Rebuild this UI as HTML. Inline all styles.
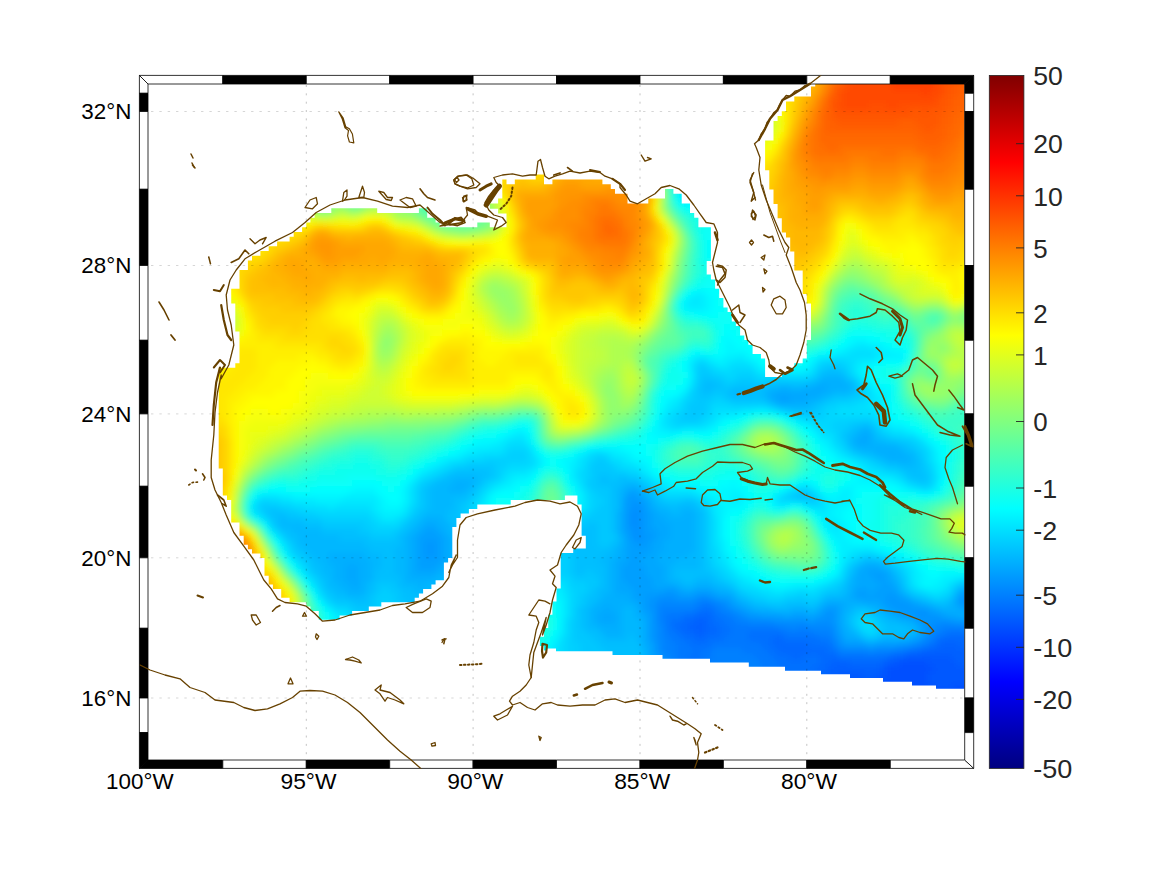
<!DOCTYPE html>
<html><head><meta charset="utf-8"><title>map</title>
<style>html,body{margin:0;padding:0;background:#fff;}svg{display:block}</style></head>
<body><svg width="1167" height="875" viewBox="0 0 1167 875">
<rect width="1167" height="875" fill="#fff"/>
<defs><clipPath id="oc"><path d="M548.2 758.1H964.7V760.3H548.2zM548.2 753.8H964.7V758.7H548.2zM548.2 749.5H964.7V754.4H548.2zM548.2 745.2H964.7V750.1H548.2zM548.2 740.9H964.7V745.8H548.2zM548.2 736.6H964.7V741.5H548.2zM548.2 732.3H964.7V737.2H548.2zM548.2 728.0H964.7V732.9H548.2zM548.2 723.7H964.7V728.6H548.2zM548.2 719.3H964.7V724.3H548.2zM548.2 715.0H964.7V719.9H548.2zM548.2 710.7H964.7V715.6H548.2zM548.2 706.4H964.7V711.3H548.2zM548.2 702.0H964.7V707.0H548.2zM548.2 697.7H964.7V702.6H548.2zM548.2 693.4H964.7V698.3H548.2zM548.2 689.0H964.7V694.0H548.2zM548.2 684.7H964.7V689.6H548.2zM548.2 680.3H964.7V685.3H548.2zM548.2 676.0H964.7V680.9H548.2zM548.2 671.6H964.7V676.6H548.2zM548.2 667.3H964.7V672.2H548.2zM548.2 662.9H964.7V667.9H548.2zM548.2 658.6H964.7V663.5H548.2zM548.2 654.2H964.7V659.2H548.2zM548.2 649.8H964.7V654.8H548.2zM544.0 645.5H964.7V650.4H544.0zM539.9 641.1H964.7V646.1H539.9zM539.9 636.7H964.7V641.7H539.9zM544.0 632.4H964.7V637.3H544.0zM544.0 628.0H964.7V633.0H544.0zM548.2 623.6H964.7V628.6H548.2zM548.2 619.2H964.7V624.2H548.2zM318.8 614.8H339.6V619.8H318.8zM548.2 614.8H964.7V619.8H548.2zM318.8 610.4H352.1V615.4H318.8zM552.4 610.4H964.7V615.4H552.4zM310.4 606.0H368.8V611.0H310.4zM552.4 606.0H964.7V611.0H552.4zM306.3 601.6H381.3V606.6H306.3zM552.4 601.6H964.7V606.6H552.4zM289.6 597.2H414.7V602.2H289.6zM556.5 597.2H964.7V602.2H556.5zM281.2 592.8H418.9V597.8H281.2zM556.5 592.8H964.7V597.8H556.5zM281.2 588.4H423.1V593.4H281.2zM556.5 588.4H964.7V593.4H556.5zM272.9 584.0H431.4V589.0H272.9zM560.7 584.0H964.7V589.0H560.7zM268.7 579.6H435.6V584.6H268.7zM560.7 579.6H964.7V584.6H560.7zM268.7 575.2H443.9V580.2H268.7zM560.7 575.2H964.7V580.2H560.7zM264.5 570.8H443.9V575.8H264.5zM560.7 570.8H964.7V575.8H560.7zM264.5 566.3H443.9V571.4H264.5zM560.7 566.3H964.7V571.4H560.7zM264.5 561.9H443.9V566.9H264.5zM560.7 561.9H964.7V566.9H560.7zM264.5 557.5H448.1V562.5H264.5zM560.7 557.5H964.7V562.5H560.7zM260.4 553.0H452.3V558.1H260.4zM560.7 553.0H964.7V558.1H560.7zM252.0 548.6H452.3V553.6H252.0zM573.2 548.6H964.7V553.6H573.2zM247.9 544.1H452.3V549.2H247.9zM585.8 544.1H964.7V549.2H585.8zM243.7 539.7H452.3V544.7H243.7zM585.8 539.7H964.7V544.7H585.8zM243.7 535.2H452.3V540.3H243.7zM585.8 535.2H964.7V540.3H585.8zM239.5 530.8H452.3V535.8H239.5zM581.6 530.8H964.7V535.8H581.6zM239.5 526.3H452.3V531.4H239.5zM581.6 526.3H964.7V531.4H581.6zM239.5 521.9H456.4V526.9H239.5zM581.6 521.9H964.7V526.9H581.6zM231.2 517.4H456.4V522.5H231.2zM581.6 517.4H964.7V522.5H581.6zM231.2 512.9H460.6V518.0H231.2zM581.6 512.9H964.7V518.0H581.6zM231.2 508.5H468.9V513.5H231.2zM581.6 508.5H964.7V513.5H581.6zM231.2 504.0H477.3V509.1H231.2zM581.6 504.0H964.7V509.1H581.6zM231.2 499.5H510.7V504.6H231.2zM577.4 499.5H964.7V504.6H577.4zM227.0 495.0H564.9V500.1H227.0zM577.4 495.0H964.7V500.1H577.4zM222.8 490.5H964.7V495.6H222.8zM222.8 486.0H964.7V491.1H222.8zM222.8 481.6H964.7V486.6H222.8zM222.8 477.1H964.7V482.2H222.8zM222.8 472.5H964.7V477.7H222.8zM222.8 468.0H964.7V473.1H222.8zM218.7 463.5H964.7V468.6H218.7zM218.7 459.0H964.7V464.1H218.7zM218.7 454.5H964.7V459.6H218.7zM218.7 450.0H964.7V455.1H218.7zM218.7 445.4H964.7V450.6H218.7zM218.7 440.9H964.7V446.0H218.7zM218.7 436.4H964.7V441.5H218.7zM218.7 431.8H964.7V437.0H218.7zM218.7 427.3H964.7V432.4H218.7zM218.7 422.7H964.7V427.9H218.7zM218.7 418.2H964.7V423.3H218.7zM218.7 413.6H964.7V418.8H218.7zM218.7 409.1H964.7V414.2H218.7zM218.7 404.5H964.7V409.7H218.7zM218.7 399.9H964.7V405.1H218.7zM218.7 395.3H964.7V400.5H218.7zM218.7 390.8H964.7V395.9H218.7zM218.7 386.2H964.7V391.4H218.7zM218.7 381.6H964.7V386.8H218.7zM218.7 377.0H964.7V382.2H218.7zM218.7 372.4H765.1V377.6H218.7zM781.8 372.4H964.7V377.6H781.8zM218.7 367.8H765.1V373.0H218.7zM790.2 367.8H964.7V373.0H790.2zM235.3 363.2H765.1V368.4H235.3zM794.3 363.2H964.7V368.4H794.3zM239.5 358.6H765.1V363.8H239.5zM802.7 358.6H964.7V363.8H802.7zM239.5 353.9H761.0V359.2H239.5zM806.8 353.9H964.7V359.2H806.8zM239.5 349.3H752.6V354.5H239.5zM806.8 349.3H964.7V354.5H806.8zM239.5 344.7H752.6V349.9H239.5zM806.8 344.7H964.7V349.9H806.8zM239.5 340.0H748.4V345.3H239.5zM806.8 340.0H964.7V345.3H806.8zM239.5 335.4H744.3V340.6H239.5zM811.0 335.4H964.7V340.6H811.0zM239.5 330.8H740.1V336.0H239.5zM811.0 330.8H964.7V336.0H811.0zM235.3 326.1H740.1V331.4H235.3zM811.0 326.1H964.7V331.4H811.0zM235.3 321.5H735.9V326.7H235.3zM811.0 321.5H964.7V326.7H811.0zM235.3 316.8H731.8V322.1H235.3zM811.0 316.8H964.7V322.1H811.0zM235.3 312.1H731.8V317.4H235.3zM811.0 312.1H964.7V317.4H811.0zM235.3 307.5H727.6V312.7H235.3zM811.0 307.5H964.7V312.7H811.0zM235.3 302.8H723.4V308.1H235.3zM811.0 302.8H964.7V308.1H811.0zM231.2 298.1H723.4V303.4H231.2zM806.8 298.1H964.7V303.4H806.8zM231.2 293.4H719.2V298.7H231.2zM806.8 293.4H964.7V298.7H806.8zM231.2 288.7H719.2V294.0H231.2zM802.7 288.7H964.7V294.0H802.7zM239.5 284.1H715.1V289.3H239.5zM802.7 284.1H964.7V289.3H802.7zM239.5 279.4H715.1V284.7H239.5zM802.7 279.4H964.7V284.7H802.7zM239.5 274.6H710.9V280.0H239.5zM802.7 274.6H964.7V280.0H802.7zM239.5 269.9H706.7V275.2H239.5zM802.7 269.9H964.7V275.2H802.7zM247.9 265.2H706.7V270.5H247.9zM794.3 265.2H964.7V270.5H794.3zM247.9 260.5H706.7V265.8H247.9zM794.3 260.5H964.7V265.8H794.3zM252.0 255.8H710.9V261.1H252.0zM794.3 255.8H964.7V261.1H794.3zM260.4 251.0H710.9V256.4H260.4zM794.3 251.0H964.7V256.4H794.3zM268.7 246.3H710.9V251.6H268.7zM790.2 246.3H964.7V251.6H790.2zM277.1 241.6H710.9V246.9H277.1zM790.2 241.6H964.7V246.9H790.2zM289.6 236.8H710.9V242.2H289.6zM790.2 236.8H964.7V242.2H790.2zM293.7 232.0H710.9V237.4H293.7zM786.0 232.0H964.7V237.4H786.0zM302.1 227.3H710.9V232.6H302.1zM781.8 227.3H964.7V232.6H781.8zM306.3 222.5H439.7V227.9H306.3zM477.3 222.5H489.8V227.9H477.3zM506.5 222.5H698.4V227.9H506.5zM781.8 222.5H964.7V227.9H781.8zM310.4 217.7H435.6V223.1H310.4zM506.5 217.7H698.4V223.1H506.5zM781.8 217.7H964.7V223.1H781.8zM314.6 213.0H427.2V218.3H314.6zM506.5 213.0H694.2V218.3H506.5zM777.6 213.0H964.7V218.3H777.6zM331.3 208.2H377.2V213.6H331.3zM418.9 208.2H427.2V213.6H418.9zM498.1 208.2H690.0V213.6H498.1zM777.6 208.2H964.7V213.6H777.6zM489.8 203.4H690.0V208.8H489.8zM777.6 203.4H964.7V208.8H777.6zM498.1 198.6H627.5V204.0H498.1zM648.3 198.6H681.7V204.0H648.3zM773.5 198.6H964.7V204.0H773.5zM502.3 193.8H627.5V199.2H502.3zM665.0 193.8H681.7V199.2H665.0zM773.5 193.8H964.7V199.2H773.5zM502.3 189.0H615.0V194.4H502.3zM665.0 189.0H673.4V194.4H665.0zM773.5 189.0H964.7V194.4H773.5zM502.3 184.2H610.8V189.6H502.3zM769.3 184.2H964.7V189.6H769.3zM502.3 179.4H506.5V184.8H502.3zM514.8 179.4H544.0V184.8H514.8zM552.4 179.4H602.4V184.8H552.4zM769.3 179.4H964.7V184.8H769.3zM535.7 174.5H544.0V180.0H535.7zM769.3 174.5H964.7V180.0H769.3zM769.3 169.7H964.7V175.1H769.3zM765.1 164.9H964.7V170.3H765.1zM765.1 160.0H964.7V165.5H765.1zM765.1 155.2H964.7V160.6H765.1zM765.1 150.3H964.7V155.8H765.1zM765.1 145.4H964.7V150.9H765.1zM765.1 140.6H964.7V146.0H765.1zM773.5 135.7H964.7V141.2H773.5zM773.5 130.8H964.7V136.3H773.5zM773.5 125.9H964.7V131.4H773.5zM773.5 121.0H964.7V126.5H773.5zM777.6 116.1H964.7V121.6H777.6zM781.8 111.2H964.7V116.7H781.8zM786.0 106.3H964.7V111.8H786.0zM786.0 101.4H964.7V106.9H786.0zM794.3 96.4H964.7V102.0H794.3zM811.0 91.5H964.7V97.0H811.0zM811.0 86.5H964.7V92.1H811.0zM815.2 83.7H964.7V87.1H815.2z"/></clipPath><clipPath id="so"><polygon points="148.0,84.0 964.7,84.0 964.7,688.8 964.7,688.8 936.0,688.8 936.0,685.5 912.0,685.5 912.0,681.8 883.0,681.8 883.0,678.0 850.0,678.0 850.0,674.2 821.0,674.2 821.0,670.8 785.0,670.8 785.0,666.8 748.8,666.8 748.8,662.5 710.0,662.5 710.0,658.8 662.5,658.8 662.5,655.0 612.5,655.0 612.5,651.2 556.0,651.2 556.0,648.5 547.0,648.5 547.0,760.0 148.0,760.0"/></clipPath><filter id="bl" x="-5%" y="-5%" width="110%" height="110%"><feGaussianBlur stdDeviation="3.0"/></filter></defs><g clip-path="url(#so)"><g clip-path="url(#oc)"><g filter="url(#bl)"><path fill="#0050ff" d="M898 660h30.5v6.5h-30.5zM886 666h48.5v6.5h-48.5zM886 672h42.5v6.5h-42.5zM880 678h48.5v6.5h-48.5zM874 684h60.5v6.5h-60.5zM952 684h24.5v6.5h-24.5zM850 690h126.5v6.5h-126.5zM844 696h132.5v6.5h-132.5z"/><path fill="#0058ff" d="M904 654h48.5v6.5h-48.5zM886 660h12.5v6.5h-12.5zM928 660h30.5v6.5h-30.5zM880 666h6.5v6.5h-6.5zM934 666h42.5v6.5h-42.5zM838 672h24.5v6.5h-24.5zM874 672h12.5v6.5h-12.5zM928 672h48.5v6.5h-48.5zM838 678h42.5v6.5h-42.5zM928 678h48.5v6.5h-48.5zM838 684h36.5v6.5h-36.5zM934 684h18.5v6.5h-18.5zM832 690h18.5v6.5h-18.5zM832 696h12.5v6.5h-12.5z"/><path fill="#0060ff" d="M694 618h12.5v6.5h-12.5zM688 624h18.5v6.5h-18.5zM694 630h12.5v6.5h-12.5zM940 642h18.5v6.5h-18.5zM922 648h54.5v6.5h-54.5zM892 654h12.5v6.5h-12.5zM952 654h24.5v6.5h-24.5zM832 660h18.5v6.5h-18.5zM880 660h6.5v6.5h-6.5zM958 660h18.5v6.5h-18.5zM826 666h54.5v6.5h-54.5zM826 672h12.5v6.5h-12.5zM862 672h12.5v6.5h-12.5zM826 678h12.5v6.5h-12.5zM820 684h18.5v6.5h-18.5zM820 690h12.5v6.5h-12.5zM814 696h18.5v6.5h-18.5z"/><path fill="#0068ff" d="M694 612h18.5v6.5h-18.5zM682 618h12.5v6.5h-12.5zM706 618h6.5v6.5h-6.5zM676 624h12.5v6.5h-12.5zM706 624h12.5v6.5h-12.5zM682 630h12.5v6.5h-12.5zM706 630h12.5v6.5h-12.5zM694 636h12.5v6.5h-12.5zM772 636h12.5v6.5h-12.5zM940 636h36.5v6.5h-36.5zM772 642h36.5v6.5h-36.5zM934 642h6.5v6.5h-6.5zM958 642h18.5v6.5h-18.5zM778 648h48.5v6.5h-48.5zM910 648h12.5v6.5h-12.5zM790 654h12.5v6.5h-12.5zM820 654h18.5v6.5h-18.5zM886 654h6.5v6.5h-6.5zM820 660h12.5v6.5h-12.5zM850 660h30.5v6.5h-30.5zM814 666h12.5v6.5h-12.5zM814 672h12.5v6.5h-12.5zM808 678h18.5v6.5h-18.5zM796 684h24.5v6.5h-24.5zM790 690h30.5v6.5h-30.5zM778 696h36.5v6.5h-36.5z"/><path fill="#0070ff" d="M700 606h12.5v6.5h-12.5zM682 612h12.5v6.5h-12.5zM712 612h6.5v6.5h-6.5zM670 618h12.5v6.5h-12.5zM712 618h12.5v6.5h-12.5zM670 624h6.5v6.5h-6.5zM718 624h12.5v6.5h-12.5zM676 630h6.5v6.5h-6.5zM718 630h12.5v6.5h-12.5zM748 630h36.5v6.5h-36.5zM946 630h24.5v6.5h-24.5zM682 636h12.5v6.5h-12.5zM706 636h18.5v6.5h-18.5zM748 636h24.5v6.5h-24.5zM784 636h36.5v6.5h-36.5zM934 636h6.5v6.5h-6.5zM688 642h24.5v6.5h-24.5zM760 642h12.5v6.5h-12.5zM808 642h24.5v6.5h-24.5zM928 642h6.5v6.5h-6.5zM694 648h6.5v6.5h-6.5zM766 648h12.5v6.5h-12.5zM826 648h12.5v6.5h-12.5zM904 648h6.5v6.5h-6.5zM688 654h12.5v6.5h-12.5zM772 654h18.5v6.5h-18.5zM802 654h18.5v6.5h-18.5zM838 654h48.5v6.5h-48.5zM688 660h12.5v6.5h-12.5zM778 660h42.5v6.5h-42.5zM778 666h36.5v6.5h-36.5zM784 672h30.5v6.5h-30.5zM784 678h24.5v6.5h-24.5zM778 684h18.5v6.5h-18.5zM760 690h30.5v6.5h-30.5zM754 696h24.5v6.5h-24.5z"/><path fill="#0078ff" d="M700 600h12.5v6.5h-12.5zM694 606h6.5v6.5h-6.5zM712 606h6.5v6.5h-6.5zM664 612h18.5v6.5h-18.5zM718 612h12.5v6.5h-12.5zM664 618h6.5v6.5h-6.5zM724 618h12.5v6.5h-12.5zM664 624h6.5v6.5h-6.5zM730 624h48.5v6.5h-48.5zM664 630h12.5v6.5h-12.5zM730 630h18.5v6.5h-18.5zM784 630h30.5v6.5h-30.5zM940 630h6.5v6.5h-6.5zM970 630h6.5v6.5h-6.5zM670 636h12.5v6.5h-12.5zM724 636h24.5v6.5h-24.5zM820 636h12.5v6.5h-12.5zM676 642h12.5v6.5h-12.5zM712 642h48.5v6.5h-48.5zM922 642h6.5v6.5h-6.5zM676 648h18.5v6.5h-18.5zM700 648h12.5v6.5h-12.5zM742 648h24.5v6.5h-24.5zM892 648h12.5v6.5h-12.5zM676 654h12.5v6.5h-12.5zM700 654h12.5v6.5h-12.5zM754 654h18.5v6.5h-18.5zM676 660h12.5v6.5h-12.5zM700 660h6.5v6.5h-6.5zM760 660h18.5v6.5h-18.5zM676 666h30.5v6.5h-30.5zM760 666h18.5v6.5h-18.5zM682 672h24.5v6.5h-24.5zM760 672h24.5v6.5h-24.5zM754 678h30.5v6.5h-30.5zM754 684h24.5v6.5h-24.5zM754 690h6.5v6.5h-6.5zM748 696h6.5v6.5h-6.5z"/><path fill="#0080ff" d="M694 600h6.5v6.5h-6.5zM712 600h6.5v6.5h-6.5zM658 606h36.5v6.5h-36.5zM718 606h6.5v6.5h-6.5zM658 612h6.5v6.5h-6.5zM730 612h6.5v6.5h-6.5zM658 618h6.5v6.5h-6.5zM736 618h12.5v6.5h-12.5zM778 624h12.5v6.5h-12.5zM796 624h12.5v6.5h-12.5zM940 624h24.5v6.5h-24.5zM814 630h18.5v6.5h-18.5zM934 630h6.5v6.5h-6.5zM664 636h6.5v6.5h-6.5zM928 636h6.5v6.5h-6.5zM664 642h12.5v6.5h-12.5zM832 642h6.5v6.5h-6.5zM916 642h6.5v6.5h-6.5zM664 648h12.5v6.5h-12.5zM712 648h30.5v6.5h-30.5zM838 648h30.5v6.5h-30.5zM874 648h18.5v6.5h-18.5zM670 654h6.5v6.5h-6.5zM712 654h42.5v6.5h-42.5zM670 660h6.5v6.5h-6.5zM706 660h54.5v6.5h-54.5zM670 666h6.5v6.5h-6.5zM706 666h18.5v6.5h-18.5zM736 666h24.5v6.5h-24.5zM676 672h6.5v6.5h-6.5zM706 672h18.5v6.5h-18.5zM736 672h24.5v6.5h-24.5zM676 678h48.5v6.5h-48.5zM730 678h24.5v6.5h-24.5zM682 684h72.5v6.5h-72.5zM718 690h36.5v6.5h-36.5zM718 696h30.5v6.5h-30.5z"/><path fill="#0087ff" d="M700 594h6.5v6.5h-6.5zM658 600h36.5v6.5h-36.5zM718 600h6.5v6.5h-6.5zM724 606h6.5v6.5h-6.5zM736 612h6.5v6.5h-6.5zM748 618h24.5v6.5h-24.5zM658 624h6.5v6.5h-6.5zM790 624h6.5v6.5h-6.5zM808 624h24.5v6.5h-24.5zM934 624h6.5v6.5h-6.5zM964 624h12.5v6.5h-12.5zM658 630h6.5v6.5h-6.5zM928 630h6.5v6.5h-6.5zM658 636h6.5v6.5h-6.5zM832 636h6.5v6.5h-6.5zM922 636h6.5v6.5h-6.5zM658 642h6.5v6.5h-6.5zM910 642h6.5v6.5h-6.5zM658 648h6.5v6.5h-6.5zM868 648h6.5v6.5h-6.5zM664 654h6.5v6.5h-6.5zM664 660h6.5v6.5h-6.5zM664 666h6.5v6.5h-6.5zM724 666h12.5v6.5h-12.5zM670 672h6.5v6.5h-6.5zM724 672h12.5v6.5h-12.5zM670 678h6.5v6.5h-6.5zM724 678h6.5v6.5h-6.5zM670 684h12.5v6.5h-12.5zM676 690h42.5v6.5h-42.5zM676 696h42.5v6.5h-42.5z"/><path fill="#008fff" d="M634 504h6.5v6.5h-6.5zM628 510h12.5v6.5h-12.5zM628 516h12.5v6.5h-12.5zM628 522h12.5v6.5h-12.5zM634 528h6.5v6.5h-6.5zM634 534h6.5v6.5h-6.5zM658 594h18.5v6.5h-18.5zM694 594h6.5v6.5h-6.5zM706 594h6.5v6.5h-6.5zM964 594h12.5v6.5h-12.5zM652 600h6.5v6.5h-6.5zM724 600h6.5v6.5h-6.5zM964 600h12.5v6.5h-12.5zM652 606h6.5v6.5h-6.5zM730 606h6.5v6.5h-6.5zM652 612h6.5v6.5h-6.5zM742 612h6.5v6.5h-6.5zM826 612h6.5v6.5h-6.5zM916 612h12.5v6.5h-12.5zM652 618h6.5v6.5h-6.5zM772 618h36.5v6.5h-36.5zM814 618h18.5v6.5h-18.5zM928 618h24.5v6.5h-24.5zM652 624h6.5v6.5h-6.5zM832 624h6.5v6.5h-6.5zM928 624h6.5v6.5h-6.5zM652 630h6.5v6.5h-6.5zM832 630h6.5v6.5h-6.5zM652 636h6.5v6.5h-6.5zM838 642h6.5v6.5h-6.5zM898 642h12.5v6.5h-12.5zM658 654h6.5v6.5h-6.5zM658 660h6.5v6.5h-6.5zM664 672h6.5v6.5h-6.5zM664 678h6.5v6.5h-6.5zM664 684h6.5v6.5h-6.5zM664 690h12.5v6.5h-12.5zM664 696h12.5v6.5h-12.5z"/><path fill="#0097ff" d="M628 492h6.5v6.5h-6.5zM628 498h12.5v6.5h-12.5zM628 504h6.5v6.5h-6.5zM640 504h6.5v6.5h-6.5zM640 510h6.5v6.5h-6.5zM640 516h6.5v6.5h-6.5zM640 522h6.5v6.5h-6.5zM628 528h6.5v6.5h-6.5zM640 528h6.5v6.5h-6.5zM628 534h6.5v6.5h-6.5zM640 534h12.5v6.5h-12.5zM424 540h12.5v6.5h-12.5zM634 540h12.5v6.5h-12.5zM424 546h12.5v6.5h-12.5zM424 552h12.5v6.5h-12.5zM664 588h12.5v6.5h-12.5zM646 594h12.5v6.5h-12.5zM676 594h18.5v6.5h-18.5zM712 594h6.5v6.5h-6.5zM886 594h12.5v6.5h-12.5zM958 594h6.5v6.5h-6.5zM646 600h6.5v6.5h-6.5zM886 600h24.5v6.5h-24.5zM958 600h6.5v6.5h-6.5zM646 606h6.5v6.5h-6.5zM736 606h6.5v6.5h-6.5zM826 606h12.5v6.5h-12.5zM892 606h36.5v6.5h-36.5zM748 612h12.5v6.5h-12.5zM820 612h6.5v6.5h-6.5zM832 612h6.5v6.5h-6.5zM904 612h12.5v6.5h-12.5zM928 612h12.5v6.5h-12.5zM808 618h6.5v6.5h-6.5zM832 618h6.5v6.5h-6.5zM916 618h12.5v6.5h-12.5zM952 618h24.5v6.5h-24.5zM922 624h6.5v6.5h-6.5zM922 630h6.5v6.5h-6.5zM838 636h6.5v6.5h-6.5zM916 636h6.5v6.5h-6.5zM652 642h6.5v6.5h-6.5zM844 642h24.5v6.5h-24.5zM874 642h24.5v6.5h-24.5zM652 648h6.5v6.5h-6.5zM658 666h6.5v6.5h-6.5zM658 672h6.5v6.5h-6.5zM658 678h6.5v6.5h-6.5zM658 684h6.5v6.5h-6.5zM658 690h6.5v6.5h-6.5zM658 696h6.5v6.5h-6.5z"/><path fill="#009fff" d="M778 396h12.5v6.5h-12.5zM634 492h6.5v6.5h-6.5zM622 498h6.5v6.5h-6.5zM640 498h6.5v6.5h-6.5zM622 504h6.5v6.5h-6.5zM622 510h6.5v6.5h-6.5zM646 510h6.5v6.5h-6.5zM622 516h6.5v6.5h-6.5zM646 516h6.5v6.5h-6.5zM622 522h6.5v6.5h-6.5zM646 522h6.5v6.5h-6.5zM424 528h12.5v6.5h-12.5zM622 528h6.5v6.5h-6.5zM646 528h12.5v6.5h-12.5zM418 534h24.5v6.5h-24.5zM652 534h6.5v6.5h-6.5zM418 540h6.5v6.5h-6.5zM436 540h6.5v6.5h-6.5zM628 540h6.5v6.5h-6.5zM646 540h6.5v6.5h-6.5zM418 546h6.5v6.5h-6.5zM436 546h6.5v6.5h-6.5zM628 546h24.5v6.5h-24.5zM418 552h6.5v6.5h-6.5zM436 552h6.5v6.5h-6.5zM628 552h18.5v6.5h-18.5zM418 558h24.5v6.5h-24.5zM628 558h12.5v6.5h-12.5zM418 564h18.5v6.5h-18.5zM622 564h24.5v6.5h-24.5zM622 570h24.5v6.5h-24.5zM868 570h18.5v6.5h-18.5zM622 576h30.5v6.5h-30.5zM874 576h12.5v6.5h-12.5zM628 582h24.5v6.5h-24.5zM880 582h12.5v6.5h-12.5zM634 588h30.5v6.5h-30.5zM676 588h6.5v6.5h-6.5zM694 588h18.5v6.5h-18.5zM856 588h12.5v6.5h-12.5zM874 588h24.5v6.5h-24.5zM964 588h12.5v6.5h-12.5zM634 594h12.5v6.5h-12.5zM718 594h12.5v6.5h-12.5zM856 594h30.5v6.5h-30.5zM898 594h6.5v6.5h-6.5zM640 600h6.5v6.5h-6.5zM730 600h6.5v6.5h-6.5zM880 600h6.5v6.5h-6.5zM910 600h6.5v6.5h-6.5zM640 606h6.5v6.5h-6.5zM742 606h6.5v6.5h-6.5zM820 606h6.5v6.5h-6.5zM886 606h6.5v6.5h-6.5zM928 606h6.5v6.5h-6.5zM964 606h12.5v6.5h-12.5zM646 612h6.5v6.5h-6.5zM760 612h24.5v6.5h-24.5zM790 612h18.5v6.5h-18.5zM814 612h6.5v6.5h-6.5zM898 612h6.5v6.5h-6.5zM940 612h6.5v6.5h-6.5zM970 612h6.5v6.5h-6.5zM646 618h6.5v6.5h-6.5zM646 624h6.5v6.5h-6.5zM646 630h6.5v6.5h-6.5zM838 630h6.5v6.5h-6.5zM646 636h6.5v6.5h-6.5zM910 636h6.5v6.5h-6.5zM868 642h6.5v6.5h-6.5zM652 654h6.5v6.5h-6.5zM652 660h6.5v6.5h-6.5zM652 666h6.5v6.5h-6.5zM652 672h6.5v6.5h-6.5zM652 678h6.5v6.5h-6.5zM652 684h6.5v6.5h-6.5zM646 690h12.5v6.5h-12.5zM646 696h12.5v6.5h-12.5z"/><path fill="#00a7ff" d="M814 384h12.5v6.5h-12.5zM772 390h48.5v6.5h-48.5zM772 396h6.5v6.5h-6.5zM790 396h18.5v6.5h-18.5zM862 432h6.5v6.5h-6.5zM856 438h12.5v6.5h-12.5zM628 486h12.5v6.5h-12.5zM622 492h6.5v6.5h-6.5zM640 492h6.5v6.5h-6.5zM646 498h6.5v6.5h-6.5zM646 504h6.5v6.5h-6.5zM652 510h6.5v6.5h-6.5zM652 516h12.5v6.5h-12.5zM424 522h12.5v6.5h-12.5zM652 522h18.5v6.5h-18.5zM418 528h6.5v6.5h-6.5zM436 528h6.5v6.5h-6.5zM658 528h12.5v6.5h-12.5zM412 534h6.5v6.5h-6.5zM442 534h6.5v6.5h-6.5zM622 534h6.5v6.5h-6.5zM658 534h12.5v6.5h-12.5zM412 540h6.5v6.5h-6.5zM442 540h6.5v6.5h-6.5zM622 540h6.5v6.5h-6.5zM652 540h12.5v6.5h-12.5zM412 546h6.5v6.5h-6.5zM442 546h6.5v6.5h-6.5zM622 546h6.5v6.5h-6.5zM652 546h12.5v6.5h-12.5zM412 552h6.5v6.5h-6.5zM442 552h6.5v6.5h-6.5zM622 552h6.5v6.5h-6.5zM646 552h12.5v6.5h-12.5zM412 558h6.5v6.5h-6.5zM442 558h6.5v6.5h-6.5zM616 558h12.5v6.5h-12.5zM640 558h18.5v6.5h-18.5zM346 564h12.5v6.5h-12.5zM412 564h6.5v6.5h-6.5zM436 564h6.5v6.5h-6.5zM616 564h6.5v6.5h-6.5zM646 564h18.5v6.5h-18.5zM862 564h18.5v6.5h-18.5zM346 570h12.5v6.5h-12.5zM412 570h24.5v6.5h-24.5zM616 570h6.5v6.5h-6.5zM646 570h18.5v6.5h-18.5zM856 570h12.5v6.5h-12.5zM886 570h6.5v6.5h-6.5zM346 576h12.5v6.5h-12.5zM616 576h6.5v6.5h-6.5zM652 576h12.5v6.5h-12.5zM856 576h18.5v6.5h-18.5zM886 576h6.5v6.5h-6.5zM352 582h6.5v6.5h-6.5zM616 582h12.5v6.5h-12.5zM652 582h24.5v6.5h-24.5zM856 582h24.5v6.5h-24.5zM892 582h6.5v6.5h-6.5zM616 588h18.5v6.5h-18.5zM682 588h12.5v6.5h-12.5zM712 588h6.5v6.5h-6.5zM850 588h6.5v6.5h-6.5zM868 588h6.5v6.5h-6.5zM958 588h6.5v6.5h-6.5zM628 594h6.5v6.5h-6.5zM730 594h6.5v6.5h-6.5zM850 594h6.5v6.5h-6.5zM904 594h6.5v6.5h-6.5zM634 600h6.5v6.5h-6.5zM736 600h6.5v6.5h-6.5zM826 600h18.5v6.5h-18.5zM862 600h18.5v6.5h-18.5zM916 600h6.5v6.5h-6.5zM952 600h6.5v6.5h-6.5zM604 606h6.5v6.5h-6.5zM748 606h6.5v6.5h-6.5zM838 606h6.5v6.5h-6.5zM880 606h6.5v6.5h-6.5zM934 606h6.5v6.5h-6.5zM958 606h6.5v6.5h-6.5zM598 612h18.5v6.5h-18.5zM640 612h6.5v6.5h-6.5zM784 612h6.5v6.5h-6.5zM808 612h6.5v6.5h-6.5zM838 612h6.5v6.5h-6.5zM892 612h6.5v6.5h-6.5zM946 612h12.5v6.5h-12.5zM964 612h6.5v6.5h-6.5zM598 618h18.5v6.5h-18.5zM838 618h6.5v6.5h-6.5zM910 618h6.5v6.5h-6.5zM838 624h6.5v6.5h-6.5zM916 624h6.5v6.5h-6.5zM916 630h6.5v6.5h-6.5zM844 636h18.5v6.5h-18.5zM904 636h6.5v6.5h-6.5zM646 642h6.5v6.5h-6.5zM646 648h6.5v6.5h-6.5zM646 654h6.5v6.5h-6.5zM646 660h6.5v6.5h-6.5zM646 666h6.5v6.5h-6.5zM646 672h6.5v6.5h-6.5zM646 678h6.5v6.5h-6.5zM640 684h12.5v6.5h-12.5zM640 690h6.5v6.5h-6.5zM640 696h6.5v6.5h-6.5z"/><path fill="#00afff" d="M820 378h24.5v6.5h-24.5zM778 384h12.5v6.5h-12.5zM802 384h12.5v6.5h-12.5zM826 384h24.5v6.5h-24.5zM766 390h6.5v6.5h-6.5zM820 390h12.5v6.5h-12.5zM766 396h6.5v6.5h-6.5zM808 396h12.5v6.5h-12.5zM778 402h30.5v6.5h-30.5zM862 426h6.5v6.5h-6.5zM856 432h6.5v6.5h-6.5zM868 432h6.5v6.5h-6.5zM850 438h6.5v6.5h-6.5zM868 438h6.5v6.5h-6.5zM856 444h42.5v6.5h-42.5zM874 450h30.5v6.5h-30.5zM886 456h24.5v6.5h-24.5zM454 480h18.5v6.5h-18.5zM448 486h18.5v6.5h-18.5zM622 486h6.5v6.5h-6.5zM652 504h6.5v6.5h-6.5zM616 510h6.5v6.5h-6.5zM658 510h12.5v6.5h-12.5zM682 510h12.5v6.5h-12.5zM424 516h18.5v6.5h-18.5zM616 516h6.5v6.5h-6.5zM664 516h30.5v6.5h-30.5zM418 522h6.5v6.5h-6.5zM436 522h12.5v6.5h-12.5zM616 522h6.5v6.5h-6.5zM670 522h24.5v6.5h-24.5zM412 528h6.5v6.5h-6.5zM442 528h6.5v6.5h-6.5zM616 528h6.5v6.5h-6.5zM670 528h24.5v6.5h-24.5zM406 534h6.5v6.5h-6.5zM448 534h6.5v6.5h-6.5zM670 534h24.5v6.5h-24.5zM406 540h6.5v6.5h-6.5zM448 540h24.5v6.5h-24.5zM664 540h30.5v6.5h-30.5zM406 546h6.5v6.5h-6.5zM448 546h24.5v6.5h-24.5zM616 546h6.5v6.5h-6.5zM664 546h30.5v6.5h-30.5zM328 552h36.5v6.5h-36.5zM406 552h6.5v6.5h-6.5zM448 552h24.5v6.5h-24.5zM616 552h6.5v6.5h-6.5zM658 552h30.5v6.5h-30.5zM328 558h42.5v6.5h-42.5zM406 558h6.5v6.5h-6.5zM448 558h18.5v6.5h-18.5zM610 558h6.5v6.5h-6.5zM658 558h18.5v6.5h-18.5zM334 564h12.5v6.5h-12.5zM358 564h12.5v6.5h-12.5zM406 564h6.5v6.5h-6.5zM442 564h24.5v6.5h-24.5zM610 564h6.5v6.5h-6.5zM664 564h6.5v6.5h-6.5zM856 564h6.5v6.5h-6.5zM880 564h6.5v6.5h-6.5zM334 570h12.5v6.5h-12.5zM358 570h12.5v6.5h-12.5zM406 570h6.5v6.5h-6.5zM436 570h24.5v6.5h-24.5zM610 570h6.5v6.5h-6.5zM664 570h6.5v6.5h-6.5zM334 576h12.5v6.5h-12.5zM358 576h12.5v6.5h-12.5zM406 576h30.5v6.5h-30.5zM610 576h6.5v6.5h-6.5zM664 576h6.5v6.5h-6.5zM850 576h6.5v6.5h-6.5zM892 576h6.5v6.5h-6.5zM340 582h12.5v6.5h-12.5zM358 582h6.5v6.5h-6.5zM418 582h6.5v6.5h-6.5zM610 582h6.5v6.5h-6.5zM676 582h6.5v6.5h-6.5zM694 582h18.5v6.5h-18.5zM850 582h6.5v6.5h-6.5zM346 588h18.5v6.5h-18.5zM610 588h6.5v6.5h-6.5zM718 588h12.5v6.5h-12.5zM898 588h6.5v6.5h-6.5zM604 594h24.5v6.5h-24.5zM844 594h6.5v6.5h-6.5zM952 594h6.5v6.5h-6.5zM598 600h36.5v6.5h-36.5zM742 600h6.5v6.5h-6.5zM820 600h6.5v6.5h-6.5zM844 600h18.5v6.5h-18.5zM922 600h6.5v6.5h-6.5zM592 606h12.5v6.5h-12.5zM610 606h12.5v6.5h-12.5zM634 606h6.5v6.5h-6.5zM754 606h18.5v6.5h-18.5zM790 606h18.5v6.5h-18.5zM814 606h6.5v6.5h-6.5zM844 606h6.5v6.5h-6.5zM874 606h6.5v6.5h-6.5zM940 606h18.5v6.5h-18.5zM592 612h6.5v6.5h-6.5zM616 612h6.5v6.5h-6.5zM634 612h6.5v6.5h-6.5zM886 612h6.5v6.5h-6.5zM958 612h6.5v6.5h-6.5zM592 618h6.5v6.5h-6.5zM616 618h6.5v6.5h-6.5zM640 618h6.5v6.5h-6.5zM898 618h12.5v6.5h-12.5zM598 624h24.5v6.5h-24.5zM640 624h6.5v6.5h-6.5zM844 624h6.5v6.5h-6.5zM604 630h18.5v6.5h-18.5zM640 630h6.5v6.5h-6.5zM844 630h12.5v6.5h-12.5zM640 636h6.5v6.5h-6.5zM880 636h24.5v6.5h-24.5zM640 642h6.5v6.5h-6.5zM640 666h6.5v6.5h-6.5zM640 672h6.5v6.5h-6.5zM640 678h6.5v6.5h-6.5zM634 684h6.5v6.5h-6.5zM634 690h6.5v6.5h-6.5zM634 696h6.5v6.5h-6.5z"/><path fill="#00b7ff" d="M820 372h24.5v6.5h-24.5zM814 378h6.5v6.5h-6.5zM844 378h6.5v6.5h-6.5zM706 384h6.5v6.5h-6.5zM766 384h12.5v6.5h-12.5zM790 384h12.5v6.5h-12.5zM850 384h6.5v6.5h-6.5zM730 390h18.5v6.5h-18.5zM760 390h6.5v6.5h-6.5zM832 390h18.5v6.5h-18.5zM820 396h6.5v6.5h-6.5zM772 402h6.5v6.5h-6.5zM808 402h6.5v6.5h-6.5zM856 426h6.5v6.5h-6.5zM868 426h6.5v6.5h-6.5zM850 432h6.5v6.5h-6.5zM874 438h12.5v6.5h-12.5zM850 444h6.5v6.5h-6.5zM898 444h6.5v6.5h-6.5zM862 450h12.5v6.5h-12.5zM904 450h12.5v6.5h-12.5zM880 456h6.5v6.5h-6.5zM910 456h6.5v6.5h-6.5zM898 462h18.5v6.5h-18.5zM448 474h30.5v6.5h-30.5zM436 480h18.5v6.5h-18.5zM472 480h6.5v6.5h-6.5zM622 480h18.5v6.5h-18.5zM430 486h18.5v6.5h-18.5zM466 486h6.5v6.5h-6.5zM616 486h6.5v6.5h-6.5zM640 486h6.5v6.5h-6.5zM430 492h36.5v6.5h-36.5zM616 492h6.5v6.5h-6.5zM646 492h6.5v6.5h-6.5zM430 498h24.5v6.5h-24.5zM616 498h6.5v6.5h-6.5zM652 498h6.5v6.5h-6.5zM430 504h24.5v6.5h-24.5zM616 504h6.5v6.5h-6.5zM658 504h12.5v6.5h-12.5zM676 504h18.5v6.5h-18.5zM424 510h24.5v6.5h-24.5zM670 510h12.5v6.5h-12.5zM694 510h6.5v6.5h-6.5zM280 516h6.5v6.5h-6.5zM418 516h6.5v6.5h-6.5zM442 516h6.5v6.5h-6.5zM694 516h6.5v6.5h-6.5zM280 522h24.5v6.5h-24.5zM412 522h6.5v6.5h-6.5zM448 522h6.5v6.5h-6.5zM694 522h6.5v6.5h-6.5zM292 528h30.5v6.5h-30.5zM406 528h6.5v6.5h-6.5zM448 528h12.5v6.5h-12.5zM694 528h6.5v6.5h-6.5zM298 534h42.5v6.5h-42.5zM400 534h6.5v6.5h-6.5zM454 534h18.5v6.5h-18.5zM616 534h6.5v6.5h-6.5zM694 534h6.5v6.5h-6.5zM298 540h66.5v6.5h-66.5zM400 540h6.5v6.5h-6.5zM616 540h6.5v6.5h-6.5zM694 540h6.5v6.5h-6.5zM304 546h66.5v6.5h-66.5zM394 546h12.5v6.5h-12.5zM610 546h6.5v6.5h-6.5zM694 546h6.5v6.5h-6.5zM310 552h18.5v6.5h-18.5zM364 552h18.5v6.5h-18.5zM394 552h12.5v6.5h-12.5zM604 552h12.5v6.5h-12.5zM688 552h12.5v6.5h-12.5zM316 558h12.5v6.5h-12.5zM370 558h12.5v6.5h-12.5zM394 558h12.5v6.5h-12.5zM598 558h12.5v6.5h-12.5zM676 558h24.5v6.5h-24.5zM862 558h18.5v6.5h-18.5zM322 564h12.5v6.5h-12.5zM370 564h12.5v6.5h-12.5zM394 564h12.5v6.5h-12.5zM604 564h6.5v6.5h-6.5zM670 564h30.5v6.5h-30.5zM886 564h6.5v6.5h-6.5zM322 570h12.5v6.5h-12.5zM370 570h6.5v6.5h-6.5zM394 570h12.5v6.5h-12.5zM604 570h6.5v6.5h-6.5zM670 570h6.5v6.5h-6.5zM850 570h6.5v6.5h-6.5zM892 570h6.5v6.5h-6.5zM328 576h6.5v6.5h-6.5zM370 576h6.5v6.5h-6.5zM400 576h6.5v6.5h-6.5zM436 576h24.5v6.5h-24.5zM604 576h6.5v6.5h-6.5zM670 576h12.5v6.5h-12.5zM694 576h18.5v6.5h-18.5zM328 582h12.5v6.5h-12.5zM364 582h6.5v6.5h-6.5zM400 582h18.5v6.5h-18.5zM424 582h30.5v6.5h-30.5zM604 582h6.5v6.5h-6.5zM682 582h12.5v6.5h-12.5zM712 582h12.5v6.5h-12.5zM844 582h6.5v6.5h-6.5zM898 582h6.5v6.5h-6.5zM964 582h12.5v6.5h-12.5zM334 588h12.5v6.5h-12.5zM364 588h6.5v6.5h-6.5zM412 588h36.5v6.5h-36.5zM598 588h12.5v6.5h-12.5zM730 588h6.5v6.5h-6.5zM844 588h6.5v6.5h-6.5zM346 594h18.5v6.5h-18.5zM424 594h18.5v6.5h-18.5zM598 594h6.5v6.5h-6.5zM736 594h6.5v6.5h-6.5zM826 594h18.5v6.5h-18.5zM910 594h6.5v6.5h-6.5zM592 600h6.5v6.5h-6.5zM748 600h6.5v6.5h-6.5zM928 600h6.5v6.5h-6.5zM946 600h6.5v6.5h-6.5zM586 606h6.5v6.5h-6.5zM622 606h12.5v6.5h-12.5zM772 606h18.5v6.5h-18.5zM808 606h6.5v6.5h-6.5zM850 606h6.5v6.5h-6.5zM868 606h6.5v6.5h-6.5zM586 612h6.5v6.5h-6.5zM622 612h12.5v6.5h-12.5zM844 612h6.5v6.5h-6.5zM880 612h6.5v6.5h-6.5zM586 618h6.5v6.5h-6.5zM622 618h18.5v6.5h-18.5zM844 618h6.5v6.5h-6.5zM886 618h12.5v6.5h-12.5zM586 624h12.5v6.5h-12.5zM622 624h18.5v6.5h-18.5zM904 624h12.5v6.5h-12.5zM598 630h6.5v6.5h-6.5zM622 630h18.5v6.5h-18.5zM910 630h6.5v6.5h-6.5zM604 636h24.5v6.5h-24.5zM634 636h6.5v6.5h-6.5zM862 636h6.5v6.5h-6.5zM874 636h6.5v6.5h-6.5zM640 648h6.5v6.5h-6.5zM640 654h6.5v6.5h-6.5zM640 660h6.5v6.5h-6.5zM634 666h6.5v6.5h-6.5zM634 672h6.5v6.5h-6.5zM628 678h12.5v6.5h-12.5zM628 684h6.5v6.5h-6.5zM628 690h6.5v6.5h-6.5zM628 696h6.5v6.5h-6.5z"/><path fill="#00bfff" d="M826 366h12.5v6.5h-12.5zM700 378h18.5v6.5h-18.5zM808 378h6.5v6.5h-6.5zM850 378h6.5v6.5h-6.5zM700 384h6.5v6.5h-6.5zM712 384h12.5v6.5h-12.5zM730 384h36.5v6.5h-36.5zM700 390h12.5v6.5h-12.5zM724 390h6.5v6.5h-6.5zM748 390h12.5v6.5h-12.5zM850 390h6.5v6.5h-6.5zM730 396h36.5v6.5h-36.5zM826 396h6.5v6.5h-6.5zM814 402h6.5v6.5h-6.5zM790 408h24.5v6.5h-24.5zM862 420h6.5v6.5h-6.5zM850 426h6.5v6.5h-6.5zM844 432h6.5v6.5h-6.5zM874 432h6.5v6.5h-6.5zM844 438h6.5v6.5h-6.5zM886 438h12.5v6.5h-12.5zM904 444h6.5v6.5h-6.5zM856 450h6.5v6.5h-6.5zM874 456h6.5v6.5h-6.5zM916 456h6.5v6.5h-6.5zM886 462h12.5v6.5h-12.5zM916 462h6.5v6.5h-6.5zM454 468h36.5v6.5h-36.5zM904 468h18.5v6.5h-18.5zM442 474h6.5v6.5h-6.5zM478 474h12.5v6.5h-12.5zM598 474h12.5v6.5h-12.5zM616 474h12.5v6.5h-12.5zM910 474h18.5v6.5h-18.5zM430 480h6.5v6.5h-6.5zM478 480h6.5v6.5h-6.5zM598 480h24.5v6.5h-24.5zM424 486h6.5v6.5h-6.5zM472 486h6.5v6.5h-6.5zM610 486h6.5v6.5h-6.5zM646 486h6.5v6.5h-6.5zM424 492h6.5v6.5h-6.5zM466 492h6.5v6.5h-6.5zM610 492h6.5v6.5h-6.5zM652 492h6.5v6.5h-6.5zM796 492h12.5v6.5h-12.5zM424 498h6.5v6.5h-6.5zM454 498h12.5v6.5h-12.5zM610 498h6.5v6.5h-6.5zM658 498h6.5v6.5h-6.5zM682 498h12.5v6.5h-12.5zM424 504h6.5v6.5h-6.5zM454 504h6.5v6.5h-6.5zM610 504h6.5v6.5h-6.5zM670 504h6.5v6.5h-6.5zM694 504h6.5v6.5h-6.5zM268 510h18.5v6.5h-18.5zM418 510h6.5v6.5h-6.5zM448 510h12.5v6.5h-12.5zM610 510h6.5v6.5h-6.5zM700 510h6.5v6.5h-6.5zM274 516h6.5v6.5h-6.5zM286 516h18.5v6.5h-18.5zM412 516h6.5v6.5h-6.5zM448 516h12.5v6.5h-12.5zM610 516h6.5v6.5h-6.5zM700 516h6.5v6.5h-6.5zM274 522h6.5v6.5h-6.5zM304 522h18.5v6.5h-18.5zM406 522h6.5v6.5h-6.5zM454 522h12.5v6.5h-12.5zM586 522h12.5v6.5h-12.5zM610 522h6.5v6.5h-6.5zM700 522h6.5v6.5h-6.5zM280 528h12.5v6.5h-12.5zM322 528h36.5v6.5h-36.5zM400 528h6.5v6.5h-6.5zM460 528h12.5v6.5h-12.5zM568 528h30.5v6.5h-30.5zM610 528h6.5v6.5h-6.5zM700 528h6.5v6.5h-6.5zM286 534h12.5v6.5h-12.5zM340 534h30.5v6.5h-30.5zM394 534h6.5v6.5h-6.5zM574 534h24.5v6.5h-24.5zM700 534h6.5v6.5h-6.5zM292 540h6.5v6.5h-6.5zM364 540h36.5v6.5h-36.5zM574 540h24.5v6.5h-24.5zM610 540h6.5v6.5h-6.5zM700 540h6.5v6.5h-6.5zM298 546h6.5v6.5h-6.5zM370 546h24.5v6.5h-24.5zM574 546h36.5v6.5h-36.5zM700 546h6.5v6.5h-6.5zM304 552h6.5v6.5h-6.5zM382 552h12.5v6.5h-12.5zM574 552h30.5v6.5h-30.5zM700 552h6.5v6.5h-6.5zM310 558h6.5v6.5h-6.5zM382 558h12.5v6.5h-12.5zM574 558h24.5v6.5h-24.5zM700 558h6.5v6.5h-6.5zM880 558h6.5v6.5h-6.5zM310 564h12.5v6.5h-12.5zM382 564h12.5v6.5h-12.5zM574 564h30.5v6.5h-30.5zM700 564h6.5v6.5h-6.5zM850 564h6.5v6.5h-6.5zM316 570h6.5v6.5h-6.5zM376 570h18.5v6.5h-18.5zM574 570h12.5v6.5h-12.5zM592 570h12.5v6.5h-12.5zM676 570h36.5v6.5h-36.5zM322 576h6.5v6.5h-6.5zM376 576h24.5v6.5h-24.5zM598 576h6.5v6.5h-6.5zM682 576h12.5v6.5h-12.5zM712 576h6.5v6.5h-6.5zM844 576h6.5v6.5h-6.5zM898 576h6.5v6.5h-6.5zM322 582h6.5v6.5h-6.5zM370 582h6.5v6.5h-6.5zM394 582h6.5v6.5h-6.5zM598 582h6.5v6.5h-6.5zM724 582h6.5v6.5h-6.5zM958 582h6.5v6.5h-6.5zM328 588h6.5v6.5h-6.5zM370 588h6.5v6.5h-6.5zM400 588h12.5v6.5h-12.5zM592 588h6.5v6.5h-6.5zM838 588h6.5v6.5h-6.5zM904 588h6.5v6.5h-6.5zM952 588h6.5v6.5h-6.5zM334 594h12.5v6.5h-12.5zM364 594h6.5v6.5h-6.5zM400 594h24.5v6.5h-24.5zM586 594h12.5v6.5h-12.5zM742 594h6.5v6.5h-6.5zM820 594h6.5v6.5h-6.5zM916 594h6.5v6.5h-6.5zM352 600h18.5v6.5h-18.5zM406 600h24.5v6.5h-24.5zM586 600h6.5v6.5h-6.5zM754 600h12.5v6.5h-12.5zM784 600h24.5v6.5h-24.5zM814 600h6.5v6.5h-6.5zM934 600h12.5v6.5h-12.5zM406 606h18.5v6.5h-18.5zM580 606h6.5v6.5h-6.5zM856 606h12.5v6.5h-12.5zM406 612h12.5v6.5h-12.5zM580 612h6.5v6.5h-6.5zM850 612h6.5v6.5h-6.5zM874 612h6.5v6.5h-6.5zM580 618h6.5v6.5h-6.5zM880 618h6.5v6.5h-6.5zM580 624h6.5v6.5h-6.5zM850 624h6.5v6.5h-6.5zM886 624h18.5v6.5h-18.5zM586 630h12.5v6.5h-12.5zM856 630h6.5v6.5h-6.5zM880 630h30.5v6.5h-30.5zM592 636h12.5v6.5h-12.5zM628 636h6.5v6.5h-6.5zM868 636h6.5v6.5h-6.5zM598 642h42.5v6.5h-42.5zM604 648h36.5v6.5h-36.5zM610 654h30.5v6.5h-30.5zM622 660h18.5v6.5h-18.5zM622 666h12.5v6.5h-12.5zM622 672h12.5v6.5h-12.5zM616 678h12.5v6.5h-12.5zM616 684h12.5v6.5h-12.5zM616 690h12.5v6.5h-12.5zM616 696h12.5v6.5h-12.5z"/><path fill="#00c7ff" d="M700 366h6.5v6.5h-6.5zM820 366h6.5v6.5h-6.5zM838 366h6.5v6.5h-6.5zM700 372h12.5v6.5h-12.5zM814 372h6.5v6.5h-6.5zM844 372h6.5v6.5h-6.5zM718 378h6.5v6.5h-6.5zM736 378h18.5v6.5h-18.5zM766 378h42.5v6.5h-42.5zM694 384h6.5v6.5h-6.5zM724 384h6.5v6.5h-6.5zM856 384h6.5v6.5h-6.5zM694 390h6.5v6.5h-6.5zM712 390h12.5v6.5h-12.5zM856 390h6.5v6.5h-6.5zM694 396h18.5v6.5h-18.5zM724 396h6.5v6.5h-6.5zM832 396h18.5v6.5h-18.5zM688 402h18.5v6.5h-18.5zM766 402h6.5v6.5h-6.5zM820 402h6.5v6.5h-6.5zM688 408h18.5v6.5h-18.5zM784 408h6.5v6.5h-6.5zM814 408h6.5v6.5h-6.5zM682 414h18.5v6.5h-18.5zM850 420h12.5v6.5h-12.5zM868 420h6.5v6.5h-6.5zM844 426h6.5v6.5h-6.5zM874 426h6.5v6.5h-6.5zM838 432h6.5v6.5h-6.5zM880 432h6.5v6.5h-6.5zM898 438h12.5v6.5h-12.5zM844 444h6.5v6.5h-6.5zM910 444h6.5v6.5h-6.5zM850 450h6.5v6.5h-6.5zM916 450h6.5v6.5h-6.5zM598 456h6.5v6.5h-6.5zM868 456h6.5v6.5h-6.5zM466 462h30.5v6.5h-30.5zM592 462h18.5v6.5h-18.5zM880 462h6.5v6.5h-6.5zM922 462h6.5v6.5h-6.5zM448 468h6.5v6.5h-6.5zM490 468h6.5v6.5h-6.5zM592 468h24.5v6.5h-24.5zM898 468h6.5v6.5h-6.5zM922 468h6.5v6.5h-6.5zM436 474h6.5v6.5h-6.5zM490 474h6.5v6.5h-6.5zM592 474h6.5v6.5h-6.5zM610 474h6.5v6.5h-6.5zM628 474h12.5v6.5h-12.5zM904 474h6.5v6.5h-6.5zM424 480h6.5v6.5h-6.5zM586 480h12.5v6.5h-12.5zM640 480h6.5v6.5h-6.5zM916 480h12.5v6.5h-12.5zM418 486h6.5v6.5h-6.5zM592 486h18.5v6.5h-18.5zM418 492h6.5v6.5h-6.5zM472 492h6.5v6.5h-6.5zM598 492h12.5v6.5h-12.5zM790 492h6.5v6.5h-6.5zM808 492h6.5v6.5h-6.5zM418 498h6.5v6.5h-6.5zM466 498h6.5v6.5h-6.5zM604 498h6.5v6.5h-6.5zM664 498h18.5v6.5h-18.5zM694 498h6.5v6.5h-6.5zM808 498h6.5v6.5h-6.5zM262 504h18.5v6.5h-18.5zM418 504h6.5v6.5h-6.5zM460 504h6.5v6.5h-6.5zM598 504h12.5v6.5h-12.5zM700 504h6.5v6.5h-6.5zM262 510h6.5v6.5h-6.5zM286 510h12.5v6.5h-12.5zM412 510h6.5v6.5h-6.5zM460 510h6.5v6.5h-6.5zM592 510h18.5v6.5h-18.5zM268 516h6.5v6.5h-6.5zM304 516h18.5v6.5h-18.5zM406 516h6.5v6.5h-6.5zM460 516h6.5v6.5h-6.5zM586 516h24.5v6.5h-24.5zM322 522h42.5v6.5h-42.5zM400 522h6.5v6.5h-6.5zM466 522h6.5v6.5h-6.5zM568 522h18.5v6.5h-18.5zM598 522h12.5v6.5h-12.5zM358 528h12.5v6.5h-12.5zM394 528h6.5v6.5h-6.5zM562 528h6.5v6.5h-6.5zM598 528h12.5v6.5h-12.5zM370 534h24.5v6.5h-24.5zM562 534h12.5v6.5h-12.5zM598 534h18.5v6.5h-18.5zM568 540h6.5v6.5h-6.5zM598 540h12.5v6.5h-12.5zM292 546h6.5v6.5h-6.5zM568 546h6.5v6.5h-6.5zM298 552h6.5v6.5h-6.5zM568 552h6.5v6.5h-6.5zM304 558h6.5v6.5h-6.5zM568 558h6.5v6.5h-6.5zM706 558h6.5v6.5h-6.5zM856 558h6.5v6.5h-6.5zM568 564h6.5v6.5h-6.5zM706 564h6.5v6.5h-6.5zM892 564h6.5v6.5h-6.5zM310 570h6.5v6.5h-6.5zM568 570h6.5v6.5h-6.5zM586 570h6.5v6.5h-6.5zM712 570h6.5v6.5h-6.5zM844 570h6.5v6.5h-6.5zM898 570h6.5v6.5h-6.5zM316 576h6.5v6.5h-6.5zM574 576h24.5v6.5h-24.5zM718 576h6.5v6.5h-6.5zM376 582h18.5v6.5h-18.5zM586 582h12.5v6.5h-12.5zM730 582h6.5v6.5h-6.5zM838 582h6.5v6.5h-6.5zM322 588h6.5v6.5h-6.5zM376 588h6.5v6.5h-6.5zM388 588h12.5v6.5h-12.5zM586 588h6.5v6.5h-6.5zM736 588h6.5v6.5h-6.5zM826 588h12.5v6.5h-12.5zM328 594h6.5v6.5h-6.5zM370 594h6.5v6.5h-6.5zM394 594h6.5v6.5h-6.5zM580 594h6.5v6.5h-6.5zM748 594h6.5v6.5h-6.5zM796 594h6.5v6.5h-6.5zM922 594h6.5v6.5h-6.5zM946 594h6.5v6.5h-6.5zM334 600h18.5v6.5h-18.5zM370 600h6.5v6.5h-6.5zM394 600h12.5v6.5h-12.5zM580 600h6.5v6.5h-6.5zM766 600h18.5v6.5h-18.5zM808 600h6.5v6.5h-6.5zM352 606h24.5v6.5h-24.5zM394 606h12.5v6.5h-12.5zM574 606h6.5v6.5h-6.5zM358 612h18.5v6.5h-18.5zM394 612h12.5v6.5h-12.5zM574 612h6.5v6.5h-6.5zM868 612h6.5v6.5h-6.5zM358 618h18.5v6.5h-18.5zM574 618h6.5v6.5h-6.5zM850 618h6.5v6.5h-6.5zM874 618h6.5v6.5h-6.5zM574 624h6.5v6.5h-6.5zM880 624h6.5v6.5h-6.5zM574 630h12.5v6.5h-12.5zM574 636h18.5v6.5h-18.5zM580 642h18.5v6.5h-18.5zM580 648h24.5v6.5h-24.5zM580 654h30.5v6.5h-30.5zM586 660h36.5v6.5h-36.5zM586 666h36.5v6.5h-36.5zM586 672h36.5v6.5h-36.5zM586 678h30.5v6.5h-30.5zM592 684h24.5v6.5h-24.5zM592 690h24.5v6.5h-24.5zM598 696h18.5v6.5h-18.5z"/><path fill="#00cfff" d="M700 360h6.5v6.5h-6.5zM820 360h24.5v6.5h-24.5zM694 366h6.5v6.5h-6.5zM706 366h6.5v6.5h-6.5zM814 366h6.5v6.5h-6.5zM844 366h6.5v6.5h-6.5zM694 372h6.5v6.5h-6.5zM712 372h12.5v6.5h-12.5zM736 372h18.5v6.5h-18.5zM694 378h6.5v6.5h-6.5zM724 378h12.5v6.5h-12.5zM754 378h12.5v6.5h-12.5zM688 390h6.5v6.5h-6.5zM688 396h6.5v6.5h-6.5zM712 396h12.5v6.5h-12.5zM850 396h12.5v6.5h-12.5zM682 402h6.5v6.5h-6.5zM706 402h6.5v6.5h-6.5zM730 402h36.5v6.5h-36.5zM826 402h12.5v6.5h-12.5zM682 408h6.5v6.5h-6.5zM706 408h6.5v6.5h-6.5zM778 408h6.5v6.5h-6.5zM820 408h6.5v6.5h-6.5zM676 414h6.5v6.5h-6.5zM700 414h6.5v6.5h-6.5zM802 414h24.5v6.5h-24.5zM676 420h24.5v6.5h-24.5zM832 420h18.5v6.5h-18.5zM832 426h12.5v6.5h-12.5zM886 432h6.5v6.5h-6.5zM838 438h6.5v6.5h-6.5zM910 438h6.5v6.5h-6.5zM916 444h6.5v6.5h-6.5zM508 450h18.5v6.5h-18.5zM922 450h6.5v6.5h-6.5zM484 456h42.5v6.5h-42.5zM592 456h6.5v6.5h-6.5zM604 456h6.5v6.5h-6.5zM862 456h6.5v6.5h-6.5zM922 456h6.5v6.5h-6.5zM454 462h12.5v6.5h-12.5zM496 462h12.5v6.5h-12.5zM586 462h6.5v6.5h-6.5zM610 462h6.5v6.5h-6.5zM874 462h6.5v6.5h-6.5zM442 468h6.5v6.5h-6.5zM496 468h6.5v6.5h-6.5zM586 468h6.5v6.5h-6.5zM616 468h12.5v6.5h-12.5zM886 468h12.5v6.5h-12.5zM928 468h6.5v6.5h-6.5zM430 474h6.5v6.5h-6.5zM496 474h6.5v6.5h-6.5zM586 474h6.5v6.5h-6.5zM928 474h6.5v6.5h-6.5zM418 480h6.5v6.5h-6.5zM484 480h6.5v6.5h-6.5zM646 480h6.5v6.5h-6.5zM910 480h6.5v6.5h-6.5zM928 480h6.5v6.5h-6.5zM478 486h6.5v6.5h-6.5zM586 486h6.5v6.5h-6.5zM652 486h6.5v6.5h-6.5zM802 486h6.5v6.5h-6.5zM592 492h6.5v6.5h-6.5zM658 492h6.5v6.5h-6.5zM784 492h6.5v6.5h-6.5zM262 498h6.5v6.5h-6.5zM592 498h12.5v6.5h-12.5zM796 498h12.5v6.5h-12.5zM814 498h6.5v6.5h-6.5zM256 504h6.5v6.5h-6.5zM280 504h12.5v6.5h-12.5zM412 504h6.5v6.5h-6.5zM466 504h6.5v6.5h-6.5zM592 504h6.5v6.5h-6.5zM298 510h18.5v6.5h-18.5zM466 510h6.5v6.5h-6.5zM586 510h6.5v6.5h-6.5zM706 510h6.5v6.5h-6.5zM322 516h48.5v6.5h-48.5zM466 516h6.5v6.5h-6.5zM574 516h12.5v6.5h-12.5zM706 516h6.5v6.5h-6.5zM268 522h6.5v6.5h-6.5zM364 522h12.5v6.5h-12.5zM472 522h6.5v6.5h-6.5zM706 522h6.5v6.5h-6.5zM274 528h6.5v6.5h-6.5zM370 528h24.5v6.5h-24.5zM706 528h6.5v6.5h-6.5zM280 534h6.5v6.5h-6.5zM706 534h6.5v6.5h-6.5zM286 540h6.5v6.5h-6.5zM556 540h12.5v6.5h-12.5zM706 540h6.5v6.5h-6.5zM556 546h12.5v6.5h-12.5zM706 546h6.5v6.5h-6.5zM292 552h6.5v6.5h-6.5zM544 552h24.5v6.5h-24.5zM706 552h6.5v6.5h-6.5zM862 552h12.5v6.5h-12.5zM298 558h6.5v6.5h-6.5zM544 558h24.5v6.5h-24.5zM850 558h6.5v6.5h-6.5zM886 558h6.5v6.5h-6.5zM304 564h6.5v6.5h-6.5zM544 564h24.5v6.5h-24.5zM712 564h6.5v6.5h-6.5zM844 564h6.5v6.5h-6.5zM898 564h6.5v6.5h-6.5zM556 570h12.5v6.5h-12.5zM718 570h6.5v6.5h-6.5zM568 576h6.5v6.5h-6.5zM724 576h6.5v6.5h-6.5zM904 576h6.5v6.5h-6.5zM316 582h6.5v6.5h-6.5zM568 582h18.5v6.5h-18.5zM832 582h6.5v6.5h-6.5zM904 582h6.5v6.5h-6.5zM952 582h6.5v6.5h-6.5zM382 588h6.5v6.5h-6.5zM574 588h12.5v6.5h-12.5zM742 588h6.5v6.5h-6.5zM820 588h6.5v6.5h-6.5zM910 588h6.5v6.5h-6.5zM322 594h6.5v6.5h-6.5zM376 594h18.5v6.5h-18.5zM574 594h6.5v6.5h-6.5zM754 594h12.5v6.5h-12.5zM784 594h12.5v6.5h-12.5zM802 594h18.5v6.5h-18.5zM928 594h6.5v6.5h-6.5zM940 594h6.5v6.5h-6.5zM328 600h6.5v6.5h-6.5zM376 600h18.5v6.5h-18.5zM574 600h6.5v6.5h-6.5zM346 606h6.5v6.5h-6.5zM376 606h18.5v6.5h-18.5zM352 612h6.5v6.5h-6.5zM376 612h18.5v6.5h-18.5zM856 612h12.5v6.5h-12.5zM376 618h6.5v6.5h-6.5zM568 618h6.5v6.5h-6.5zM358 624h6.5v6.5h-6.5zM568 624h6.5v6.5h-6.5zM856 624h6.5v6.5h-6.5zM874 624h6.5v6.5h-6.5zM568 630h6.5v6.5h-6.5zM862 630h6.5v6.5h-6.5zM874 630h6.5v6.5h-6.5zM568 636h6.5v6.5h-6.5zM568 642h12.5v6.5h-12.5zM568 648h12.5v6.5h-12.5zM568 654h12.5v6.5h-12.5zM568 660h18.5v6.5h-18.5zM568 666h18.5v6.5h-18.5zM574 672h12.5v6.5h-12.5zM574 678h12.5v6.5h-12.5zM574 684h18.5v6.5h-18.5zM574 690h18.5v6.5h-18.5zM574 696h24.5v6.5h-24.5z"/><path fill="#00d7ff" d="M694 360h6.5v6.5h-6.5zM844 360h6.5v6.5h-6.5zM712 366h6.5v6.5h-6.5zM730 366h24.5v6.5h-24.5zM724 372h12.5v6.5h-12.5zM754 372h6.5v6.5h-6.5zM772 372h12.5v6.5h-12.5zM808 372h6.5v6.5h-6.5zM850 372h6.5v6.5h-6.5zM856 378h6.5v6.5h-6.5zM862 384h6.5v6.5h-6.5zM862 390h6.5v6.5h-6.5zM682 396h6.5v6.5h-6.5zM862 396h6.5v6.5h-6.5zM712 402h18.5v6.5h-18.5zM838 402h18.5v6.5h-18.5zM676 408h6.5v6.5h-6.5zM826 408h12.5v6.5h-12.5zM670 414h6.5v6.5h-6.5zM706 414h6.5v6.5h-6.5zM796 414h6.5v6.5h-6.5zM826 414h48.5v6.5h-48.5zM670 420h6.5v6.5h-6.5zM700 420h6.5v6.5h-6.5zM814 420h18.5v6.5h-18.5zM874 420h6.5v6.5h-6.5zM820 426h12.5v6.5h-12.5zM880 426h6.5v6.5h-6.5zM832 432h6.5v6.5h-6.5zM892 432h12.5v6.5h-12.5zM832 438h6.5v6.5h-6.5zM916 438h6.5v6.5h-6.5zM508 444h18.5v6.5h-18.5zM838 444h6.5v6.5h-6.5zM922 444h6.5v6.5h-6.5zM502 450h6.5v6.5h-6.5zM526 450h6.5v6.5h-6.5zM592 450h12.5v6.5h-12.5zM844 450h6.5v6.5h-6.5zM466 456h18.5v6.5h-18.5zM526 456h6.5v6.5h-6.5zM586 456h6.5v6.5h-6.5zM856 456h6.5v6.5h-6.5zM448 462h6.5v6.5h-6.5zM508 462h24.5v6.5h-24.5zM616 462h6.5v6.5h-6.5zM868 462h6.5v6.5h-6.5zM928 462h6.5v6.5h-6.5zM436 468h6.5v6.5h-6.5zM502 468h6.5v6.5h-6.5zM580 468h6.5v6.5h-6.5zM628 468h12.5v6.5h-12.5zM880 468h6.5v6.5h-6.5zM424 474h6.5v6.5h-6.5zM580 474h6.5v6.5h-6.5zM640 474h6.5v6.5h-6.5zM898 474h6.5v6.5h-6.5zM490 480h6.5v6.5h-6.5zM580 480h6.5v6.5h-6.5zM904 480h6.5v6.5h-6.5zM412 486h6.5v6.5h-6.5zM484 486h6.5v6.5h-6.5zM658 486h6.5v6.5h-6.5zM796 486h6.5v6.5h-6.5zM922 486h6.5v6.5h-6.5zM412 492h6.5v6.5h-6.5zM478 492h6.5v6.5h-6.5zM586 492h6.5v6.5h-6.5zM664 492h30.5v6.5h-30.5zM814 492h6.5v6.5h-6.5zM256 498h6.5v6.5h-6.5zM268 498h12.5v6.5h-12.5zM412 498h6.5v6.5h-6.5zM472 498h6.5v6.5h-6.5zM586 498h6.5v6.5h-6.5zM700 498h6.5v6.5h-6.5zM778 498h18.5v6.5h-18.5zM292 504h12.5v6.5h-12.5zM472 504h6.5v6.5h-6.5zM586 504h6.5v6.5h-6.5zM706 504h6.5v6.5h-6.5zM256 510h6.5v6.5h-6.5zM316 510h54.5v6.5h-54.5zM406 510h6.5v6.5h-6.5zM472 510h6.5v6.5h-6.5zM580 510h6.5v6.5h-6.5zM262 516h6.5v6.5h-6.5zM370 516h6.5v6.5h-6.5zM400 516h6.5v6.5h-6.5zM472 516h6.5v6.5h-6.5zM568 516h6.5v6.5h-6.5zM376 522h24.5v6.5h-24.5zM562 522h6.5v6.5h-6.5zM286 546h6.5v6.5h-6.5zM550 546h6.5v6.5h-6.5zM712 546h6.5v6.5h-6.5zM712 552h6.5v6.5h-6.5zM856 552h6.5v6.5h-6.5zM874 552h6.5v6.5h-6.5zM712 558h6.5v6.5h-6.5zM892 558h6.5v6.5h-6.5zM718 564h6.5v6.5h-6.5zM304 570h6.5v6.5h-6.5zM544 570h12.5v6.5h-12.5zM724 570h6.5v6.5h-6.5zM904 570h6.5v6.5h-6.5zM310 576h6.5v6.5h-6.5zM556 576h12.5v6.5h-12.5zM730 576h6.5v6.5h-6.5zM838 576h6.5v6.5h-6.5zM964 576h12.5v6.5h-12.5zM736 582h6.5v6.5h-6.5zM826 582h6.5v6.5h-6.5zM316 588h6.5v6.5h-6.5zM568 588h6.5v6.5h-6.5zM748 588h12.5v6.5h-12.5zM796 588h12.5v6.5h-12.5zM814 588h6.5v6.5h-6.5zM916 588h6.5v6.5h-6.5zM946 588h6.5v6.5h-6.5zM568 594h6.5v6.5h-6.5zM766 594h18.5v6.5h-18.5zM934 594h6.5v6.5h-6.5zM568 600h6.5v6.5h-6.5zM334 606h12.5v6.5h-12.5zM568 606h6.5v6.5h-6.5zM568 612h6.5v6.5h-6.5zM352 618h6.5v6.5h-6.5zM856 618h6.5v6.5h-6.5zM868 618h6.5v6.5h-6.5zM868 630h6.5v6.5h-6.5zM562 636h6.5v6.5h-6.5zM562 642h6.5v6.5h-6.5zM562 648h6.5v6.5h-6.5zM562 654h6.5v6.5h-6.5zM556 660h12.5v6.5h-12.5zM556 666h12.5v6.5h-12.5zM556 672h18.5v6.5h-18.5zM556 678h18.5v6.5h-18.5zM562 684h12.5v6.5h-12.5zM562 690h12.5v6.5h-12.5zM568 696h6.5v6.5h-6.5z"/><path fill="#00dfff" d="M850 348h24.5v6.5h-24.5zM832 354h42.5v6.5h-42.5zM706 360h6.5v6.5h-6.5zM730 360h18.5v6.5h-18.5zM814 360h6.5v6.5h-6.5zM850 360h6.5v6.5h-6.5zM718 366h12.5v6.5h-12.5zM850 366h6.5v6.5h-6.5zM760 372h12.5v6.5h-12.5zM784 372h24.5v6.5h-24.5zM688 384h6.5v6.5h-6.5zM868 390h6.5v6.5h-6.5zM868 396h6.5v6.5h-6.5zM676 402h6.5v6.5h-6.5zM856 402h12.5v6.5h-12.5zM670 408h6.5v6.5h-6.5zM712 408h30.5v6.5h-30.5zM772 408h6.5v6.5h-6.5zM838 408h36.5v6.5h-36.5zM664 414h6.5v6.5h-6.5zM712 414h6.5v6.5h-6.5zM790 414h6.5v6.5h-6.5zM874 414h6.5v6.5h-6.5zM664 420h6.5v6.5h-6.5zM706 420h6.5v6.5h-6.5zM808 420h6.5v6.5h-6.5zM880 420h6.5v6.5h-6.5zM670 426h12.5v6.5h-12.5zM814 426h6.5v6.5h-6.5zM886 426h6.5v6.5h-6.5zM820 432h12.5v6.5h-12.5zM904 432h12.5v6.5h-12.5zM508 438h18.5v6.5h-18.5zM502 444h6.5v6.5h-6.5zM526 444h6.5v6.5h-6.5zM832 444h6.5v6.5h-6.5zM478 450h24.5v6.5h-24.5zM586 450h6.5v6.5h-6.5zM604 450h6.5v6.5h-6.5zM838 450h6.5v6.5h-6.5zM928 450h6.5v6.5h-6.5zM460 456h6.5v6.5h-6.5zM532 456h6.5v6.5h-6.5zM580 456h6.5v6.5h-6.5zM610 456h12.5v6.5h-12.5zM850 456h6.5v6.5h-6.5zM928 456h6.5v6.5h-6.5zM442 462h6.5v6.5h-6.5zM532 462h6.5v6.5h-6.5zM580 462h6.5v6.5h-6.5zM622 462h12.5v6.5h-12.5zM862 462h6.5v6.5h-6.5zM430 468h6.5v6.5h-6.5zM508 468h18.5v6.5h-18.5zM574 468h6.5v6.5h-6.5zM868 468h12.5v6.5h-12.5zM418 474h6.5v6.5h-6.5zM502 474h6.5v6.5h-6.5zM574 474h6.5v6.5h-6.5zM646 474h6.5v6.5h-6.5zM892 474h6.5v6.5h-6.5zM934 474h6.5v6.5h-6.5zM412 480h6.5v6.5h-6.5zM496 480h6.5v6.5h-6.5zM652 480h6.5v6.5h-6.5zM580 486h6.5v6.5h-6.5zM790 486h6.5v6.5h-6.5zM808 486h6.5v6.5h-6.5zM916 486h6.5v6.5h-6.5zM928 486h6.5v6.5h-6.5zM694 492h6.5v6.5h-6.5zM778 492h6.5v6.5h-6.5zM280 498h12.5v6.5h-12.5zM478 498h6.5v6.5h-6.5zM820 498h6.5v6.5h-6.5zM250 504h6.5v6.5h-6.5zM304 504h24.5v6.5h-24.5zM334 504h36.5v6.5h-36.5zM406 504h6.5v6.5h-6.5zM808 504h18.5v6.5h-18.5zM370 510h6.5v6.5h-6.5zM574 510h6.5v6.5h-6.5zM376 516h6.5v6.5h-6.5zM394 516h6.5v6.5h-6.5zM478 516h6.5v6.5h-6.5zM712 516h6.5v6.5h-6.5zM712 522h6.5v6.5h-6.5zM712 528h6.5v6.5h-6.5zM712 534h6.5v6.5h-6.5zM280 540h6.5v6.5h-6.5zM712 540h6.5v6.5h-6.5zM286 552h6.5v6.5h-6.5zM718 552h6.5v6.5h-6.5zM850 552h6.5v6.5h-6.5zM880 552h6.5v6.5h-6.5zM292 558h6.5v6.5h-6.5zM718 558h6.5v6.5h-6.5zM844 558h6.5v6.5h-6.5zM298 564h6.5v6.5h-6.5zM724 564h6.5v6.5h-6.5zM904 564h6.5v6.5h-6.5zM730 570h6.5v6.5h-6.5zM838 570h6.5v6.5h-6.5zM550 576h6.5v6.5h-6.5zM736 576h6.5v6.5h-6.5zM832 576h6.5v6.5h-6.5zM958 576h6.5v6.5h-6.5zM310 582h6.5v6.5h-6.5zM562 582h6.5v6.5h-6.5zM742 582h12.5v6.5h-12.5zM820 582h6.5v6.5h-6.5zM910 582h6.5v6.5h-6.5zM946 582h6.5v6.5h-6.5zM562 588h6.5v6.5h-6.5zM760 588h12.5v6.5h-12.5zM784 588h12.5v6.5h-12.5zM808 588h6.5v6.5h-6.5zM922 588h6.5v6.5h-6.5zM940 588h6.5v6.5h-6.5zM322 600h6.5v6.5h-6.5zM346 612h6.5v6.5h-6.5zM346 618h6.5v6.5h-6.5zM562 618h6.5v6.5h-6.5zM862 618h6.5v6.5h-6.5zM352 624h6.5v6.5h-6.5zM562 624h6.5v6.5h-6.5zM862 624h12.5v6.5h-12.5zM562 630h6.5v6.5h-6.5zM556 642h6.5v6.5h-6.5zM556 648h6.5v6.5h-6.5zM556 654h6.5v6.5h-6.5zM550 660h6.5v6.5h-6.5zM538 666h18.5v6.5h-18.5zM532 672h24.5v6.5h-24.5zM532 678h24.5v6.5h-24.5zM532 684h30.5v6.5h-30.5zM532 690h30.5v6.5h-30.5zM532 696h36.5v6.5h-36.5z"/><path fill="#00e7ff" d="M682 180h6.5v6.5h-6.5zM682 186h12.5v6.5h-12.5zM682 192h6.5v6.5h-6.5zM694 294h6.5v6.5h-6.5zM688 300h12.5v6.5h-12.5zM856 342h12.5v6.5h-12.5zM844 348h6.5v6.5h-6.5zM874 348h6.5v6.5h-6.5zM694 354h12.5v6.5h-12.5zM736 354h6.5v6.5h-6.5zM820 354h12.5v6.5h-12.5zM874 354h6.5v6.5h-6.5zM688 360h6.5v6.5h-6.5zM712 360h6.5v6.5h-6.5zM724 360h6.5v6.5h-6.5zM748 360h6.5v6.5h-6.5zM856 360h6.5v6.5h-6.5zM688 366h6.5v6.5h-6.5zM754 366h6.5v6.5h-6.5zM778 366h6.5v6.5h-6.5zM808 366h6.5v6.5h-6.5zM856 372h6.5v6.5h-6.5zM688 378h6.5v6.5h-6.5zM862 378h6.5v6.5h-6.5zM868 384h6.5v6.5h-6.5zM682 390h6.5v6.5h-6.5zM676 396h6.5v6.5h-6.5zM874 396h6.5v6.5h-6.5zM670 402h6.5v6.5h-6.5zM868 402h12.5v6.5h-12.5zM664 408h6.5v6.5h-6.5zM742 408h12.5v6.5h-12.5zM766 408h6.5v6.5h-6.5zM874 408h6.5v6.5h-6.5zM718 414h6.5v6.5h-6.5zM658 420h6.5v6.5h-6.5zM712 420h6.5v6.5h-6.5zM802 420h6.5v6.5h-6.5zM664 426h6.5v6.5h-6.5zM682 426h24.5v6.5h-24.5zM892 426h12.5v6.5h-12.5zM514 432h12.5v6.5h-12.5zM502 438h6.5v6.5h-6.5zM826 438h6.5v6.5h-6.5zM922 438h6.5v6.5h-6.5zM490 444h12.5v6.5h-12.5zM928 444h6.5v6.5h-6.5zM466 450h12.5v6.5h-12.5zM532 450h6.5v6.5h-6.5zM610 450h6.5v6.5h-6.5zM448 456h12.5v6.5h-12.5zM574 456h6.5v6.5h-6.5zM622 456h6.5v6.5h-6.5zM844 456h6.5v6.5h-6.5zM436 462h6.5v6.5h-6.5zM574 462h6.5v6.5h-6.5zM634 462h6.5v6.5h-6.5zM856 462h6.5v6.5h-6.5zM934 462h6.5v6.5h-6.5zM424 468h6.5v6.5h-6.5zM526 468h6.5v6.5h-6.5zM640 468h6.5v6.5h-6.5zM862 468h6.5v6.5h-6.5zM934 468h6.5v6.5h-6.5zM508 474h6.5v6.5h-6.5zM874 474h18.5v6.5h-18.5zM502 480h6.5v6.5h-6.5zM574 480h6.5v6.5h-6.5zM658 480h6.5v6.5h-6.5zM898 480h6.5v6.5h-6.5zM934 480h6.5v6.5h-6.5zM406 486h6.5v6.5h-6.5zM490 486h6.5v6.5h-6.5zM664 486h30.5v6.5h-30.5zM910 486h6.5v6.5h-6.5zM262 492h18.5v6.5h-18.5zM406 492h6.5v6.5h-6.5zM484 492h6.5v6.5h-6.5zM580 492h6.5v6.5h-6.5zM700 492h6.5v6.5h-6.5zM292 498h24.5v6.5h-24.5zM340 498h36.5v6.5h-36.5zM406 498h6.5v6.5h-6.5zM580 498h6.5v6.5h-6.5zM706 498h6.5v6.5h-6.5zM772 498h6.5v6.5h-6.5zM328 504h6.5v6.5h-6.5zM370 504h6.5v6.5h-6.5zM478 504h6.5v6.5h-6.5zM580 504h6.5v6.5h-6.5zM712 504h6.5v6.5h-6.5zM250 510h6.5v6.5h-6.5zM376 510h6.5v6.5h-6.5zM400 510h6.5v6.5h-6.5zM478 510h6.5v6.5h-6.5zM712 510h6.5v6.5h-6.5zM820 510h6.5v6.5h-6.5zM382 516h12.5v6.5h-12.5zM826 522h12.5v6.5h-12.5zM268 528h6.5v6.5h-6.5zM832 528h6.5v6.5h-6.5zM274 534h6.5v6.5h-6.5zM718 540h6.5v6.5h-6.5zM718 546h6.5v6.5h-6.5zM850 546h24.5v6.5h-24.5zM844 552h6.5v6.5h-6.5zM886 552h6.5v6.5h-6.5zM724 558h6.5v6.5h-6.5zM898 558h6.5v6.5h-6.5zM838 564h6.5v6.5h-6.5zM910 564h6.5v6.5h-6.5zM910 570h6.5v6.5h-6.5zM304 576h6.5v6.5h-6.5zM544 576h6.5v6.5h-6.5zM742 576h6.5v6.5h-6.5zM910 576h6.5v6.5h-6.5zM952 576h6.5v6.5h-6.5zM556 582h6.5v6.5h-6.5zM754 582h6.5v6.5h-6.5zM814 582h6.5v6.5h-6.5zM772 588h12.5v6.5h-12.5zM928 588h12.5v6.5h-12.5zM316 594h6.5v6.5h-6.5zM562 594h6.5v6.5h-6.5zM562 600h6.5v6.5h-6.5zM328 606h6.5v6.5h-6.5zM562 606h6.5v6.5h-6.5zM334 612h12.5v6.5h-12.5zM562 612h6.5v6.5h-6.5zM340 618h6.5v6.5h-6.5zM340 624h12.5v6.5h-12.5zM340 630h6.5v6.5h-6.5zM556 636h6.5v6.5h-6.5zM550 648h6.5v6.5h-6.5zM550 654h6.5v6.5h-6.5zM544 660h6.5v6.5h-6.5zM532 666h6.5v6.5h-6.5z"/><path fill="#00efff" d="M676 174h6.5v6.5h-6.5zM676 180h6.5v6.5h-6.5zM676 186h6.5v6.5h-6.5zM676 192h6.5v6.5h-6.5zM688 192h12.5v6.5h-12.5zM682 198h6.5v6.5h-6.5zM688 294h6.5v6.5h-6.5zM700 294h6.5v6.5h-6.5zM682 300h6.5v6.5h-6.5zM700 300h6.5v6.5h-6.5zM688 306h18.5v6.5h-18.5zM850 342h6.5v6.5h-6.5zM868 342h12.5v6.5h-12.5zM838 348h6.5v6.5h-6.5zM880 348h12.5v6.5h-12.5zM706 354h6.5v6.5h-6.5zM724 354h12.5v6.5h-12.5zM742 354h6.5v6.5h-6.5zM814 354h6.5v6.5h-6.5zM880 354h24.5v6.5h-24.5zM718 360h6.5v6.5h-6.5zM754 360h6.5v6.5h-6.5zM808 360h6.5v6.5h-6.5zM862 360h12.5v6.5h-12.5zM760 366h18.5v6.5h-18.5zM784 366h6.5v6.5h-6.5zM802 366h6.5v6.5h-6.5zM856 366h6.5v6.5h-6.5zM688 372h6.5v6.5h-6.5zM874 390h12.5v6.5h-12.5zM670 396h6.5v6.5h-6.5zM880 396h6.5v6.5h-6.5zM664 402h6.5v6.5h-6.5zM880 402h6.5v6.5h-6.5zM754 408h12.5v6.5h-12.5zM880 408h6.5v6.5h-6.5zM658 414h6.5v6.5h-6.5zM724 414h12.5v6.5h-12.5zM784 414h6.5v6.5h-6.5zM880 414h6.5v6.5h-6.5zM796 420h6.5v6.5h-6.5zM886 420h6.5v6.5h-6.5zM658 426h6.5v6.5h-6.5zM706 426h6.5v6.5h-6.5zM808 426h6.5v6.5h-6.5zM904 426h6.5v6.5h-6.5zM508 432h6.5v6.5h-6.5zM814 432h6.5v6.5h-6.5zM916 432h6.5v6.5h-6.5zM496 438h6.5v6.5h-6.5zM526 438h6.5v6.5h-6.5zM820 438h6.5v6.5h-6.5zM472 444h18.5v6.5h-18.5zM826 444h6.5v6.5h-6.5zM460 450h6.5v6.5h-6.5zM580 450h6.5v6.5h-6.5zM616 450h12.5v6.5h-12.5zM832 450h6.5v6.5h-6.5zM934 450h6.5v6.5h-6.5zM442 456h6.5v6.5h-6.5zM538 456h6.5v6.5h-6.5zM628 456h6.5v6.5h-6.5zM838 456h6.5v6.5h-6.5zM934 456h6.5v6.5h-6.5zM430 462h6.5v6.5h-6.5zM538 462h6.5v6.5h-6.5zM568 462h6.5v6.5h-6.5zM640 462h6.5v6.5h-6.5zM850 462h6.5v6.5h-6.5zM418 468h6.5v6.5h-6.5zM532 468h6.5v6.5h-6.5zM568 468h6.5v6.5h-6.5zM646 468h6.5v6.5h-6.5zM412 474h6.5v6.5h-6.5zM514 474h18.5v6.5h-18.5zM568 474h6.5v6.5h-6.5zM652 474h6.5v6.5h-6.5zM862 474h12.5v6.5h-12.5zM406 480h6.5v6.5h-6.5zM508 480h6.5v6.5h-6.5zM664 480h6.5v6.5h-6.5zM802 480h6.5v6.5h-6.5zM892 480h6.5v6.5h-6.5zM496 486h6.5v6.5h-6.5zM574 486h6.5v6.5h-6.5zM694 486h6.5v6.5h-6.5zM784 486h6.5v6.5h-6.5zM814 486h6.5v6.5h-6.5zM844 486h6.5v6.5h-6.5zM904 486h6.5v6.5h-6.5zM934 486h6.5v6.5h-6.5zM256 492h6.5v6.5h-6.5zM280 492h12.5v6.5h-12.5zM346 492h30.5v6.5h-30.5zM706 492h6.5v6.5h-6.5zM730 492h12.5v6.5h-12.5zM772 492h6.5v6.5h-6.5zM820 492h6.5v6.5h-6.5zM838 492h12.5v6.5h-12.5zM250 498h6.5v6.5h-6.5zM316 498h24.5v6.5h-24.5zM376 498h6.5v6.5h-6.5zM484 498h6.5v6.5h-6.5zM712 498h6.5v6.5h-6.5zM730 498h12.5v6.5h-12.5zM826 498h24.5v6.5h-24.5zM376 504h6.5v6.5h-6.5zM400 504h6.5v6.5h-6.5zM484 504h6.5v6.5h-6.5zM574 504h6.5v6.5h-6.5zM718 504h6.5v6.5h-6.5zM778 504h6.5v6.5h-6.5zM802 504h6.5v6.5h-6.5zM826 504h12.5v6.5h-12.5zM382 510h18.5v6.5h-18.5zM484 510h6.5v6.5h-6.5zM568 510h6.5v6.5h-6.5zM718 510h6.5v6.5h-6.5zM814 510h6.5v6.5h-6.5zM826 510h6.5v6.5h-6.5zM256 516h6.5v6.5h-6.5zM484 516h6.5v6.5h-6.5zM718 516h6.5v6.5h-6.5zM820 516h18.5v6.5h-18.5zM718 522h6.5v6.5h-6.5zM838 522h6.5v6.5h-6.5zM718 528h6.5v6.5h-6.5zM826 528h6.5v6.5h-6.5zM838 528h6.5v6.5h-6.5zM718 534h6.5v6.5h-6.5zM832 534h12.5v6.5h-12.5zM838 540h12.5v6.5h-12.5zM280 546h6.5v6.5h-6.5zM838 546h12.5v6.5h-12.5zM874 546h6.5v6.5h-6.5zM724 552h6.5v6.5h-6.5zM838 552h6.5v6.5h-6.5zM892 552h6.5v6.5h-6.5zM838 558h6.5v6.5h-6.5zM904 558h6.5v6.5h-6.5zM730 564h6.5v6.5h-6.5zM298 570h6.5v6.5h-6.5zM736 570h6.5v6.5h-6.5zM916 570h6.5v6.5h-6.5zM748 576h6.5v6.5h-6.5zM826 576h6.5v6.5h-6.5zM916 576h6.5v6.5h-6.5zM940 576h12.5v6.5h-12.5zM544 582h12.5v6.5h-12.5zM760 582h12.5v6.5h-12.5zM790 582h24.5v6.5h-24.5zM916 582h6.5v6.5h-6.5zM934 582h12.5v6.5h-12.5zM550 588h12.5v6.5h-12.5zM556 594h6.5v6.5h-6.5zM334 618h6.5v6.5h-6.5zM334 624h6.5v6.5h-6.5zM334 630h6.5v6.5h-6.5zM556 630h6.5v6.5h-6.5zM550 642h6.5v6.5h-6.5zM544 654h6.5v6.5h-6.5zM538 660h6.5v6.5h-6.5z"/><path fill="#00f7ff" d="M688 198h6.5v6.5h-6.5zM712 240h18.5v6.5h-18.5zM712 246h18.5v6.5h-18.5zM712 252h18.5v6.5h-18.5zM718 258h6.5v6.5h-6.5zM694 288h12.5v6.5h-12.5zM706 294h6.5v6.5h-6.5zM706 300h6.5v6.5h-6.5zM682 306h6.5v6.5h-6.5zM706 306h6.5v6.5h-6.5zM724 336h6.5v6.5h-6.5zM850 336h18.5v6.5h-18.5zM724 342h12.5v6.5h-12.5zM844 342h6.5v6.5h-6.5zM880 342h6.5v6.5h-6.5zM724 348h24.5v6.5h-24.5zM832 348h6.5v6.5h-6.5zM892 348h12.5v6.5h-12.5zM688 354h6.5v6.5h-6.5zM712 354h12.5v6.5h-12.5zM748 354h6.5v6.5h-6.5zM778 360h12.5v6.5h-12.5zM874 360h6.5v6.5h-6.5zM790 366h12.5v6.5h-12.5zM862 366h6.5v6.5h-6.5zM862 372h6.5v6.5h-6.5zM868 378h6.5v6.5h-6.5zM682 384h6.5v6.5h-6.5zM874 384h12.5v6.5h-12.5zM676 390h6.5v6.5h-6.5zM886 390h6.5v6.5h-6.5zM664 396h6.5v6.5h-6.5zM886 396h6.5v6.5h-6.5zM658 408h6.5v6.5h-6.5zM886 408h6.5v6.5h-6.5zM736 414h6.5v6.5h-6.5zM886 414h6.5v6.5h-6.5zM718 420h6.5v6.5h-6.5zM892 420h12.5v6.5h-12.5zM514 426h12.5v6.5h-12.5zM652 426h6.5v6.5h-6.5zM712 426h6.5v6.5h-6.5zM910 426h6.5v6.5h-6.5zM502 432h6.5v6.5h-6.5zM526 432h6.5v6.5h-6.5zM652 432h24.5v6.5h-24.5zM922 432h6.5v6.5h-6.5zM478 438h18.5v6.5h-18.5zM814 438h6.5v6.5h-6.5zM928 438h6.5v6.5h-6.5zM466 444h6.5v6.5h-6.5zM532 444h6.5v6.5h-6.5zM592 444h30.5v6.5h-30.5zM820 444h6.5v6.5h-6.5zM934 444h6.5v6.5h-6.5zM454 450h6.5v6.5h-6.5zM574 450h6.5v6.5h-6.5zM628 450h6.5v6.5h-6.5zM826 450h6.5v6.5h-6.5zM436 456h6.5v6.5h-6.5zM562 456h12.5v6.5h-12.5zM634 456h12.5v6.5h-12.5zM832 456h6.5v6.5h-6.5zM424 462h6.5v6.5h-6.5zM562 462h6.5v6.5h-6.5zM646 462h6.5v6.5h-6.5zM940 462h6.5v6.5h-6.5zM856 468h6.5v6.5h-6.5zM940 468h6.5v6.5h-6.5zM658 474h6.5v6.5h-6.5zM856 474h6.5v6.5h-6.5zM940 474h6.5v6.5h-6.5zM514 480h12.5v6.5h-12.5zM568 480h6.5v6.5h-6.5zM670 480h6.5v6.5h-6.5zM730 480h6.5v6.5h-6.5zM796 480h6.5v6.5h-6.5zM808 480h6.5v6.5h-6.5zM850 480h42.5v6.5h-42.5zM352 486h24.5v6.5h-24.5zM400 486h6.5v6.5h-6.5zM502 486h12.5v6.5h-12.5zM700 486h6.5v6.5h-6.5zM718 486h24.5v6.5h-24.5zM838 486h6.5v6.5h-6.5zM850 486h6.5v6.5h-6.5zM898 486h6.5v6.5h-6.5zM292 492h54.5v6.5h-54.5zM376 492h6.5v6.5h-6.5zM400 492h6.5v6.5h-6.5zM490 492h6.5v6.5h-6.5zM574 492h6.5v6.5h-6.5zM712 492h18.5v6.5h-18.5zM742 492h6.5v6.5h-6.5zM826 492h12.5v6.5h-12.5zM850 492h6.5v6.5h-6.5zM922 492h6.5v6.5h-6.5zM382 498h6.5v6.5h-6.5zM400 498h6.5v6.5h-6.5zM574 498h6.5v6.5h-6.5zM718 498h12.5v6.5h-12.5zM742 498h6.5v6.5h-6.5zM850 498h6.5v6.5h-6.5zM382 504h18.5v6.5h-18.5zM724 504h18.5v6.5h-18.5zM772 504h6.5v6.5h-6.5zM784 504h6.5v6.5h-6.5zM838 504h12.5v6.5h-12.5zM724 510h6.5v6.5h-6.5zM832 510h12.5v6.5h-12.5zM490 516h6.5v6.5h-6.5zM562 516h6.5v6.5h-6.5zM838 516h6.5v6.5h-6.5zM262 522h6.5v6.5h-6.5zM820 522h6.5v6.5h-6.5zM844 522h6.5v6.5h-6.5zM844 528h6.5v6.5h-6.5zM844 534h12.5v6.5h-12.5zM724 540h6.5v6.5h-6.5zM832 540h6.5v6.5h-6.5zM850 540h24.5v6.5h-24.5zM724 546h6.5v6.5h-6.5zM880 546h6.5v6.5h-6.5zM730 552h6.5v6.5h-6.5zM898 552h6.5v6.5h-6.5zM730 558h6.5v6.5h-6.5zM910 558h6.5v6.5h-6.5zM292 564h6.5v6.5h-6.5zM736 564h6.5v6.5h-6.5zM916 564h6.5v6.5h-6.5zM742 570h12.5v6.5h-12.5zM832 570h6.5v6.5h-6.5zM922 570h6.5v6.5h-6.5zM940 570h36.5v6.5h-36.5zM754 576h12.5v6.5h-12.5zM820 576h6.5v6.5h-6.5zM922 576h18.5v6.5h-18.5zM772 582h18.5v6.5h-18.5zM922 582h12.5v6.5h-12.5zM310 588h6.5v6.5h-6.5zM538 588h12.5v6.5h-12.5zM550 594h6.5v6.5h-6.5zM556 600h6.5v6.5h-6.5zM322 606h6.5v6.5h-6.5zM556 606h6.5v6.5h-6.5zM328 612h6.5v6.5h-6.5zM556 612h6.5v6.5h-6.5zM556 618h6.5v6.5h-6.5zM556 624h6.5v6.5h-6.5zM550 636h6.5v6.5h-6.5zM544 648h6.5v6.5h-6.5zM532 660h6.5v6.5h-6.5z"/><path fill="#00ffff" d="M676 198h6.5v6.5h-6.5zM694 198h6.5v6.5h-6.5zM682 204h12.5v6.5h-12.5zM712 234h18.5v6.5h-18.5zM706 240h6.5v6.5h-6.5zM706 246h6.5v6.5h-6.5zM706 252h6.5v6.5h-6.5zM712 258h6.5v6.5h-6.5zM718 264h6.5v6.5h-6.5zM688 288h6.5v6.5h-6.5zM706 288h18.5v6.5h-18.5zM682 294h6.5v6.5h-6.5zM712 294h6.5v6.5h-6.5zM712 300h6.5v6.5h-6.5zM712 306h12.5v6.5h-12.5zM694 312h24.5v6.5h-24.5zM724 324h6.5v6.5h-6.5zM724 330h12.5v6.5h-12.5zM718 336h6.5v6.5h-6.5zM730 336h12.5v6.5h-12.5zM844 336h6.5v6.5h-6.5zM868 336h12.5v6.5h-12.5zM718 342h6.5v6.5h-6.5zM736 342h30.5v6.5h-30.5zM838 342h6.5v6.5h-6.5zM886 342h6.5v6.5h-6.5zM694 348h6.5v6.5h-6.5zM718 348h6.5v6.5h-6.5zM748 348h12.5v6.5h-12.5zM826 348h6.5v6.5h-6.5zM904 348h6.5v6.5h-6.5zM754 354h6.5v6.5h-6.5zM784 354h6.5v6.5h-6.5zM808 354h6.5v6.5h-6.5zM682 360h6.5v6.5h-6.5zM760 360h18.5v6.5h-18.5zM790 360h6.5v6.5h-6.5zM802 360h6.5v6.5h-6.5zM880 360h24.5v6.5h-24.5zM682 366h6.5v6.5h-6.5zM868 366h6.5v6.5h-6.5zM868 372h6.5v6.5h-6.5zM682 378h6.5v6.5h-6.5zM874 378h6.5v6.5h-6.5zM676 384h6.5v6.5h-6.5zM886 384h6.5v6.5h-6.5zM664 390h12.5v6.5h-12.5zM658 396h6.5v6.5h-6.5zM658 402h6.5v6.5h-6.5zM886 402h6.5v6.5h-6.5zM742 414h6.5v6.5h-6.5zM778 414h6.5v6.5h-6.5zM892 414h6.5v6.5h-6.5zM652 420h6.5v6.5h-6.5zM724 420h6.5v6.5h-6.5zM904 420h6.5v6.5h-6.5zM508 426h6.5v6.5h-6.5zM526 426h6.5v6.5h-6.5zM802 426h6.5v6.5h-6.5zM916 426h6.5v6.5h-6.5zM496 432h6.5v6.5h-6.5zM646 432h6.5v6.5h-6.5zM676 432h6.5v6.5h-6.5zM694 432h18.5v6.5h-18.5zM808 432h6.5v6.5h-6.5zM472 438h6.5v6.5h-6.5zM646 438h12.5v6.5h-12.5zM934 438h6.5v6.5h-6.5zM460 444h6.5v6.5h-6.5zM586 444h6.5v6.5h-6.5zM622 444h24.5v6.5h-24.5zM940 444h6.5v6.5h-6.5zM448 450h6.5v6.5h-6.5zM538 450h6.5v6.5h-6.5zM634 450h12.5v6.5h-12.5zM820 450h6.5v6.5h-6.5zM940 450h6.5v6.5h-6.5zM544 456h6.5v6.5h-6.5zM556 456h6.5v6.5h-6.5zM646 456h6.5v6.5h-6.5zM826 456h6.5v6.5h-6.5zM940 456h6.5v6.5h-6.5zM544 462h6.5v6.5h-6.5zM556 462h6.5v6.5h-6.5zM844 462h6.5v6.5h-6.5zM412 468h6.5v6.5h-6.5zM562 468h6.5v6.5h-6.5zM652 468h6.5v6.5h-6.5zM850 468h6.5v6.5h-6.5zM406 474h6.5v6.5h-6.5zM532 474h6.5v6.5h-6.5zM664 474h6.5v6.5h-6.5zM850 474h6.5v6.5h-6.5zM352 480h30.5v6.5h-30.5zM400 480h6.5v6.5h-6.5zM526 480h6.5v6.5h-6.5zM676 480h24.5v6.5h-24.5zM718 480h12.5v6.5h-12.5zM736 480h6.5v6.5h-6.5zM814 480h6.5v6.5h-6.5zM844 480h6.5v6.5h-6.5zM940 480h6.5v6.5h-6.5zM268 486h18.5v6.5h-18.5zM310 486h42.5v6.5h-42.5zM376 486h12.5v6.5h-12.5zM394 486h6.5v6.5h-6.5zM514 486h6.5v6.5h-6.5zM706 486h12.5v6.5h-12.5zM742 486h6.5v6.5h-6.5zM778 486h6.5v6.5h-6.5zM856 486h42.5v6.5h-42.5zM382 492h18.5v6.5h-18.5zM496 492h18.5v6.5h-18.5zM748 492h6.5v6.5h-6.5zM856 492h6.5v6.5h-6.5zM916 492h6.5v6.5h-6.5zM928 492h6.5v6.5h-6.5zM388 498h12.5v6.5h-12.5zM490 498h6.5v6.5h-6.5zM748 498h6.5v6.5h-6.5zM766 498h6.5v6.5h-6.5zM490 504h6.5v6.5h-6.5zM742 504h6.5v6.5h-6.5zM850 504h12.5v6.5h-12.5zM490 510h6.5v6.5h-6.5zM730 510h12.5v6.5h-12.5zM844 510h18.5v6.5h-18.5zM724 516h6.5v6.5h-6.5zM844 516h18.5v6.5h-18.5zM724 522h6.5v6.5h-6.5zM850 522h6.5v6.5h-6.5zM724 528h6.5v6.5h-6.5zM850 528h6.5v6.5h-6.5zM724 534h6.5v6.5h-6.5zM826 534h6.5v6.5h-6.5zM856 534h12.5v6.5h-12.5zM274 540h6.5v6.5h-6.5zM874 540h6.5v6.5h-6.5zM730 546h6.5v6.5h-6.5zM832 546h6.5v6.5h-6.5zM886 546h6.5v6.5h-6.5zM286 558h6.5v6.5h-6.5zM736 558h6.5v6.5h-6.5zM742 564h6.5v6.5h-6.5zM832 564h6.5v6.5h-6.5zM922 564h6.5v6.5h-6.5zM754 570h6.5v6.5h-6.5zM826 570h6.5v6.5h-6.5zM928 570h12.5v6.5h-12.5zM766 576h6.5v6.5h-6.5zM814 576h6.5v6.5h-6.5zM544 594h6.5v6.5h-6.5zM316 600h6.5v6.5h-6.5zM328 618h6.5v6.5h-6.5zM328 624h6.5v6.5h-6.5zM328 630h6.5v6.5h-6.5zM550 630h6.5v6.5h-6.5zM544 642h6.5v6.5h-6.5zM538 654h6.5v6.5h-6.5z"/><path fill="#08fff7" d="M694 204h12.5v6.5h-12.5zM712 216h6.5v6.5h-6.5zM706 222h18.5v6.5h-18.5zM700 228h30.5v6.5h-30.5zM700 234h12.5v6.5h-12.5zM706 258h6.5v6.5h-6.5zM712 264h6.5v6.5h-6.5zM712 270h12.5v6.5h-12.5zM706 276h24.5v6.5h-24.5zM700 282h30.5v6.5h-30.5zM724 288h12.5v6.5h-12.5zM718 294h18.5v6.5h-18.5zM676 300h6.5v6.5h-6.5zM718 300h24.5v6.5h-24.5zM724 306h24.5v6.5h-24.5zM688 312h6.5v6.5h-6.5zM718 312h24.5v6.5h-24.5zM712 318h24.5v6.5h-24.5zM718 324h6.5v6.5h-6.5zM730 324h12.5v6.5h-12.5zM718 330h6.5v6.5h-6.5zM736 330h24.5v6.5h-24.5zM850 330h24.5v6.5h-24.5zM742 336h18.5v6.5h-18.5zM880 336h6.5v6.5h-6.5zM832 342h6.5v6.5h-6.5zM892 342h12.5v6.5h-12.5zM688 348h6.5v6.5h-6.5zM700 348h6.5v6.5h-6.5zM712 348h6.5v6.5h-6.5zM760 348h12.5v6.5h-12.5zM820 348h6.5v6.5h-6.5zM682 354h6.5v6.5h-6.5zM760 354h18.5v6.5h-18.5zM790 354h6.5v6.5h-6.5zM904 354h6.5v6.5h-6.5zM676 360h6.5v6.5h-6.5zM796 360h6.5v6.5h-6.5zM676 366h6.5v6.5h-6.5zM874 366h6.5v6.5h-6.5zM682 372h6.5v6.5h-6.5zM874 372h6.5v6.5h-6.5zM880 378h12.5v6.5h-12.5zM664 384h12.5v6.5h-12.5zM658 390h6.5v6.5h-6.5zM892 402h6.5v6.5h-6.5zM892 408h6.5v6.5h-6.5zM652 414h6.5v6.5h-6.5zM898 414h6.5v6.5h-6.5zM520 420h6.5v6.5h-6.5zM730 420h6.5v6.5h-6.5zM790 420h6.5v6.5h-6.5zM910 420h6.5v6.5h-6.5zM502 426h6.5v6.5h-6.5zM646 426h6.5v6.5h-6.5zM718 426h6.5v6.5h-6.5zM478 432h18.5v6.5h-18.5zM682 432h12.5v6.5h-12.5zM712 432h6.5v6.5h-6.5zM928 432h6.5v6.5h-6.5zM466 438h6.5v6.5h-6.5zM634 438h12.5v6.5h-12.5zM658 438h6.5v6.5h-6.5zM454 444h6.5v6.5h-6.5zM646 444h6.5v6.5h-6.5zM814 444h6.5v6.5h-6.5zM442 450h6.5v6.5h-6.5zM568 450h6.5v6.5h-6.5zM646 450h6.5v6.5h-6.5zM946 450h6.5v6.5h-6.5zM430 456h6.5v6.5h-6.5zM550 456h6.5v6.5h-6.5zM820 456h6.5v6.5h-6.5zM946 456h6.5v6.5h-6.5zM418 462h6.5v6.5h-6.5zM550 462h6.5v6.5h-6.5zM652 462h6.5v6.5h-6.5zM820 462h24.5v6.5h-24.5zM538 468h6.5v6.5h-6.5zM658 468h6.5v6.5h-6.5zM844 468h6.5v6.5h-6.5zM346 474h30.5v6.5h-30.5zM400 474h6.5v6.5h-6.5zM562 474h6.5v6.5h-6.5zM670 474h6.5v6.5h-6.5zM718 474h24.5v6.5h-24.5zM808 474h6.5v6.5h-6.5zM316 480h36.5v6.5h-36.5zM382 480h18.5v6.5h-18.5zM700 480h18.5v6.5h-18.5zM742 480h6.5v6.5h-6.5zM790 480h6.5v6.5h-6.5zM838 480h6.5v6.5h-6.5zM262 486h6.5v6.5h-6.5zM286 486h24.5v6.5h-24.5zM388 486h6.5v6.5h-6.5zM520 486h6.5v6.5h-6.5zM568 486h6.5v6.5h-6.5zM748 486h6.5v6.5h-6.5zM820 486h6.5v6.5h-6.5zM832 486h6.5v6.5h-6.5zM940 486h6.5v6.5h-6.5zM250 492h6.5v6.5h-6.5zM514 492h6.5v6.5h-6.5zM766 492h6.5v6.5h-6.5zM862 492h18.5v6.5h-18.5zM892 492h24.5v6.5h-24.5zM496 498h18.5v6.5h-18.5zM754 498h6.5v6.5h-6.5zM856 498h18.5v6.5h-18.5zM496 504h12.5v6.5h-12.5zM568 504h6.5v6.5h-6.5zM748 504h6.5v6.5h-6.5zM766 504h6.5v6.5h-6.5zM790 504h12.5v6.5h-12.5zM862 504h12.5v6.5h-12.5zM496 510h12.5v6.5h-12.5zM808 510h6.5v6.5h-6.5zM862 510h12.5v6.5h-12.5zM496 516h12.5v6.5h-12.5zM730 516h6.5v6.5h-6.5zM814 516h6.5v6.5h-6.5zM862 516h12.5v6.5h-12.5zM730 522h6.5v6.5h-6.5zM856 522h12.5v6.5h-12.5zM730 528h6.5v6.5h-6.5zM820 528h6.5v6.5h-6.5zM856 528h18.5v6.5h-18.5zM730 534h6.5v6.5h-6.5zM868 534h6.5v6.5h-6.5zM730 540h6.5v6.5h-6.5zM880 540h6.5v6.5h-6.5zM892 546h6.5v6.5h-6.5zM280 552h6.5v6.5h-6.5zM736 552h6.5v6.5h-6.5zM832 552h6.5v6.5h-6.5zM904 552h6.5v6.5h-6.5zM742 558h6.5v6.5h-6.5zM832 558h6.5v6.5h-6.5zM916 558h6.5v6.5h-6.5zM748 564h6.5v6.5h-6.5zM928 564h12.5v6.5h-12.5zM760 570h6.5v6.5h-6.5zM772 576h42.5v6.5h-42.5zM304 582h6.5v6.5h-6.5zM538 594h6.5v6.5h-6.5zM544 600h12.5v6.5h-12.5zM550 606h6.5v6.5h-6.5zM322 612h6.5v6.5h-6.5zM550 612h6.5v6.5h-6.5zM550 624h6.5v6.5h-6.5zM544 636h6.5v6.5h-6.5zM538 648h6.5v6.5h-6.5zM532 654h6.5v6.5h-6.5z"/><path fill="#10ffef" d="M670 174h6.5v6.5h-6.5zM670 180h6.5v6.5h-6.5zM676 204h6.5v6.5h-6.5zM688 210h24.5v6.5h-24.5zM700 216h12.5v6.5h-12.5zM700 222h6.5v6.5h-6.5zM700 240h6.5v6.5h-6.5zM700 246h6.5v6.5h-6.5zM700 252h6.5v6.5h-6.5zM700 258h6.5v6.5h-6.5zM706 264h6.5v6.5h-6.5zM706 270h6.5v6.5h-6.5zM700 276h6.5v6.5h-6.5zM694 282h6.5v6.5h-6.5zM676 306h6.5v6.5h-6.5zM682 312h6.5v6.5h-6.5zM742 312h6.5v6.5h-6.5zM706 318h6.5v6.5h-6.5zM736 318h18.5v6.5h-18.5zM712 324h6.5v6.5h-6.5zM742 324h18.5v6.5h-18.5zM856 324h6.5v6.5h-6.5zM844 330h6.5v6.5h-6.5zM874 330h12.5v6.5h-12.5zM838 336h6.5v6.5h-6.5zM886 336h18.5v6.5h-18.5zM712 342h6.5v6.5h-6.5zM904 342h6.5v6.5h-6.5zM706 348h6.5v6.5h-6.5zM814 348h6.5v6.5h-6.5zM796 354h12.5v6.5h-12.5zM670 366h6.5v6.5h-6.5zM880 366h6.5v6.5h-6.5zM664 372h18.5v6.5h-18.5zM880 372h6.5v6.5h-6.5zM664 378h18.5v6.5h-18.5zM658 384h6.5v6.5h-6.5zM892 384h6.5v6.5h-6.5zM892 390h6.5v6.5h-6.5zM892 396h6.5v6.5h-6.5zM652 402h6.5v6.5h-6.5zM652 408h6.5v6.5h-6.5zM898 408h6.5v6.5h-6.5zM748 414h6.5v6.5h-6.5zM772 414h6.5v6.5h-6.5zM904 414h6.5v6.5h-6.5zM514 420h6.5v6.5h-6.5zM526 420h6.5v6.5h-6.5zM736 420h6.5v6.5h-6.5zM916 420h6.5v6.5h-6.5zM496 426h6.5v6.5h-6.5zM724 426h6.5v6.5h-6.5zM796 426h6.5v6.5h-6.5zM922 426h6.5v6.5h-6.5zM472 432h6.5v6.5h-6.5zM640 432h6.5v6.5h-6.5zM802 432h6.5v6.5h-6.5zM460 438h6.5v6.5h-6.5zM532 438h6.5v6.5h-6.5zM616 438h18.5v6.5h-18.5zM664 438h6.5v6.5h-6.5zM808 438h6.5v6.5h-6.5zM940 438h6.5v6.5h-6.5zM448 444h6.5v6.5h-6.5zM580 444h6.5v6.5h-6.5zM652 444h6.5v6.5h-6.5zM946 444h6.5v6.5h-6.5zM436 450h6.5v6.5h-6.5zM544 450h6.5v6.5h-6.5zM562 450h6.5v6.5h-6.5zM652 450h6.5v6.5h-6.5zM814 450h6.5v6.5h-6.5zM424 456h6.5v6.5h-6.5zM652 456h6.5v6.5h-6.5zM814 456h6.5v6.5h-6.5zM352 462h18.5v6.5h-18.5zM412 462h6.5v6.5h-6.5zM814 462h6.5v6.5h-6.5zM946 462h6.5v6.5h-6.5zM334 468h42.5v6.5h-42.5zM406 468h6.5v6.5h-6.5zM556 468h6.5v6.5h-6.5zM724 468h12.5v6.5h-12.5zM814 468h18.5v6.5h-18.5zM838 468h6.5v6.5h-6.5zM946 468h6.5v6.5h-6.5zM316 474h30.5v6.5h-30.5zM376 474h24.5v6.5h-24.5zM676 474h24.5v6.5h-24.5zM712 474h6.5v6.5h-6.5zM742 474h6.5v6.5h-6.5zM802 474h6.5v6.5h-6.5zM814 474h6.5v6.5h-6.5zM844 474h6.5v6.5h-6.5zM946 474h6.5v6.5h-6.5zM274 480h12.5v6.5h-12.5zM298 480h18.5v6.5h-18.5zM532 480h6.5v6.5h-6.5zM562 480h6.5v6.5h-6.5zM748 480h6.5v6.5h-6.5zM256 486h6.5v6.5h-6.5zM526 486h6.5v6.5h-6.5zM772 486h6.5v6.5h-6.5zM826 486h6.5v6.5h-6.5zM520 492h6.5v6.5h-6.5zM568 492h6.5v6.5h-6.5zM754 492h12.5v6.5h-12.5zM880 492h12.5v6.5h-12.5zM934 492h6.5v6.5h-6.5zM514 498h6.5v6.5h-6.5zM568 498h6.5v6.5h-6.5zM760 498h6.5v6.5h-6.5zM874 498h6.5v6.5h-6.5zM508 504h12.5v6.5h-12.5zM874 504h6.5v6.5h-6.5zM508 510h12.5v6.5h-12.5zM562 510h6.5v6.5h-6.5zM742 510h6.5v6.5h-6.5zM874 510h6.5v6.5h-6.5zM508 516h6.5v6.5h-6.5zM736 516h6.5v6.5h-6.5zM874 516h6.5v6.5h-6.5zM868 522h12.5v6.5h-12.5zM874 528h6.5v6.5h-6.5zM268 534h6.5v6.5h-6.5zM874 534h6.5v6.5h-6.5zM736 540h6.5v6.5h-6.5zM826 540h6.5v6.5h-6.5zM886 540h6.5v6.5h-6.5zM736 546h6.5v6.5h-6.5zM898 546h6.5v6.5h-6.5zM742 552h6.5v6.5h-6.5zM910 552h6.5v6.5h-6.5zM922 558h6.5v6.5h-6.5zM754 564h6.5v6.5h-6.5zM940 564h18.5v6.5h-18.5zM820 570h6.5v6.5h-6.5zM298 576h6.5v6.5h-6.5zM310 594h6.5v6.5h-6.5zM538 600h6.5v6.5h-6.5zM538 606h12.5v6.5h-12.5zM322 618h6.5v6.5h-6.5zM550 618h6.5v6.5h-6.5zM322 624h6.5v6.5h-6.5zM322 630h6.5v6.5h-6.5zM538 642h6.5v6.5h-6.5zM526 648h12.5v6.5h-12.5z"/><path fill="#18ffe7" d="M670 186h6.5v6.5h-6.5zM670 192h6.5v6.5h-6.5zM682 210h6.5v6.5h-6.5zM694 216h6.5v6.5h-6.5zM694 222h6.5v6.5h-6.5zM694 228h6.5v6.5h-6.5zM700 264h6.5v6.5h-6.5zM700 270h6.5v6.5h-6.5zM694 276h6.5v6.5h-6.5zM682 288h6.5v6.5h-6.5zM700 318h6.5v6.5h-6.5zM850 324h6.5v6.5h-6.5zM862 324h12.5v6.5h-12.5zM712 330h6.5v6.5h-6.5zM886 330h18.5v6.5h-18.5zM712 336h6.5v6.5h-6.5zM904 336h6.5v6.5h-6.5zM826 342h6.5v6.5h-6.5zM790 348h6.5v6.5h-6.5zM676 354h6.5v6.5h-6.5zM670 360h6.5v6.5h-6.5zM904 360h6.5v6.5h-6.5zM664 366h6.5v6.5h-6.5zM886 366h12.5v6.5h-12.5zM886 372h6.5v6.5h-6.5zM892 378h6.5v6.5h-6.5zM652 390h6.5v6.5h-6.5zM652 396h6.5v6.5h-6.5zM898 402h6.5v6.5h-6.5zM754 414h18.5v6.5h-18.5zM910 414h6.5v6.5h-6.5zM646 420h6.5v6.5h-6.5zM784 420h6.5v6.5h-6.5zM484 426h12.5v6.5h-12.5zM640 426h6.5v6.5h-6.5zM928 426h6.5v6.5h-6.5zM466 432h6.5v6.5h-6.5zM532 432h6.5v6.5h-6.5zM634 432h6.5v6.5h-6.5zM718 432h6.5v6.5h-6.5zM934 432h6.5v6.5h-6.5zM454 438h6.5v6.5h-6.5zM604 438h12.5v6.5h-12.5zM670 438h6.5v6.5h-6.5zM700 438h12.5v6.5h-12.5zM946 438h6.5v6.5h-6.5zM442 444h6.5v6.5h-6.5zM538 444h6.5v6.5h-6.5zM658 444h6.5v6.5h-6.5zM808 444h6.5v6.5h-6.5zM430 450h6.5v6.5h-6.5zM550 450h12.5v6.5h-12.5zM952 450h6.5v6.5h-6.5zM352 456h18.5v6.5h-18.5zM418 456h6.5v6.5h-6.5zM952 456h6.5v6.5h-6.5zM334 462h18.5v6.5h-18.5zM370 462h12.5v6.5h-12.5zM406 462h6.5v6.5h-6.5zM658 462h6.5v6.5h-6.5zM316 468h18.5v6.5h-18.5zM376 468h12.5v6.5h-12.5zM394 468h12.5v6.5h-12.5zM544 468h12.5v6.5h-12.5zM664 468h12.5v6.5h-12.5zM712 468h12.5v6.5h-12.5zM736 468h6.5v6.5h-6.5zM808 468h6.5v6.5h-6.5zM832 468h6.5v6.5h-6.5zM304 474h12.5v6.5h-12.5zM538 474h6.5v6.5h-6.5zM700 474h12.5v6.5h-12.5zM748 474h6.5v6.5h-6.5zM796 474h6.5v6.5h-6.5zM820 474h6.5v6.5h-6.5zM832 474h12.5v6.5h-12.5zM268 480h6.5v6.5h-6.5zM286 480h12.5v6.5h-12.5zM784 480h6.5v6.5h-6.5zM820 480h6.5v6.5h-6.5zM832 480h6.5v6.5h-6.5zM946 480h6.5v6.5h-6.5zM754 486h18.5v6.5h-18.5zM526 492h6.5v6.5h-6.5zM940 492h6.5v6.5h-6.5zM520 498h6.5v6.5h-6.5zM880 498h30.5v6.5h-30.5zM244 504h6.5v6.5h-6.5zM520 504h6.5v6.5h-6.5zM754 504h12.5v6.5h-12.5zM880 504h6.5v6.5h-6.5zM520 510h6.5v6.5h-6.5zM880 510h6.5v6.5h-6.5zM250 516h6.5v6.5h-6.5zM880 516h6.5v6.5h-6.5zM736 522h6.5v6.5h-6.5zM814 522h6.5v6.5h-6.5zM880 522h6.5v6.5h-6.5zM736 528h6.5v6.5h-6.5zM880 528h6.5v6.5h-6.5zM736 534h6.5v6.5h-6.5zM880 534h6.5v6.5h-6.5zM892 540h6.5v6.5h-6.5zM742 546h6.5v6.5h-6.5zM904 546h6.5v6.5h-6.5zM916 552h6.5v6.5h-6.5zM748 558h6.5v6.5h-6.5zM928 558h6.5v6.5h-6.5zM826 564h6.5v6.5h-6.5zM958 564h18.5v6.5h-18.5zM292 570h6.5v6.5h-6.5zM766 570h12.5v6.5h-12.5zM316 606h6.5v6.5h-6.5zM532 606h6.5v6.5h-6.5zM538 612h12.5v6.5h-12.5zM544 630h6.5v6.5h-6.5zM538 636h6.5v6.5h-6.5zM520 642h18.5v6.5h-18.5z"/><path fill="#20ffdf" d="M670 198h6.5v6.5h-6.5zM688 216h6.5v6.5h-6.5zM694 234h6.5v6.5h-6.5zM694 258h6.5v6.5h-6.5zM688 282h6.5v6.5h-6.5zM676 294h6.5v6.5h-6.5zM676 312h6.5v6.5h-6.5zM688 318h12.5v6.5h-12.5zM856 318h12.5v6.5h-12.5zM706 324h6.5v6.5h-6.5zM844 324h6.5v6.5h-6.5zM874 324h30.5v6.5h-30.5zM838 330h6.5v6.5h-6.5zM904 330h6.5v6.5h-6.5zM832 336h6.5v6.5h-6.5zM694 342h6.5v6.5h-6.5zM820 342h6.5v6.5h-6.5zM682 348h6.5v6.5h-6.5zM796 348h18.5v6.5h-18.5zM664 360h6.5v6.5h-6.5zM898 366h6.5v6.5h-6.5zM892 372h6.5v6.5h-6.5zM658 378h6.5v6.5h-6.5zM904 408h6.5v6.5h-6.5zM646 414h6.5v6.5h-6.5zM916 414h6.5v6.5h-6.5zM508 420h6.5v6.5h-6.5zM742 420h6.5v6.5h-6.5zM922 420h6.5v6.5h-6.5zM478 426h6.5v6.5h-6.5zM532 426h6.5v6.5h-6.5zM730 426h6.5v6.5h-6.5zM460 432h6.5v6.5h-6.5zM628 432h6.5v6.5h-6.5zM940 432h6.5v6.5h-6.5zM598 438h6.5v6.5h-6.5zM694 438h6.5v6.5h-6.5zM712 438h6.5v6.5h-6.5zM436 444h6.5v6.5h-6.5zM574 444h6.5v6.5h-6.5zM952 444h6.5v6.5h-6.5zM352 450h18.5v6.5h-18.5zM424 450h6.5v6.5h-6.5zM658 450h6.5v6.5h-6.5zM808 450h6.5v6.5h-6.5zM340 456h12.5v6.5h-12.5zM370 456h12.5v6.5h-12.5zM412 456h6.5v6.5h-6.5zM658 456h6.5v6.5h-6.5zM808 456h6.5v6.5h-6.5zM322 462h12.5v6.5h-12.5zM382 462h6.5v6.5h-6.5zM400 462h6.5v6.5h-6.5zM718 462h18.5v6.5h-18.5zM808 462h6.5v6.5h-6.5zM952 462h6.5v6.5h-6.5zM310 468h6.5v6.5h-6.5zM388 468h6.5v6.5h-6.5zM676 468h36.5v6.5h-36.5zM742 468h6.5v6.5h-6.5zM952 468h6.5v6.5h-6.5zM298 474h6.5v6.5h-6.5zM556 474h6.5v6.5h-6.5zM826 474h6.5v6.5h-6.5zM754 480h6.5v6.5h-6.5zM778 480h6.5v6.5h-6.5zM826 480h6.5v6.5h-6.5zM532 486h6.5v6.5h-6.5zM946 486h6.5v6.5h-6.5zM244 498h6.5v6.5h-6.5zM526 498h6.5v6.5h-6.5zM910 498h18.5v6.5h-18.5zM526 504h6.5v6.5h-6.5zM886 504h18.5v6.5h-18.5zM244 510h6.5v6.5h-6.5zM526 510h6.5v6.5h-6.5zM748 510h6.5v6.5h-6.5zM772 510h12.5v6.5h-12.5zM802 510h6.5v6.5h-6.5zM886 510h12.5v6.5h-12.5zM742 516h6.5v6.5h-6.5zM886 516h6.5v6.5h-6.5zM886 522h6.5v6.5h-6.5zM262 528h6.5v6.5h-6.5zM886 528h6.5v6.5h-6.5zM820 534h6.5v6.5h-6.5zM886 534h12.5v6.5h-12.5zM898 540h6.5v6.5h-6.5zM274 546h6.5v6.5h-6.5zM826 546h6.5v6.5h-6.5zM910 546h6.5v6.5h-6.5zM748 552h6.5v6.5h-6.5zM826 552h6.5v6.5h-6.5zM754 558h6.5v6.5h-6.5zM826 558h6.5v6.5h-6.5zM934 558h12.5v6.5h-12.5zM286 564h6.5v6.5h-6.5zM760 564h6.5v6.5h-6.5zM778 570h12.5v6.5h-12.5zM814 570h6.5v6.5h-6.5zM532 612h6.5v6.5h-6.5zM544 618h6.5v6.5h-6.5zM544 624h6.5v6.5h-6.5zM526 630h18.5v6.5h-18.5zM520 636h18.5v6.5h-18.5z"/><path fill="#28ffd7" d="M688 222h6.5v6.5h-6.5zM694 240h6.5v6.5h-6.5zM694 246h6.5v6.5h-6.5zM694 252h6.5v6.5h-6.5zM694 264h6.5v6.5h-6.5zM694 270h6.5v6.5h-6.5zM850 306h12.5v6.5h-12.5zM850 312h18.5v6.5h-18.5zM682 318h6.5v6.5h-6.5zM850 318h6.5v6.5h-6.5zM868 318h12.5v6.5h-12.5zM892 318h6.5v6.5h-6.5zM826 336h6.5v6.5h-6.5zM910 336h6.5v6.5h-6.5zM688 342h6.5v6.5h-6.5zM700 342h12.5v6.5h-12.5zM910 342h6.5v6.5h-6.5zM910 348h6.5v6.5h-6.5zM670 354h6.5v6.5h-6.5zM658 372h6.5v6.5h-6.5zM898 396h6.5v6.5h-6.5zM910 408h6.5v6.5h-6.5zM502 420h6.5v6.5h-6.5zM532 420h6.5v6.5h-6.5zM928 420h6.5v6.5h-6.5zM472 426h6.5v6.5h-6.5zM736 426h6.5v6.5h-6.5zM790 426h6.5v6.5h-6.5zM934 426h6.5v6.5h-6.5zM622 432h6.5v6.5h-6.5zM724 432h6.5v6.5h-6.5zM796 432h6.5v6.5h-6.5zM946 432h6.5v6.5h-6.5zM448 438h6.5v6.5h-6.5zM592 438h6.5v6.5h-6.5zM676 438h18.5v6.5h-18.5zM718 438h6.5v6.5h-6.5zM802 438h6.5v6.5h-6.5zM952 438h6.5v6.5h-6.5zM430 444h6.5v6.5h-6.5zM568 444h6.5v6.5h-6.5zM664 444h6.5v6.5h-6.5zM706 444h12.5v6.5h-12.5zM958 444h6.5v6.5h-6.5zM346 450h6.5v6.5h-6.5zM370 450h6.5v6.5h-6.5zM418 450h6.5v6.5h-6.5zM958 450h6.5v6.5h-6.5zM328 456h12.5v6.5h-12.5zM382 456h6.5v6.5h-6.5zM406 456h6.5v6.5h-6.5zM718 456h6.5v6.5h-6.5zM958 456h6.5v6.5h-6.5zM316 462h6.5v6.5h-6.5zM388 462h12.5v6.5h-12.5zM664 462h6.5v6.5h-6.5zM706 462h12.5v6.5h-12.5zM736 462h6.5v6.5h-6.5zM304 468h6.5v6.5h-6.5zM748 468h6.5v6.5h-6.5zM802 468h6.5v6.5h-6.5zM280 474h18.5v6.5h-18.5zM754 474h6.5v6.5h-6.5zM952 474h6.5v6.5h-6.5zM262 480h6.5v6.5h-6.5zM760 480h18.5v6.5h-18.5zM952 480h6.5v6.5h-6.5zM250 486h6.5v6.5h-6.5zM562 486h6.5v6.5h-6.5zM532 492h6.5v6.5h-6.5zM928 498h6.5v6.5h-6.5zM562 504h6.5v6.5h-6.5zM904 504h6.5v6.5h-6.5zM766 510h6.5v6.5h-6.5zM898 510h12.5v6.5h-12.5zM808 516h6.5v6.5h-6.5zM892 516h12.5v6.5h-12.5zM742 522h6.5v6.5h-6.5zM892 522h6.5v6.5h-6.5zM892 528h6.5v6.5h-6.5zM742 534h6.5v6.5h-6.5zM898 534h6.5v6.5h-6.5zM742 540h6.5v6.5h-6.5zM904 540h6.5v6.5h-6.5zM922 552h6.5v6.5h-6.5zM946 558h6.5v6.5h-6.5zM766 564h6.5v6.5h-6.5zM820 564h6.5v6.5h-6.5zM790 570h24.5v6.5h-24.5zM304 588h6.5v6.5h-6.5zM310 600h6.5v6.5h-6.5zM316 612h6.5v6.5h-6.5zM316 618h6.5v6.5h-6.5zM532 618h12.5v6.5h-12.5zM316 624h6.5v6.5h-6.5zM526 624h18.5v6.5h-18.5zM316 630h6.5v6.5h-6.5z"/><path fill="#30ffcf" d="M676 210h6.5v6.5h-6.5zM682 216h6.5v6.5h-6.5zM688 228h6.5v6.5h-6.5zM688 276h6.5v6.5h-6.5zM850 300h12.5v6.5h-12.5zM844 306h6.5v6.5h-6.5zM862 306h6.5v6.5h-6.5zM844 312h6.5v6.5h-6.5zM868 312h6.5v6.5h-6.5zM844 318h6.5v6.5h-6.5zM880 318h12.5v6.5h-12.5zM898 318h6.5v6.5h-6.5zM700 324h6.5v6.5h-6.5zM838 324h6.5v6.5h-6.5zM904 324h6.5v6.5h-6.5zM706 330h6.5v6.5h-6.5zM832 330h6.5v6.5h-6.5zM706 336h6.5v6.5h-6.5zM790 342h6.5v6.5h-6.5zM814 342h6.5v6.5h-6.5zM664 354h6.5v6.5h-6.5zM910 354h6.5v6.5h-6.5zM658 366h6.5v6.5h-6.5zM898 372h6.5v6.5h-6.5zM652 384h6.5v6.5h-6.5zM898 384h6.5v6.5h-6.5zM898 390h6.5v6.5h-6.5zM646 402h6.5v6.5h-6.5zM904 402h6.5v6.5h-6.5zM646 408h6.5v6.5h-6.5zM520 414h12.5v6.5h-12.5zM922 414h6.5v6.5h-6.5zM496 420h6.5v6.5h-6.5zM640 420h6.5v6.5h-6.5zM748 420h6.5v6.5h-6.5zM778 420h6.5v6.5h-6.5zM466 426h6.5v6.5h-6.5zM634 426h6.5v6.5h-6.5zM940 426h12.5v6.5h-12.5zM454 432h6.5v6.5h-6.5zM616 432h6.5v6.5h-6.5zM952 432h6.5v6.5h-6.5zM442 438h6.5v6.5h-6.5zM958 438h6.5v6.5h-6.5zM352 444h24.5v6.5h-24.5zM424 444h6.5v6.5h-6.5zM670 444h6.5v6.5h-6.5zM700 444h6.5v6.5h-6.5zM718 444h6.5v6.5h-6.5zM802 444h6.5v6.5h-6.5zM334 450h12.5v6.5h-12.5zM376 450h12.5v6.5h-12.5zM406 450h12.5v6.5h-12.5zM664 450h6.5v6.5h-6.5zM706 450h18.5v6.5h-18.5zM322 456h6.5v6.5h-6.5zM388 456h18.5v6.5h-18.5zM664 456h6.5v6.5h-6.5zM706 456h12.5v6.5h-12.5zM724 456h6.5v6.5h-6.5zM310 462h6.5v6.5h-6.5zM670 462h6.5v6.5h-6.5zM700 462h6.5v6.5h-6.5zM802 462h6.5v6.5h-6.5zM958 462h6.5v6.5h-6.5zM298 468h6.5v6.5h-6.5zM958 468h6.5v6.5h-6.5zM274 474h6.5v6.5h-6.5zM544 474h12.5v6.5h-12.5zM760 474h6.5v6.5h-6.5zM790 474h6.5v6.5h-6.5zM538 480h6.5v6.5h-6.5zM952 486h6.5v6.5h-6.5zM562 492h6.5v6.5h-6.5zM946 492h6.5v6.5h-6.5zM532 498h6.5v6.5h-6.5zM562 498h6.5v6.5h-6.5zM934 498h6.5v6.5h-6.5zM910 504h12.5v6.5h-12.5zM532 510h6.5v6.5h-6.5zM754 510h12.5v6.5h-12.5zM784 510h6.5v6.5h-6.5zM910 510h6.5v6.5h-6.5zM748 516h6.5v6.5h-6.5zM904 516h6.5v6.5h-6.5zM256 522h6.5v6.5h-6.5zM898 522h12.5v6.5h-12.5zM742 528h6.5v6.5h-6.5zM814 528h6.5v6.5h-6.5zM898 528h12.5v6.5h-12.5zM904 534h6.5v6.5h-6.5zM910 540h6.5v6.5h-6.5zM748 546h6.5v6.5h-6.5zM916 546h6.5v6.5h-6.5zM928 552h6.5v6.5h-6.5zM280 558h6.5v6.5h-6.5zM952 558h12.5v6.5h-12.5z"/><path fill="#38ffc7" d="M670 204h6.5v6.5h-6.5zM688 264h6.5v6.5h-6.5zM688 270h6.5v6.5h-6.5zM682 282h6.5v6.5h-6.5zM844 300h6.5v6.5h-6.5zM862 300h6.5v6.5h-6.5zM670 306h6.5v6.5h-6.5zM838 306h6.5v6.5h-6.5zM868 306h6.5v6.5h-6.5zM838 312h6.5v6.5h-6.5zM874 312h6.5v6.5h-6.5zM676 318h6.5v6.5h-6.5zM838 318h6.5v6.5h-6.5zM682 324h18.5v6.5h-18.5zM910 330h6.5v6.5h-6.5zM688 336h18.5v6.5h-18.5zM682 342h6.5v6.5h-6.5zM796 342h18.5v6.5h-18.5zM676 348h6.5v6.5h-6.5zM658 360h6.5v6.5h-6.5zM904 366h6.5v6.5h-6.5zM898 378h6.5v6.5h-6.5zM646 396h6.5v6.5h-6.5zM916 408h6.5v6.5h-6.5zM958 408h18.5v6.5h-18.5zM514 414h6.5v6.5h-6.5zM928 414h6.5v6.5h-6.5zM946 414h30.5v6.5h-30.5zM478 420h18.5v6.5h-18.5zM934 420h30.5v6.5h-30.5zM628 426h6.5v6.5h-6.5zM952 426h6.5v6.5h-6.5zM448 432h6.5v6.5h-6.5zM610 432h6.5v6.5h-6.5zM730 432h6.5v6.5h-6.5zM958 432h6.5v6.5h-6.5zM430 438h12.5v6.5h-12.5zM538 438h6.5v6.5h-6.5zM586 438h6.5v6.5h-6.5zM724 438h6.5v6.5h-6.5zM964 438h6.5v6.5h-6.5zM346 444h6.5v6.5h-6.5zM376 444h6.5v6.5h-6.5zM412 444h12.5v6.5h-12.5zM544 444h6.5v6.5h-6.5zM562 444h6.5v6.5h-6.5zM964 444h6.5v6.5h-6.5zM328 450h6.5v6.5h-6.5zM388 450h18.5v6.5h-18.5zM724 450h6.5v6.5h-6.5zM802 450h6.5v6.5h-6.5zM964 450h6.5v6.5h-6.5zM316 456h6.5v6.5h-6.5zM670 456h6.5v6.5h-6.5zM700 456h6.5v6.5h-6.5zM730 456h6.5v6.5h-6.5zM802 456h6.5v6.5h-6.5zM964 456h6.5v6.5h-6.5zM304 462h6.5v6.5h-6.5zM676 462h24.5v6.5h-24.5zM742 462h6.5v6.5h-6.5zM292 468h6.5v6.5h-6.5zM754 468h6.5v6.5h-6.5zM796 468h6.5v6.5h-6.5zM268 474h6.5v6.5h-6.5zM766 474h6.5v6.5h-6.5zM958 474h6.5v6.5h-6.5zM256 480h6.5v6.5h-6.5zM556 480h6.5v6.5h-6.5zM244 492h6.5v6.5h-6.5zM532 504h6.5v6.5h-6.5zM922 504h6.5v6.5h-6.5zM796 510h6.5v6.5h-6.5zM916 510h6.5v6.5h-6.5zM910 516h6.5v6.5h-6.5zM910 522h6.5v6.5h-6.5zM910 528h6.5v6.5h-6.5zM910 534h6.5v6.5h-6.5zM268 540h6.5v6.5h-6.5zM748 540h6.5v6.5h-6.5zM820 540h6.5v6.5h-6.5zM916 540h6.5v6.5h-6.5zM922 546h6.5v6.5h-6.5zM754 552h6.5v6.5h-6.5zM934 552h6.5v6.5h-6.5zM760 558h6.5v6.5h-6.5zM964 558h12.5v6.5h-12.5zM772 564h12.5v6.5h-12.5zM310 606h6.5v6.5h-6.5zM310 618h6.5v6.5h-6.5zM310 624h6.5v6.5h-6.5z"/><path fill="#40ffbf" d="M682 222h6.5v6.5h-6.5zM688 234h6.5v6.5h-6.5zM688 252h6.5v6.5h-6.5zM688 258h6.5v6.5h-6.5zM676 288h6.5v6.5h-6.5zM850 294h12.5v6.5h-12.5zM670 300h6.5v6.5h-6.5zM838 300h6.5v6.5h-6.5zM868 300h6.5v6.5h-6.5zM880 312h24.5v6.5h-24.5zM904 318h6.5v6.5h-6.5zM832 324h6.5v6.5h-6.5zM688 330h18.5v6.5h-18.5zM826 330h6.5v6.5h-6.5zM820 336h6.5v6.5h-6.5zM670 348h6.5v6.5h-6.5zM658 354h6.5v6.5h-6.5zM910 360h6.5v6.5h-6.5zM652 378h6.5v6.5h-6.5zM646 390h6.5v6.5h-6.5zM904 396h6.5v6.5h-6.5zM910 402h6.5v6.5h-6.5zM964 402h12.5v6.5h-12.5zM922 408h6.5v6.5h-6.5zM952 408h6.5v6.5h-6.5zM532 414h6.5v6.5h-6.5zM640 414h6.5v6.5h-6.5zM934 414h12.5v6.5h-12.5zM772 420h6.5v6.5h-6.5zM964 420h12.5v6.5h-12.5zM460 426h6.5v6.5h-6.5zM742 426h6.5v6.5h-6.5zM784 426h6.5v6.5h-6.5zM958 426h12.5v6.5h-12.5zM964 432h6.5v6.5h-6.5zM424 438h6.5v6.5h-6.5zM796 438h6.5v6.5h-6.5zM970 438h6.5v6.5h-6.5zM340 444h6.5v6.5h-6.5zM382 444h30.5v6.5h-30.5zM550 444h12.5v6.5h-12.5zM676 444h6.5v6.5h-6.5zM694 444h6.5v6.5h-6.5zM724 444h6.5v6.5h-6.5zM970 444h6.5v6.5h-6.5zM322 450h6.5v6.5h-6.5zM670 450h6.5v6.5h-6.5zM700 450h6.5v6.5h-6.5zM970 450h6.5v6.5h-6.5zM310 456h6.5v6.5h-6.5zM736 456h6.5v6.5h-6.5zM970 456h6.5v6.5h-6.5zM298 462h6.5v6.5h-6.5zM748 462h6.5v6.5h-6.5zM964 462h6.5v6.5h-6.5zM280 468h12.5v6.5h-12.5zM760 468h6.5v6.5h-6.5zM964 468h6.5v6.5h-6.5zM772 474h6.5v6.5h-6.5zM784 474h6.5v6.5h-6.5zM958 480h6.5v6.5h-6.5zM538 486h6.5v6.5h-6.5zM952 492h6.5v6.5h-6.5zM940 498h6.5v6.5h-6.5zM790 510h6.5v6.5h-6.5zM922 510h6.5v6.5h-6.5zM916 516h6.5v6.5h-6.5zM748 522h6.5v6.5h-6.5zM916 522h6.5v6.5h-6.5zM748 528h6.5v6.5h-6.5zM916 528h6.5v6.5h-6.5zM748 534h6.5v6.5h-6.5zM916 534h6.5v6.5h-6.5zM820 546h6.5v6.5h-6.5zM928 546h6.5v6.5h-6.5zM274 552h6.5v6.5h-6.5zM940 552h12.5v6.5h-12.5zM820 558h6.5v6.5h-6.5zM784 564h12.5v6.5h-12.5zM814 564h6.5v6.5h-6.5zM298 582h6.5v6.5h-6.5zM310 612h6.5v6.5h-6.5z"/><path fill="#48ffb7" d="M418 192h6.5v6.5h-6.5zM418 198h12.5v6.5h-12.5zM424 204h6.5v6.5h-6.5zM688 240h6.5v6.5h-6.5zM688 246h6.5v6.5h-6.5zM682 276h6.5v6.5h-6.5zM844 294h6.5v6.5h-6.5zM862 294h6.5v6.5h-6.5zM874 306h6.5v6.5h-6.5zM670 312h6.5v6.5h-6.5zM832 312h6.5v6.5h-6.5zM832 318h6.5v6.5h-6.5zM928 318h6.5v6.5h-6.5zM676 324h6.5v6.5h-6.5zM910 324h6.5v6.5h-6.5zM682 330h6.5v6.5h-6.5zM682 336h6.5v6.5h-6.5zM814 336h6.5v6.5h-6.5zM664 348h6.5v6.5h-6.5zM652 360h6.5v6.5h-6.5zM652 366h6.5v6.5h-6.5zM652 372h6.5v6.5h-6.5zM958 402h6.5v6.5h-6.5zM928 408h6.5v6.5h-6.5zM946 408h6.5v6.5h-6.5zM508 414h6.5v6.5h-6.5zM472 420h6.5v6.5h-6.5zM634 420h6.5v6.5h-6.5zM754 420h6.5v6.5h-6.5zM454 426h6.5v6.5h-6.5zM622 426h6.5v6.5h-6.5zM970 426h6.5v6.5h-6.5zM436 432h12.5v6.5h-12.5zM538 432h6.5v6.5h-6.5zM604 432h6.5v6.5h-6.5zM736 432h6.5v6.5h-6.5zM790 432h6.5v6.5h-6.5zM970 432h6.5v6.5h-6.5zM352 438h30.5v6.5h-30.5zM412 438h12.5v6.5h-12.5zM580 438h6.5v6.5h-6.5zM730 438h6.5v6.5h-6.5zM334 444h6.5v6.5h-6.5zM682 444h12.5v6.5h-12.5zM796 444h6.5v6.5h-6.5zM316 450h6.5v6.5h-6.5zM676 450h6.5v6.5h-6.5zM694 450h6.5v6.5h-6.5zM730 450h6.5v6.5h-6.5zM304 456h6.5v6.5h-6.5zM676 456h24.5v6.5h-24.5zM292 462h6.5v6.5h-6.5zM754 462h6.5v6.5h-6.5zM796 462h6.5v6.5h-6.5zM970 462h6.5v6.5h-6.5zM274 468h6.5v6.5h-6.5zM262 474h6.5v6.5h-6.5zM778 474h6.5v6.5h-6.5zM964 474h6.5v6.5h-6.5zM544 480h6.5v6.5h-6.5zM556 486h6.5v6.5h-6.5zM958 486h6.5v6.5h-6.5zM538 492h6.5v6.5h-6.5zM946 498h6.5v6.5h-6.5zM928 504h6.5v6.5h-6.5zM556 510h6.5v6.5h-6.5zM754 516h6.5v6.5h-6.5zM922 516h6.5v6.5h-6.5zM808 522h6.5v6.5h-6.5zM922 522h6.5v6.5h-6.5zM814 534h6.5v6.5h-6.5zM922 534h6.5v6.5h-6.5zM922 540h6.5v6.5h-6.5zM754 546h6.5v6.5h-6.5zM934 546h6.5v6.5h-6.5zM820 552h6.5v6.5h-6.5zM952 552h6.5v6.5h-6.5zM766 558h6.5v6.5h-6.5zM796 564h18.5v6.5h-18.5zM304 618h6.5v6.5h-6.5z"/><path fill="#50ffaf" d="M664 174h6.5v6.5h-6.5zM664 180h6.5v6.5h-6.5zM346 186h12.5v6.5h-12.5zM346 192h12.5v6.5h-12.5zM352 198h6.5v6.5h-6.5zM412 198h6.5v6.5h-6.5zM418 204h6.5v6.5h-6.5zM430 204h12.5v6.5h-12.5zM436 210h12.5v6.5h-12.5zM676 216h6.5v6.5h-6.5zM850 288h6.5v6.5h-6.5zM838 294h6.5v6.5h-6.5zM868 294h6.5v6.5h-6.5zM874 300h6.5v6.5h-6.5zM832 306h6.5v6.5h-6.5zM928 312h12.5v6.5h-12.5zM934 318h6.5v6.5h-6.5zM676 330h6.5v6.5h-6.5zM916 330h6.5v6.5h-6.5zM790 336h6.5v6.5h-6.5zM916 336h6.5v6.5h-6.5zM676 342h6.5v6.5h-6.5zM916 342h6.5v6.5h-6.5zM658 348h6.5v6.5h-6.5zM652 354h6.5v6.5h-6.5zM646 360h6.5v6.5h-6.5zM910 366h6.5v6.5h-6.5zM904 372h6.5v6.5h-6.5zM904 390h6.5v6.5h-6.5zM970 396h6.5v6.5h-6.5zM916 402h6.5v6.5h-6.5zM952 402h6.5v6.5h-6.5zM640 408h6.5v6.5h-6.5zM934 408h12.5v6.5h-12.5zM502 414h6.5v6.5h-6.5zM466 420h6.5v6.5h-6.5zM760 420h12.5v6.5h-12.5zM538 426h6.5v6.5h-6.5zM616 426h6.5v6.5h-6.5zM424 432h12.5v6.5h-12.5zM598 432h6.5v6.5h-6.5zM346 438h6.5v6.5h-6.5zM382 438h30.5v6.5h-30.5zM328 444h6.5v6.5h-6.5zM730 444h6.5v6.5h-6.5zM682 450h12.5v6.5h-12.5zM796 450h6.5v6.5h-6.5zM298 456h6.5v6.5h-6.5zM742 456h6.5v6.5h-6.5zM796 456h6.5v6.5h-6.5zM286 462h6.5v6.5h-6.5zM766 468h6.5v6.5h-6.5zM790 468h6.5v6.5h-6.5zM970 468h6.5v6.5h-6.5zM970 474h6.5v6.5h-6.5zM250 480h6.5v6.5h-6.5zM550 480h6.5v6.5h-6.5zM964 480h6.5v6.5h-6.5zM538 498h6.5v6.5h-6.5zM538 504h6.5v6.5h-6.5zM556 504h6.5v6.5h-6.5zM934 504h6.5v6.5h-6.5zM538 510h6.5v6.5h-6.5zM928 510h6.5v6.5h-6.5zM244 516h6.5v6.5h-6.5zM760 516h18.5v6.5h-18.5zM802 516h6.5v6.5h-6.5zM922 528h6.5v6.5h-6.5zM262 534h6.5v6.5h-6.5zM928 540h6.5v6.5h-6.5zM940 546h6.5v6.5h-6.5zM760 552h6.5v6.5h-6.5zM958 552h6.5v6.5h-6.5zM286 570h6.5v6.5h-6.5zM292 576h6.5v6.5h-6.5zM304 594h6.5v6.5h-6.5zM304 612h6.5v6.5h-6.5z"/><path fill="#58ffa7" d="M664 186h6.5v6.5h-6.5zM316 192h12.5v6.5h-12.5zM340 192h6.5v6.5h-6.5zM346 198h6.5v6.5h-6.5zM424 210h12.5v6.5h-12.5zM448 210h6.5v6.5h-6.5zM670 210h6.5v6.5h-6.5zM436 216h12.5v6.5h-12.5zM466 216h6.5v6.5h-6.5zM682 228h6.5v6.5h-6.5zM682 264h6.5v6.5h-6.5zM682 270h6.5v6.5h-6.5zM844 288h6.5v6.5h-6.5zM856 288h6.5v6.5h-6.5zM670 294h6.5v6.5h-6.5zM832 300h6.5v6.5h-6.5zM880 306h18.5v6.5h-18.5zM904 312h6.5v6.5h-6.5zM670 318h6.5v6.5h-6.5zM922 318h6.5v6.5h-6.5zM826 324h6.5v6.5h-6.5zM916 324h6.5v6.5h-6.5zM820 330h6.5v6.5h-6.5zM676 336h6.5v6.5h-6.5zM796 336h18.5v6.5h-18.5zM664 342h12.5v6.5h-12.5zM916 348h6.5v6.5h-6.5zM646 354h6.5v6.5h-6.5zM646 366h6.5v6.5h-6.5zM928 366h6.5v6.5h-6.5zM646 384h6.5v6.5h-6.5zM904 384h6.5v6.5h-6.5zM910 396h6.5v6.5h-6.5zM964 396h6.5v6.5h-6.5zM640 402h6.5v6.5h-6.5zM496 414h6.5v6.5h-6.5zM634 414h6.5v6.5h-6.5zM538 420h6.5v6.5h-6.5zM628 420h6.5v6.5h-6.5zM448 426h6.5v6.5h-6.5zM412 432h12.5v6.5h-12.5zM340 438h6.5v6.5h-6.5zM574 438h6.5v6.5h-6.5zM790 438h6.5v6.5h-6.5zM322 444h6.5v6.5h-6.5zM310 450h6.5v6.5h-6.5zM736 450h6.5v6.5h-6.5zM748 456h6.5v6.5h-6.5zM760 462h6.5v6.5h-6.5zM268 468h6.5v6.5h-6.5zM772 468h6.5v6.5h-6.5zM784 468h6.5v6.5h-6.5zM256 474h6.5v6.5h-6.5zM970 480h6.5v6.5h-6.5zM244 486h6.5v6.5h-6.5zM964 486h6.5v6.5h-6.5zM556 492h6.5v6.5h-6.5zM958 492h6.5v6.5h-6.5zM556 498h6.5v6.5h-6.5zM952 498h6.5v6.5h-6.5zM778 516h6.5v6.5h-6.5zM928 516h6.5v6.5h-6.5zM754 522h6.5v6.5h-6.5zM928 522h6.5v6.5h-6.5zM928 528h6.5v6.5h-6.5zM928 534h6.5v6.5h-6.5zM754 540h6.5v6.5h-6.5zM934 540h6.5v6.5h-6.5zM964 552h12.5v6.5h-12.5zM772 558h12.5v6.5h-12.5zM814 558h6.5v6.5h-6.5z"/><path fill="#60ff9f" d="M358 186h6.5v6.5h-6.5zM358 192h6.5v6.5h-6.5zM664 192h6.5v6.5h-6.5zM316 198h12.5v6.5h-12.5zM358 198h6.5v6.5h-6.5zM412 204h6.5v6.5h-6.5zM418 210h6.5v6.5h-6.5zM454 210h18.5v6.5h-18.5zM448 216h18.5v6.5h-18.5zM472 216h12.5v6.5h-12.5zM460 222h12.5v6.5h-12.5zM682 258h6.5v6.5h-6.5zM676 282h6.5v6.5h-6.5zM838 288h6.5v6.5h-6.5zM862 288h6.5v6.5h-6.5zM874 294h6.5v6.5h-6.5zM880 300h6.5v6.5h-6.5zM898 306h6.5v6.5h-6.5zM922 312h6.5v6.5h-6.5zM940 312h6.5v6.5h-6.5zM826 318h6.5v6.5h-6.5zM910 318h12.5v6.5h-12.5zM670 324h6.5v6.5h-6.5zM922 324h12.5v6.5h-12.5zM670 330h6.5v6.5h-6.5zM664 336h12.5v6.5h-12.5zM658 342h6.5v6.5h-6.5zM652 348h6.5v6.5h-6.5zM916 354h6.5v6.5h-6.5zM928 372h6.5v6.5h-6.5zM904 378h6.5v6.5h-6.5zM958 396h6.5v6.5h-6.5zM922 402h6.5v6.5h-6.5zM946 402h6.5v6.5h-6.5zM478 414h18.5v6.5h-18.5zM460 420h6.5v6.5h-6.5zM436 426h12.5v6.5h-12.5zM610 426h6.5v6.5h-6.5zM748 426h6.5v6.5h-6.5zM778 426h6.5v6.5h-6.5zM358 432h54.5v6.5h-54.5zM592 432h6.5v6.5h-6.5zM334 438h6.5v6.5h-6.5zM544 438h6.5v6.5h-6.5zM568 438h6.5v6.5h-6.5zM736 438h6.5v6.5h-6.5zM316 444h6.5v6.5h-6.5zM736 444h6.5v6.5h-6.5zM304 450h6.5v6.5h-6.5zM292 456h6.5v6.5h-6.5zM280 462h6.5v6.5h-6.5zM766 462h6.5v6.5h-6.5zM790 462h6.5v6.5h-6.5zM778 468h6.5v6.5h-6.5zM544 486h12.5v6.5h-12.5zM940 504h6.5v6.5h-6.5zM754 528h6.5v6.5h-6.5zM808 528h6.5v6.5h-6.5zM754 534h6.5v6.5h-6.5zM814 540h6.5v6.5h-6.5zM760 546h6.5v6.5h-6.5zM946 546h6.5v6.5h-6.5zM766 552h6.5v6.5h-6.5zM784 558h12.5v6.5h-12.5zM280 564h6.5v6.5h-6.5zM304 600h6.5v6.5h-6.5zM304 606h6.5v6.5h-6.5z"/><path fill="#68ff97" d="M328 192h12.5v6.5h-12.5zM310 198h6.5v6.5h-6.5zM406 198h6.5v6.5h-6.5zM664 198h6.5v6.5h-6.5zM316 204h12.5v6.5h-12.5zM352 204h6.5v6.5h-6.5zM472 210h6.5v6.5h-6.5zM430 216h6.5v6.5h-6.5zM442 222h18.5v6.5h-18.5zM472 222h6.5v6.5h-6.5zM682 252h6.5v6.5h-6.5zM844 282h12.5v6.5h-12.5zM868 288h6.5v6.5h-6.5zM832 294h6.5v6.5h-6.5zM886 300h6.5v6.5h-6.5zM826 312h6.5v6.5h-6.5zM970 312h6.5v6.5h-6.5zM940 318h6.5v6.5h-6.5zM970 318h6.5v6.5h-6.5zM934 324h6.5v6.5h-6.5zM664 330h6.5v6.5h-6.5zM814 330h6.5v6.5h-6.5zM922 330h6.5v6.5h-6.5zM658 336h6.5v6.5h-6.5zM652 342h6.5v6.5h-6.5zM646 348h6.5v6.5h-6.5zM916 360h6.5v6.5h-6.5zM916 366h12.5v6.5h-12.5zM646 372h6.5v6.5h-6.5zM910 372h6.5v6.5h-6.5zM646 378h6.5v6.5h-6.5zM970 390h6.5v6.5h-6.5zM640 396h6.5v6.5h-6.5zM928 402h6.5v6.5h-6.5zM514 408h18.5v6.5h-18.5zM538 414h6.5v6.5h-6.5zM454 420h6.5v6.5h-6.5zM622 420h6.5v6.5h-6.5zM424 426h12.5v6.5h-12.5zM346 432h12.5v6.5h-12.5zM742 432h6.5v6.5h-6.5zM784 432h6.5v6.5h-6.5zM328 438h6.5v6.5h-6.5zM790 444h6.5v6.5h-6.5zM298 450h6.5v6.5h-6.5zM742 450h6.5v6.5h-6.5zM790 450h6.5v6.5h-6.5zM286 456h6.5v6.5h-6.5zM754 456h6.5v6.5h-6.5zM790 456h6.5v6.5h-6.5zM274 462h6.5v6.5h-6.5zM262 468h6.5v6.5h-6.5zM970 486h6.5v6.5h-6.5zM544 492h12.5v6.5h-12.5zM964 492h6.5v6.5h-6.5zM544 498h6.5v6.5h-6.5zM958 498h6.5v6.5h-6.5zM238 504h6.5v6.5h-6.5zM544 504h6.5v6.5h-6.5zM544 510h12.5v6.5h-12.5zM934 510h6.5v6.5h-6.5zM784 516h6.5v6.5h-6.5zM796 516h6.5v6.5h-6.5zM250 522h6.5v6.5h-6.5zM760 522h6.5v6.5h-6.5zM934 528h6.5v6.5h-6.5zM934 534h6.5v6.5h-6.5zM940 540h6.5v6.5h-6.5zM268 546h6.5v6.5h-6.5zM814 546h6.5v6.5h-6.5zM952 546h6.5v6.5h-6.5zM814 552h6.5v6.5h-6.5zM796 558h18.5v6.5h-18.5zM298 588h6.5v6.5h-6.5z"/><path fill="#70ff8f" d="M328 198h6.5v6.5h-6.5zM340 198h6.5v6.5h-6.5zM664 204h6.5v6.5h-6.5zM478 210h6.5v6.5h-6.5zM424 216h6.5v6.5h-6.5zM484 216h6.5v6.5h-6.5zM436 222h6.5v6.5h-6.5zM478 222h6.5v6.5h-6.5zM676 222h6.5v6.5h-6.5zM682 234h6.5v6.5h-6.5zM682 246h6.5v6.5h-6.5zM676 276h6.5v6.5h-6.5zM856 282h6.5v6.5h-6.5zM880 294h6.5v6.5h-6.5zM892 300h6.5v6.5h-6.5zM910 312h12.5v6.5h-12.5zM964 312h6.5v6.5h-6.5zM664 324h6.5v6.5h-6.5zM820 324h6.5v6.5h-6.5zM790 330h24.5v6.5h-24.5zM640 354h6.5v6.5h-6.5zM640 360h6.5v6.5h-6.5zM934 366h6.5v6.5h-6.5zM922 372h6.5v6.5h-6.5zM934 372h6.5v6.5h-6.5zM910 390h6.5v6.5h-6.5zM964 390h6.5v6.5h-6.5zM916 396h6.5v6.5h-6.5zM952 396h6.5v6.5h-6.5zM934 402h12.5v6.5h-12.5zM532 408h6.5v6.5h-6.5zM634 408h6.5v6.5h-6.5zM472 414h6.5v6.5h-6.5zM628 414h6.5v6.5h-6.5zM616 420h6.5v6.5h-6.5zM388 426h36.5v6.5h-36.5zM604 426h6.5v6.5h-6.5zM340 432h6.5v6.5h-6.5zM322 438h6.5v6.5h-6.5zM550 438h6.5v6.5h-6.5zM562 438h6.5v6.5h-6.5zM310 444h6.5v6.5h-6.5zM760 456h6.5v6.5h-6.5zM772 462h18.5v6.5h-18.5zM970 492h6.5v6.5h-6.5zM238 498h6.5v6.5h-6.5zM550 498h6.5v6.5h-6.5zM550 504h6.5v6.5h-6.5zM946 504h6.5v6.5h-6.5zM790 516h6.5v6.5h-6.5zM934 516h6.5v6.5h-6.5zM766 522h6.5v6.5h-6.5zM802 522h6.5v6.5h-6.5zM934 522h6.5v6.5h-6.5zM256 528h6.5v6.5h-6.5zM808 534h6.5v6.5h-6.5zM760 540h6.5v6.5h-6.5zM946 540h6.5v6.5h-6.5zM958 546h6.5v6.5h-6.5zM274 558h6.5v6.5h-6.5z"/><path fill="#78ff87" d="M364 186h6.5v6.5h-6.5zM364 192h6.5v6.5h-6.5zM364 198h6.5v6.5h-6.5zM346 204h6.5v6.5h-6.5zM358 204h6.5v6.5h-6.5zM406 204h6.5v6.5h-6.5zM484 222h6.5v6.5h-6.5zM682 240h6.5v6.5h-6.5zM676 270h6.5v6.5h-6.5zM838 282h6.5v6.5h-6.5zM862 282h6.5v6.5h-6.5zM670 288h6.5v6.5h-6.5zM832 288h6.5v6.5h-6.5zM874 288h6.5v6.5h-6.5zM664 306h6.5v6.5h-6.5zM826 306h6.5v6.5h-6.5zM904 306h6.5v6.5h-6.5zM928 306h12.5v6.5h-12.5zM664 312h6.5v6.5h-6.5zM664 318h6.5v6.5h-6.5zM964 318h6.5v6.5h-6.5zM658 330h6.5v6.5h-6.5zM928 330h6.5v6.5h-6.5zM652 336h6.5v6.5h-6.5zM922 336h6.5v6.5h-6.5zM646 342h6.5v6.5h-6.5zM922 360h12.5v6.5h-12.5zM916 372h6.5v6.5h-6.5zM970 384h6.5v6.5h-6.5zM640 390h6.5v6.5h-6.5zM958 390h6.5v6.5h-6.5zM508 408h6.5v6.5h-6.5zM466 414h6.5v6.5h-6.5zM622 414h6.5v6.5h-6.5zM442 420h12.5v6.5h-12.5zM610 420h6.5v6.5h-6.5zM364 426h24.5v6.5h-24.5zM754 426h6.5v6.5h-6.5zM772 426h6.5v6.5h-6.5zM334 432h6.5v6.5h-6.5zM544 432h6.5v6.5h-6.5zM586 432h6.5v6.5h-6.5zM316 438h6.5v6.5h-6.5zM556 438h6.5v6.5h-6.5zM742 438h6.5v6.5h-6.5zM784 438h6.5v6.5h-6.5zM304 444h6.5v6.5h-6.5zM742 444h6.5v6.5h-6.5zM292 450h6.5v6.5h-6.5zM748 450h6.5v6.5h-6.5zM280 456h6.5v6.5h-6.5zM766 456h6.5v6.5h-6.5zM784 456h6.5v6.5h-6.5zM268 462h6.5v6.5h-6.5zM250 474h6.5v6.5h-6.5zM244 480h6.5v6.5h-6.5zM238 510h6.5v6.5h-6.5zM760 528h6.5v6.5h-6.5zM760 534h6.5v6.5h-6.5zM940 534h6.5v6.5h-6.5zM964 546h12.5v6.5h-12.5zM772 552h6.5v6.5h-6.5zM808 552h6.5v6.5h-6.5zM298 612h6.5v6.5h-6.5z"/><path fill="#80ff80" d="M658 180h6.5v6.5h-6.5zM370 186h6.5v6.5h-6.5zM370 192h6.5v6.5h-6.5zM334 198h6.5v6.5h-6.5zM400 198h6.5v6.5h-6.5zM328 204h6.5v6.5h-6.5zM472 204h6.5v6.5h-6.5zM412 210h6.5v6.5h-6.5zM484 210h6.5v6.5h-6.5zM670 216h6.5v6.5h-6.5zM454 228h18.5v6.5h-18.5zM676 264h6.5v6.5h-6.5zM844 276h12.5v6.5h-12.5zM886 294h6.5v6.5h-6.5zM826 300h6.5v6.5h-6.5zM922 306h6.5v6.5h-6.5zM970 306h6.5v6.5h-6.5zM820 318h6.5v6.5h-6.5zM946 318h6.5v6.5h-6.5zM796 324h6.5v6.5h-6.5zM814 324h6.5v6.5h-6.5zM940 324h6.5v6.5h-6.5zM922 342h6.5v6.5h-6.5zM640 348h6.5v6.5h-6.5zM640 366h6.5v6.5h-6.5zM910 378h6.5v6.5h-6.5zM928 378h12.5v6.5h-12.5zM970 378h6.5v6.5h-6.5zM910 384h6.5v6.5h-6.5zM964 384h6.5v6.5h-6.5zM922 396h6.5v6.5h-6.5zM946 396h6.5v6.5h-6.5zM634 402h6.5v6.5h-6.5zM502 408h6.5v6.5h-6.5zM628 408h6.5v6.5h-6.5zM616 414h6.5v6.5h-6.5zM424 420h18.5v6.5h-18.5zM352 426h12.5v6.5h-12.5zM598 426h6.5v6.5h-6.5zM760 426h12.5v6.5h-12.5zM328 432h6.5v6.5h-6.5zM748 432h6.5v6.5h-6.5zM778 432h6.5v6.5h-6.5zM784 444h6.5v6.5h-6.5zM784 450h6.5v6.5h-6.5zM274 456h6.5v6.5h-6.5zM772 456h12.5v6.5h-12.5zM256 468h6.5v6.5h-6.5zM238 492h6.5v6.5h-6.5zM964 498h6.5v6.5h-6.5zM952 504h6.5v6.5h-6.5zM940 510h6.5v6.5h-6.5zM772 522h6.5v6.5h-6.5zM802 528h6.5v6.5h-6.5zM940 528h6.5v6.5h-6.5zM808 540h6.5v6.5h-6.5zM952 540h6.5v6.5h-6.5zM766 546h6.5v6.5h-6.5zM808 546h6.5v6.5h-6.5zM778 552h30.5v6.5h-30.5z"/><path fill="#87ff78" d="M376 192h6.5v6.5h-6.5zM370 198h6.5v6.5h-6.5zM310 204h6.5v6.5h-6.5zM400 204h6.5v6.5h-6.5zM478 204h6.5v6.5h-6.5zM322 210h6.5v6.5h-6.5zM418 216h6.5v6.5h-6.5zM430 222h6.5v6.5h-6.5zM448 228h6.5v6.5h-6.5zM472 228h6.5v6.5h-6.5zM676 258h6.5v6.5h-6.5zM856 276h6.5v6.5h-6.5zM670 282h6.5v6.5h-6.5zM868 282h6.5v6.5h-6.5zM664 300h6.5v6.5h-6.5zM898 300h6.5v6.5h-6.5zM940 306h6.5v6.5h-6.5zM946 312h6.5v6.5h-6.5zM958 312h6.5v6.5h-6.5zM958 318h6.5v6.5h-6.5zM658 324h6.5v6.5h-6.5zM802 324h12.5v6.5h-12.5zM970 324h6.5v6.5h-6.5zM652 330h6.5v6.5h-6.5zM934 330h6.5v6.5h-6.5zM922 348h6.5v6.5h-6.5zM922 354h6.5v6.5h-6.5zM934 360h6.5v6.5h-6.5zM922 378h6.5v6.5h-6.5zM964 378h6.5v6.5h-6.5zM640 384h6.5v6.5h-6.5zM958 384h6.5v6.5h-6.5zM916 390h6.5v6.5h-6.5zM952 390h6.5v6.5h-6.5zM928 396h18.5v6.5h-18.5zM496 408h6.5v6.5h-6.5zM460 414h6.5v6.5h-6.5zM610 414h6.5v6.5h-6.5zM382 420h42.5v6.5h-42.5zM340 426h12.5v6.5h-12.5zM544 426h6.5v6.5h-6.5zM322 432h6.5v6.5h-6.5zM580 432h6.5v6.5h-6.5zM310 438h6.5v6.5h-6.5zM298 444h6.5v6.5h-6.5zM286 450h6.5v6.5h-6.5zM754 450h6.5v6.5h-6.5zM262 462h6.5v6.5h-6.5zM970 498h6.5v6.5h-6.5zM778 522h6.5v6.5h-6.5zM796 522h6.5v6.5h-6.5zM766 528h6.5v6.5h-6.5zM802 534h6.5v6.5h-6.5zM946 534h6.5v6.5h-6.5zM262 540h6.5v6.5h-6.5zM802 546h6.5v6.5h-6.5zM292 582h6.5v6.5h-6.5z"/><path fill="#8fff70" d="M376 198h6.5v6.5h-6.5zM340 204h6.5v6.5h-6.5zM364 204h6.5v6.5h-6.5zM484 204h6.5v6.5h-6.5zM316 210h6.5v6.5h-6.5zM406 210h6.5v6.5h-6.5zM664 210h6.5v6.5h-6.5zM490 216h6.5v6.5h-6.5zM490 222h6.5v6.5h-6.5zM442 228h6.5v6.5h-6.5zM478 228h6.5v6.5h-6.5zM850 270h6.5v6.5h-6.5zM838 276h6.5v6.5h-6.5zM862 276h6.5v6.5h-6.5zM832 282h6.5v6.5h-6.5zM880 288h6.5v6.5h-6.5zM826 294h6.5v6.5h-6.5zM892 294h6.5v6.5h-6.5zM910 306h12.5v6.5h-12.5zM964 306h6.5v6.5h-6.5zM820 312h6.5v6.5h-6.5zM952 318h6.5v6.5h-6.5zM382 336h6.5v6.5h-6.5zM646 336h6.5v6.5h-6.5zM928 336h6.5v6.5h-6.5zM382 342h6.5v6.5h-6.5zM640 342h6.5v6.5h-6.5zM940 342h6.5v6.5h-6.5zM940 348h6.5v6.5h-6.5zM634 354h6.5v6.5h-6.5zM940 372h6.5v6.5h-6.5zM970 372h6.5v6.5h-6.5zM916 378h6.5v6.5h-6.5zM940 378h6.5v6.5h-6.5zM958 378h6.5v6.5h-6.5zM604 384h6.5v6.5h-6.5zM952 384h6.5v6.5h-6.5zM604 390h12.5v6.5h-12.5zM946 390h6.5v6.5h-6.5zM610 396h6.5v6.5h-6.5zM634 396h6.5v6.5h-6.5zM610 402h6.5v6.5h-6.5zM478 408h18.5v6.5h-18.5zM538 408h6.5v6.5h-6.5zM610 408h18.5v6.5h-18.5zM454 414h6.5v6.5h-6.5zM370 420h12.5v6.5h-12.5zM544 420h6.5v6.5h-6.5zM604 420h6.5v6.5h-6.5zM334 426h6.5v6.5h-6.5zM316 432h6.5v6.5h-6.5zM304 438h6.5v6.5h-6.5zM292 444h6.5v6.5h-6.5zM748 444h6.5v6.5h-6.5zM280 450h6.5v6.5h-6.5zM760 450h6.5v6.5h-6.5zM778 450h6.5v6.5h-6.5zM268 456h6.5v6.5h-6.5zM958 504h6.5v6.5h-6.5zM940 516h6.5v6.5h-6.5zM784 522h12.5v6.5h-12.5zM940 522h6.5v6.5h-6.5zM766 540h6.5v6.5h-6.5zM802 540h6.5v6.5h-6.5zM958 540h6.5v6.5h-6.5zM772 546h6.5v6.5h-6.5zM790 546h12.5v6.5h-12.5zM268 552h6.5v6.5h-6.5zM286 576h6.5v6.5h-6.5z"/><path fill="#97ff68" d="M382 198h6.5v6.5h-6.5zM394 198h6.5v6.5h-6.5zM478 198h6.5v6.5h-6.5zM334 204h6.5v6.5h-6.5zM328 210h6.5v6.5h-6.5zM400 210h6.5v6.5h-6.5zM676 228h6.5v6.5h-6.5zM676 252h6.5v6.5h-6.5zM844 270h6.5v6.5h-6.5zM856 270h6.5v6.5h-6.5zM670 276h6.5v6.5h-6.5zM490 282h6.5v6.5h-6.5zM874 282h6.5v6.5h-6.5zM490 288h18.5v6.5h-18.5zM826 288h6.5v6.5h-6.5zM496 294h12.5v6.5h-12.5zM502 300h12.5v6.5h-12.5zM508 306h6.5v6.5h-6.5zM952 312h6.5v6.5h-6.5zM658 318h6.5v6.5h-6.5zM964 324h6.5v6.5h-6.5zM940 330h6.5v6.5h-6.5zM388 336h6.5v6.5h-6.5zM934 336h6.5v6.5h-6.5zM388 342h6.5v6.5h-6.5zM928 342h12.5v6.5h-12.5zM382 348h6.5v6.5h-6.5zM634 348h6.5v6.5h-6.5zM934 348h6.5v6.5h-6.5zM928 354h12.5v6.5h-12.5zM634 360h6.5v6.5h-6.5zM940 366h6.5v6.5h-6.5zM640 372h6.5v6.5h-6.5zM964 372h6.5v6.5h-6.5zM604 378h12.5v6.5h-12.5zM640 378h6.5v6.5h-6.5zM946 378h12.5v6.5h-12.5zM610 384h6.5v6.5h-6.5zM916 384h6.5v6.5h-6.5zM928 384h24.5v6.5h-24.5zM922 390h6.5v6.5h-6.5zM934 390h12.5v6.5h-12.5zM604 396h6.5v6.5h-6.5zM616 396h6.5v6.5h-6.5zM520 402h6.5v6.5h-6.5zM604 402h6.5v6.5h-6.5zM616 402h6.5v6.5h-6.5zM628 402h6.5v6.5h-6.5zM472 408h6.5v6.5h-6.5zM604 408h6.5v6.5h-6.5zM442 414h12.5v6.5h-12.5zM604 414h6.5v6.5h-6.5zM352 420h18.5v6.5h-18.5zM328 426h6.5v6.5h-6.5zM592 426h6.5v6.5h-6.5zM550 432h6.5v6.5h-6.5zM574 432h6.5v6.5h-6.5zM772 432h6.5v6.5h-6.5zM748 438h6.5v6.5h-6.5zM778 438h6.5v6.5h-6.5zM778 444h6.5v6.5h-6.5zM766 450h12.5v6.5h-12.5zM250 468h6.5v6.5h-6.5zM244 474h6.5v6.5h-6.5zM238 486h6.5v6.5h-6.5zM946 510h6.5v6.5h-6.5zM796 528h6.5v6.5h-6.5zM766 534h6.5v6.5h-6.5zM796 540h6.5v6.5h-6.5zM964 540h12.5v6.5h-12.5zM784 546h6.5v6.5h-6.5zM280 570h6.5v6.5h-6.5zM298 594h6.5v6.5h-6.5zM298 606h6.5v6.5h-6.5z"/><path fill="#9fff60" d="M658 186h6.5v6.5h-6.5zM388 198h6.5v6.5h-6.5zM484 198h6.5v6.5h-6.5zM370 204h12.5v6.5h-12.5zM394 204h6.5v6.5h-6.5zM352 210h6.5v6.5h-6.5zM394 210h6.5v6.5h-6.5zM490 210h6.5v6.5h-6.5zM412 216h6.5v6.5h-6.5zM424 222h6.5v6.5h-6.5zM436 228h6.5v6.5h-6.5zM484 228h6.5v6.5h-6.5zM676 246h6.5v6.5h-6.5zM850 264h6.5v6.5h-6.5zM862 270h6.5v6.5h-6.5zM868 276h6.5v6.5h-6.5zM496 282h6.5v6.5h-6.5zM508 288h6.5v6.5h-6.5zM886 288h6.5v6.5h-6.5zM490 294h6.5v6.5h-6.5zM508 294h6.5v6.5h-6.5zM664 294h6.5v6.5h-6.5zM496 300h6.5v6.5h-6.5zM904 300h6.5v6.5h-6.5zM502 306h6.5v6.5h-6.5zM514 306h6.5v6.5h-6.5zM508 312h6.5v6.5h-6.5zM814 318h6.5v6.5h-6.5zM946 324h6.5v6.5h-6.5zM382 330h12.5v6.5h-12.5zM970 330h6.5v6.5h-6.5zM940 336h6.5v6.5h-6.5zM376 342h6.5v6.5h-6.5zM634 342h6.5v6.5h-6.5zM946 342h6.5v6.5h-6.5zM376 348h6.5v6.5h-6.5zM388 348h6.5v6.5h-6.5zM928 348h6.5v6.5h-6.5zM946 348h6.5v6.5h-6.5zM382 354h6.5v6.5h-6.5zM970 366h6.5v6.5h-6.5zM604 372h12.5v6.5h-12.5zM958 372h6.5v6.5h-6.5zM598 378h6.5v6.5h-6.5zM598 384h6.5v6.5h-6.5zM922 384h6.5v6.5h-6.5zM598 390h6.5v6.5h-6.5zM616 390h6.5v6.5h-6.5zM634 390h6.5v6.5h-6.5zM928 390h6.5v6.5h-6.5zM514 402h6.5v6.5h-6.5zM526 402h6.5v6.5h-6.5zM622 402h6.5v6.5h-6.5zM466 408h6.5v6.5h-6.5zM382 414h18.5v6.5h-18.5zM412 414h30.5v6.5h-30.5zM544 414h6.5v6.5h-6.5zM340 420h12.5v6.5h-12.5zM598 420h6.5v6.5h-6.5zM322 426h6.5v6.5h-6.5zM310 432h6.5v6.5h-6.5zM568 432h6.5v6.5h-6.5zM754 432h6.5v6.5h-6.5zM298 438h6.5v6.5h-6.5zM286 444h6.5v6.5h-6.5zM274 450h6.5v6.5h-6.5zM262 456h6.5v6.5h-6.5zM256 462h6.5v6.5h-6.5zM964 504h6.5v6.5h-6.5zM772 528h6.5v6.5h-6.5zM946 528h6.5v6.5h-6.5zM796 534h6.5v6.5h-6.5zM952 534h6.5v6.5h-6.5zM790 540h6.5v6.5h-6.5zM778 546h6.5v6.5h-6.5zM298 600h6.5v6.5h-6.5z"/><path fill="#a7ff58" d="M490 204h6.5v6.5h-6.5zM346 210h6.5v6.5h-6.5zM844 264h6.5v6.5h-6.5zM856 264h6.5v6.5h-6.5zM670 270h6.5v6.5h-6.5zM838 270h6.5v6.5h-6.5zM832 276h6.5v6.5h-6.5zM874 276h6.5v6.5h-6.5zM484 282h6.5v6.5h-6.5zM502 282h6.5v6.5h-6.5zM880 282h6.5v6.5h-6.5zM484 288h6.5v6.5h-6.5zM514 294h6.5v6.5h-6.5zM898 294h6.5v6.5h-6.5zM514 300h6.5v6.5h-6.5zM928 300h12.5v6.5h-12.5zM970 300h6.5v6.5h-6.5zM496 306h6.5v6.5h-6.5zM820 306h6.5v6.5h-6.5zM946 306h6.5v6.5h-6.5zM502 312h6.5v6.5h-6.5zM514 312h6.5v6.5h-6.5zM658 312h6.5v6.5h-6.5zM508 318h6.5v6.5h-6.5zM796 318h18.5v6.5h-18.5zM382 324h12.5v6.5h-12.5zM652 324h6.5v6.5h-6.5zM952 324h12.5v6.5h-12.5zM646 330h6.5v6.5h-6.5zM376 336h6.5v6.5h-6.5zM394 336h6.5v6.5h-6.5zM640 336h6.5v6.5h-6.5zM628 348h6.5v6.5h-6.5zM376 354h6.5v6.5h-6.5zM388 354h6.5v6.5h-6.5zM628 354h6.5v6.5h-6.5zM940 354h6.5v6.5h-6.5zM940 360h6.5v6.5h-6.5zM970 360h6.5v6.5h-6.5zM604 366h12.5v6.5h-12.5zM634 366h6.5v6.5h-6.5zM964 366h6.5v6.5h-6.5zM598 372h6.5v6.5h-6.5zM946 372h12.5v6.5h-12.5zM616 378h6.5v6.5h-6.5zM616 384h6.5v6.5h-6.5zM598 396h6.5v6.5h-6.5zM622 396h12.5v6.5h-12.5zM508 402h6.5v6.5h-6.5zM532 402h6.5v6.5h-6.5zM460 408h6.5v6.5h-6.5zM364 414h18.5v6.5h-18.5zM400 414h12.5v6.5h-12.5zM334 420h6.5v6.5h-6.5zM316 426h6.5v6.5h-6.5zM304 432h6.5v6.5h-6.5zM556 432h12.5v6.5h-12.5zM760 432h12.5v6.5h-12.5zM292 438h6.5v6.5h-6.5zM280 444h6.5v6.5h-6.5zM754 444h6.5v6.5h-6.5zM772 444h6.5v6.5h-6.5zM970 504h6.5v6.5h-6.5zM238 516h6.5v6.5h-6.5zM244 522h6.5v6.5h-6.5zM778 528h6.5v6.5h-6.5zM790 528h6.5v6.5h-6.5zM772 534h6.5v6.5h-6.5zM790 534h6.5v6.5h-6.5zM772 540h6.5v6.5h-6.5z"/><path fill="#afff50" d="M490 198h6.5v6.5h-6.5zM304 204h6.5v6.5h-6.5zM382 204h12.5v6.5h-12.5zM310 210h6.5v6.5h-6.5zM334 210h6.5v6.5h-6.5zM358 210h6.5v6.5h-6.5zM400 216h12.5v6.5h-12.5zM670 222h6.5v6.5h-6.5zM490 228h6.5v6.5h-6.5zM676 234h6.5v6.5h-6.5zM676 240h6.5v6.5h-6.5zM862 264h6.5v6.5h-6.5zM868 270h6.5v6.5h-6.5zM490 276h12.5v6.5h-12.5zM880 276h6.5v6.5h-6.5zM508 282h6.5v6.5h-6.5zM826 282h6.5v6.5h-6.5zM514 288h6.5v6.5h-6.5zM664 288h6.5v6.5h-6.5zM892 288h6.5v6.5h-6.5zM484 294h6.5v6.5h-6.5zM490 300h6.5v6.5h-6.5zM910 300h6.5v6.5h-6.5zM922 300h6.5v6.5h-6.5zM958 306h6.5v6.5h-6.5zM496 312h6.5v6.5h-6.5zM502 318h6.5v6.5h-6.5zM514 318h6.5v6.5h-6.5zM376 330h6.5v6.5h-6.5zM394 330h6.5v6.5h-6.5zM946 330h6.5v6.5h-6.5zM964 330h6.5v6.5h-6.5zM610 336h6.5v6.5h-6.5zM946 336h6.5v6.5h-6.5zM394 342h6.5v6.5h-6.5zM610 342h24.5v6.5h-24.5zM610 348h18.5v6.5h-18.5zM952 348h6.5v6.5h-6.5zM610 354h18.5v6.5h-18.5zM946 354h6.5v6.5h-6.5zM970 354h6.5v6.5h-6.5zM376 360h12.5v6.5h-12.5zM610 360h12.5v6.5h-12.5zM964 360h6.5v6.5h-6.5zM598 366h6.5v6.5h-6.5zM616 366h6.5v6.5h-6.5zM592 372h6.5v6.5h-6.5zM616 372h6.5v6.5h-6.5zM592 378h6.5v6.5h-6.5zM592 384h6.5v6.5h-6.5zM634 384h6.5v6.5h-6.5zM622 390h6.5v6.5h-6.5zM502 402h6.5v6.5h-6.5zM598 402h6.5v6.5h-6.5zM454 408h6.5v6.5h-6.5zM598 408h6.5v6.5h-6.5zM352 414h12.5v6.5h-12.5zM598 414h6.5v6.5h-6.5zM328 420h6.5v6.5h-6.5zM586 426h6.5v6.5h-6.5zM754 438h6.5v6.5h-6.5zM772 438h6.5v6.5h-6.5zM760 444h12.5v6.5h-12.5zM268 450h6.5v6.5h-6.5zM238 480h6.5v6.5h-6.5zM952 510h6.5v6.5h-6.5zM946 516h6.5v6.5h-6.5zM946 522h6.5v6.5h-6.5zM784 528h6.5v6.5h-6.5zM256 534h6.5v6.5h-6.5zM958 534h6.5v6.5h-6.5zM778 540h12.5v6.5h-12.5zM274 564h6.5v6.5h-6.5z"/><path fill="#b7ff48" d="M484 192h6.5v6.5h-6.5zM658 204h6.5v6.5h-6.5zM340 210h6.5v6.5h-6.5zM388 210h6.5v6.5h-6.5zM394 216h6.5v6.5h-6.5zM430 228h6.5v6.5h-6.5zM460 234h6.5v6.5h-6.5zM850 258h12.5v6.5h-12.5zM670 264h6.5v6.5h-6.5zM874 270h6.5v6.5h-6.5zM484 276h6.5v6.5h-6.5zM502 276h6.5v6.5h-6.5zM478 282h6.5v6.5h-6.5zM514 282h6.5v6.5h-6.5zM886 282h6.5v6.5h-6.5zM478 288h6.5v6.5h-6.5zM520 300h6.5v6.5h-6.5zM820 300h6.5v6.5h-6.5zM916 300h6.5v6.5h-6.5zM940 300h6.5v6.5h-6.5zM490 306h6.5v6.5h-6.5zM520 306h6.5v6.5h-6.5zM658 306h6.5v6.5h-6.5zM520 312h6.5v6.5h-6.5zM814 312h6.5v6.5h-6.5zM214 318h12.5v6.5h-12.5zM382 318h12.5v6.5h-12.5zM376 324h6.5v6.5h-6.5zM394 324h6.5v6.5h-6.5zM598 336h12.5v6.5h-12.5zM616 336h12.5v6.5h-12.5zM634 336h6.5v6.5h-6.5zM970 336h6.5v6.5h-6.5zM598 342h12.5v6.5h-12.5zM952 342h6.5v6.5h-6.5zM970 342h6.5v6.5h-6.5zM394 348h6.5v6.5h-6.5zM604 348h6.5v6.5h-6.5zM958 348h6.5v6.5h-6.5zM970 348h6.5v6.5h-6.5zM604 354h6.5v6.5h-6.5zM952 354h18.5v6.5h-18.5zM388 360h6.5v6.5h-6.5zM598 360h12.5v6.5h-12.5zM622 360h12.5v6.5h-12.5zM382 366h6.5v6.5h-6.5zM592 366h6.5v6.5h-6.5zM946 366h6.5v6.5h-6.5zM958 366h6.5v6.5h-6.5zM634 372h6.5v6.5h-6.5zM622 384h6.5v6.5h-6.5zM592 390h6.5v6.5h-6.5zM628 390h6.5v6.5h-6.5zM484 402h6.5v6.5h-6.5zM496 402h6.5v6.5h-6.5zM538 402h6.5v6.5h-6.5zM364 408h36.5v6.5h-36.5zM436 408h18.5v6.5h-18.5zM544 408h6.5v6.5h-6.5zM340 414h12.5v6.5h-12.5zM322 420h6.5v6.5h-6.5zM592 420h6.5v6.5h-6.5zM310 426h6.5v6.5h-6.5zM550 426h6.5v6.5h-6.5zM298 432h6.5v6.5h-6.5zM286 438h6.5v6.5h-6.5zM760 438h12.5v6.5h-12.5zM274 444h6.5v6.5h-6.5zM262 450h6.5v6.5h-6.5zM256 456h6.5v6.5h-6.5zM250 462h6.5v6.5h-6.5zM244 468h6.5v6.5h-6.5zM958 510h6.5v6.5h-6.5zM952 528h6.5v6.5h-6.5zM778 534h12.5v6.5h-12.5zM964 534h12.5v6.5h-12.5zM292 588h6.5v6.5h-6.5z"/><path fill="#bfff40" d="M658 192h6.5v6.5h-6.5zM658 198h6.5v6.5h-6.5zM496 216h6.5v6.5h-6.5zM664 216h6.5v6.5h-6.5zM418 222h6.5v6.5h-6.5zM496 222h6.5v6.5h-6.5zM454 234h6.5v6.5h-6.5zM466 234h6.5v6.5h-6.5zM670 258h6.5v6.5h-6.5zM844 258h6.5v6.5h-6.5zM838 264h6.5v6.5h-6.5zM868 264h6.5v6.5h-6.5zM832 270h6.5v6.5h-6.5zM880 270h6.5v6.5h-6.5zM508 276h6.5v6.5h-6.5zM664 282h6.5v6.5h-6.5zM898 288h6.5v6.5h-6.5zM520 294h6.5v6.5h-6.5zM820 294h6.5v6.5h-6.5zM904 294h6.5v6.5h-6.5zM484 300h6.5v6.5h-6.5zM964 300h6.5v6.5h-6.5zM952 306h6.5v6.5h-6.5zM214 312h12.5v6.5h-12.5zM226 318h6.5v6.5h-6.5zM376 318h6.5v6.5h-6.5zM394 318h6.5v6.5h-6.5zM496 318h6.5v6.5h-6.5zM520 318h6.5v6.5h-6.5zM652 318h6.5v6.5h-6.5zM214 324h18.5v6.5h-18.5zM502 324h18.5v6.5h-18.5zM400 330h6.5v6.5h-6.5zM598 330h24.5v6.5h-24.5zM952 330h12.5v6.5h-12.5zM400 336h6.5v6.5h-6.5zM592 336h6.5v6.5h-6.5zM628 336h6.5v6.5h-6.5zM952 336h6.5v6.5h-6.5zM964 336h6.5v6.5h-6.5zM586 342h12.5v6.5h-12.5zM958 342h12.5v6.5h-12.5zM592 348h12.5v6.5h-12.5zM964 348h6.5v6.5h-6.5zM394 354h6.5v6.5h-6.5zM592 354h12.5v6.5h-12.5zM586 360h12.5v6.5h-12.5zM946 360h6.5v6.5h-6.5zM958 360h6.5v6.5h-6.5zM376 366h6.5v6.5h-6.5zM586 366h6.5v6.5h-6.5zM622 366h12.5v6.5h-12.5zM952 366h6.5v6.5h-6.5zM586 372h6.5v6.5h-6.5zM622 372h6.5v6.5h-6.5zM586 378h6.5v6.5h-6.5zM622 378h6.5v6.5h-6.5zM634 378h6.5v6.5h-6.5zM628 384h6.5v6.5h-6.5zM472 402h12.5v6.5h-12.5zM490 402h6.5v6.5h-6.5zM352 408h12.5v6.5h-12.5zM400 408h36.5v6.5h-36.5zM328 414h12.5v6.5h-12.5zM316 420h6.5v6.5h-6.5zM550 420h6.5v6.5h-6.5zM304 426h6.5v6.5h-6.5zM580 426h6.5v6.5h-6.5zM292 432h6.5v6.5h-6.5zM280 438h6.5v6.5h-6.5zM268 444h6.5v6.5h-6.5zM232 504h6.5v6.5h-6.5zM964 510h6.5v6.5h-6.5zM262 546h6.5v6.5h-6.5zM268 558h6.5v6.5h-6.5zM292 612h6.5v6.5h-6.5z"/><path fill="#c7ff38" d="M760 114h6.5v6.5h-6.5zM754 120h12.5v6.5h-12.5zM652 180h6.5v6.5h-6.5zM364 210h6.5v6.5h-6.5zM382 210h6.5v6.5h-6.5zM496 210h6.5v6.5h-6.5zM448 234h6.5v6.5h-6.5zM472 234h6.5v6.5h-6.5zM670 252h6.5v6.5h-6.5zM850 252h12.5v6.5h-12.5zM862 258h6.5v6.5h-6.5zM874 264h12.5v6.5h-12.5zM490 270h12.5v6.5h-12.5zM478 276h6.5v6.5h-6.5zM664 276h6.5v6.5h-6.5zM826 276h6.5v6.5h-6.5zM886 276h6.5v6.5h-6.5zM892 282h6.5v6.5h-6.5zM520 288h6.5v6.5h-6.5zM820 288h6.5v6.5h-6.5zM904 288h6.5v6.5h-6.5zM478 294h6.5v6.5h-6.5zM910 294h6.5v6.5h-6.5zM970 294h6.5v6.5h-6.5zM484 306h6.5v6.5h-6.5zM226 312h6.5v6.5h-6.5zM376 312h18.5v6.5h-18.5zM490 312h6.5v6.5h-6.5zM232 318h6.5v6.5h-6.5zM400 324h6.5v6.5h-6.5zM520 324h6.5v6.5h-6.5zM220 330h6.5v6.5h-6.5zM370 330h6.5v6.5h-6.5zM586 330h12.5v6.5h-12.5zM622 330h6.5v6.5h-6.5zM640 330h6.5v6.5h-6.5zM370 336h6.5v6.5h-6.5zM580 336h12.5v6.5h-12.5zM958 336h6.5v6.5h-6.5zM370 342h6.5v6.5h-6.5zM400 342h6.5v6.5h-6.5zM580 342h6.5v6.5h-6.5zM370 348h6.5v6.5h-6.5zM580 348h12.5v6.5h-12.5zM370 354h6.5v6.5h-6.5zM580 354h12.5v6.5h-12.5zM580 360h6.5v6.5h-6.5zM952 360h6.5v6.5h-6.5zM388 366h6.5v6.5h-6.5zM580 366h6.5v6.5h-6.5zM376 372h12.5v6.5h-12.5zM580 372h6.5v6.5h-6.5zM628 372h6.5v6.5h-6.5zM628 378h6.5v6.5h-6.5zM586 384h6.5v6.5h-6.5zM514 396h18.5v6.5h-18.5zM592 396h6.5v6.5h-6.5zM352 402h42.5v6.5h-42.5zM466 402h6.5v6.5h-6.5zM340 408h12.5v6.5h-12.5zM322 414h6.5v6.5h-6.5zM310 420h6.5v6.5h-6.5zM298 426h6.5v6.5h-6.5zM286 432h6.5v6.5h-6.5zM274 438h6.5v6.5h-6.5zM256 450h6.5v6.5h-6.5zM250 456h6.5v6.5h-6.5zM238 474h6.5v6.5h-6.5zM232 498h6.5v6.5h-6.5zM970 510h6.5v6.5h-6.5zM952 516h6.5v6.5h-6.5zM250 528h6.5v6.5h-6.5zM286 582h6.5v6.5h-6.5z"/><path fill="#cfff30" d="M766 114h6.5v6.5h-6.5zM766 120h6.5v6.5h-6.5zM754 126h18.5v6.5h-18.5zM490 192h6.5v6.5h-6.5zM496 204h6.5v6.5h-6.5zM304 210h6.5v6.5h-6.5zM370 210h12.5v6.5h-12.5zM658 210h6.5v6.5h-6.5zM322 216h6.5v6.5h-6.5zM496 228h6.5v6.5h-6.5zM442 234h6.5v6.5h-6.5zM478 234h6.5v6.5h-6.5zM850 246h6.5v6.5h-6.5zM844 252h6.5v6.5h-6.5zM838 258h6.5v6.5h-6.5zM868 258h6.5v6.5h-6.5zM484 270h6.5v6.5h-6.5zM502 270h6.5v6.5h-6.5zM886 270h6.5v6.5h-6.5zM514 276h6.5v6.5h-6.5zM520 282h6.5v6.5h-6.5zM898 282h18.5v6.5h-18.5zM472 288h6.5v6.5h-6.5zM910 288h6.5v6.5h-6.5zM916 294h24.5v6.5h-24.5zM478 300h6.5v6.5h-6.5zM658 300h6.5v6.5h-6.5zM214 306h12.5v6.5h-12.5zM526 306h6.5v6.5h-6.5zM814 306h6.5v6.5h-6.5zM232 312h6.5v6.5h-6.5zM526 312h6.5v6.5h-6.5zM652 312h6.5v6.5h-6.5zM808 312h6.5v6.5h-6.5zM370 318h6.5v6.5h-6.5zM490 318h6.5v6.5h-6.5zM526 318h6.5v6.5h-6.5zM232 324h6.5v6.5h-6.5zM370 324h6.5v6.5h-6.5zM496 324h6.5v6.5h-6.5zM598 324h18.5v6.5h-18.5zM646 324h6.5v6.5h-6.5zM226 330h6.5v6.5h-6.5zM508 330h6.5v6.5h-6.5zM580 330h6.5v6.5h-6.5zM574 336h6.5v6.5h-6.5zM574 342h6.5v6.5h-6.5zM400 348h6.5v6.5h-6.5zM574 348h6.5v6.5h-6.5zM574 354h6.5v6.5h-6.5zM370 360h6.5v6.5h-6.5zM394 360h6.5v6.5h-6.5zM574 360h6.5v6.5h-6.5zM370 366h6.5v6.5h-6.5zM574 366h6.5v6.5h-6.5zM370 372h6.5v6.5h-6.5zM388 372h6.5v6.5h-6.5zM376 378h12.5v6.5h-12.5zM580 378h6.5v6.5h-6.5zM370 384h12.5v6.5h-12.5zM364 390h18.5v6.5h-18.5zM358 396h30.5v6.5h-30.5zM508 396h6.5v6.5h-6.5zM532 396h6.5v6.5h-6.5zM346 402h6.5v6.5h-6.5zM394 402h12.5v6.5h-12.5zM454 402h12.5v6.5h-12.5zM592 402h6.5v6.5h-6.5zM328 408h12.5v6.5h-12.5zM592 408h6.5v6.5h-6.5zM316 414h6.5v6.5h-6.5zM550 414h6.5v6.5h-6.5zM592 414h6.5v6.5h-6.5zM304 420h6.5v6.5h-6.5zM292 426h6.5v6.5h-6.5zM556 426h6.5v6.5h-6.5zM568 426h12.5v6.5h-12.5zM268 438h6.5v6.5h-6.5zM262 444h6.5v6.5h-6.5zM244 462h6.5v6.5h-6.5zM232 492h6.5v6.5h-6.5zM232 510h6.5v6.5h-6.5zM952 522h6.5v6.5h-6.5zM958 528h6.5v6.5h-6.5zM280 576h6.5v6.5h-6.5z"/><path fill="#d7ff28" d="M766 108h6.5v6.5h-6.5zM772 120h6.5v6.5h-6.5zM316 216h6.5v6.5h-6.5zM328 216h6.5v6.5h-6.5zM388 216h6.5v6.5h-6.5zM412 222h6.5v6.5h-6.5zM424 228h6.5v6.5h-6.5zM670 228h6.5v6.5h-6.5zM484 234h6.5v6.5h-6.5zM670 246h6.5v6.5h-6.5zM844 246h6.5v6.5h-6.5zM856 246h6.5v6.5h-6.5zM862 252h6.5v6.5h-6.5zM874 258h6.5v6.5h-6.5zM832 264h6.5v6.5h-6.5zM886 264h6.5v6.5h-6.5zM508 270h6.5v6.5h-6.5zM664 270h6.5v6.5h-6.5zM520 276h6.5v6.5h-6.5zM892 276h6.5v6.5h-6.5zM910 276h6.5v6.5h-6.5zM472 282h6.5v6.5h-6.5zM820 282h6.5v6.5h-6.5zM916 282h6.5v6.5h-6.5zM916 288h6.5v6.5h-6.5zM472 294h6.5v6.5h-6.5zM526 294h6.5v6.5h-6.5zM940 294h6.5v6.5h-6.5zM526 300h6.5v6.5h-6.5zM946 300h6.5v6.5h-6.5zM226 306h6.5v6.5h-6.5zM376 306h18.5v6.5h-18.5zM478 306h6.5v6.5h-6.5zM394 312h6.5v6.5h-6.5zM484 312h6.5v6.5h-6.5zM802 312h6.5v6.5h-6.5zM400 318h6.5v6.5h-6.5zM406 324h6.5v6.5h-6.5zM580 324h18.5v6.5h-18.5zM616 324h6.5v6.5h-6.5zM406 330h6.5v6.5h-6.5zM502 330h6.5v6.5h-6.5zM514 330h6.5v6.5h-6.5zM574 330h6.5v6.5h-6.5zM628 330h12.5v6.5h-12.5zM406 336h6.5v6.5h-6.5zM568 336h6.5v6.5h-6.5zM406 342h6.5v6.5h-6.5zM568 342h6.5v6.5h-6.5zM568 348h6.5v6.5h-6.5zM400 354h6.5v6.5h-6.5zM568 354h6.5v6.5h-6.5zM568 360h6.5v6.5h-6.5zM394 366h6.5v6.5h-6.5zM574 372h6.5v6.5h-6.5zM370 378h6.5v6.5h-6.5zM388 378h6.5v6.5h-6.5zM364 384h6.5v6.5h-6.5zM382 384h6.5v6.5h-6.5zM580 384h6.5v6.5h-6.5zM358 390h6.5v6.5h-6.5zM382 390h6.5v6.5h-6.5zM586 390h6.5v6.5h-6.5zM346 396h12.5v6.5h-12.5zM388 396h6.5v6.5h-6.5zM502 396h6.5v6.5h-6.5zM538 396h6.5v6.5h-6.5zM328 402h18.5v6.5h-18.5zM406 402h48.5v6.5h-48.5zM544 402h6.5v6.5h-6.5zM316 408h12.5v6.5h-12.5zM310 414h6.5v6.5h-6.5zM298 420h6.5v6.5h-6.5zM586 420h6.5v6.5h-6.5zM286 426h6.5v6.5h-6.5zM562 426h6.5v6.5h-6.5zM274 432h12.5v6.5h-12.5zM262 438h6.5v6.5h-6.5zM256 444h6.5v6.5h-6.5zM250 450h6.5v6.5h-6.5zM238 468h6.5v6.5h-6.5zM232 486h6.5v6.5h-6.5zM958 516h6.5v6.5h-6.5zM964 528h12.5v6.5h-12.5zM292 594h6.5v6.5h-6.5zM292 606h6.5v6.5h-6.5z"/><path fill="#dfff20" d="M772 114h6.5v6.5h-6.5zM772 126h6.5v6.5h-6.5zM754 132h18.5v6.5h-18.5zM496 198h6.5v6.5h-6.5zM310 216h6.5v6.5h-6.5zM334 216h6.5v6.5h-6.5zM346 216h12.5v6.5h-12.5zM406 222h6.5v6.5h-6.5zM436 234h6.5v6.5h-6.5zM490 234h6.5v6.5h-6.5zM850 234h6.5v6.5h-6.5zM850 240h6.5v6.5h-6.5zM838 252h6.5v6.5h-6.5zM868 252h6.5v6.5h-6.5zM880 258h6.5v6.5h-6.5zM490 264h12.5v6.5h-12.5zM478 270h6.5v6.5h-6.5zM826 270h6.5v6.5h-6.5zM892 270h6.5v6.5h-6.5zM472 276h6.5v6.5h-6.5zM898 276h12.5v6.5h-12.5zM916 276h6.5v6.5h-6.5zM526 282h6.5v6.5h-6.5zM922 282h6.5v6.5h-6.5zM526 288h6.5v6.5h-6.5zM922 288h18.5v6.5h-18.5zM970 288h6.5v6.5h-6.5zM658 294h6.5v6.5h-6.5zM964 294h6.5v6.5h-6.5zM472 300h6.5v6.5h-6.5zM232 306h6.5v6.5h-6.5zM370 312h6.5v6.5h-6.5zM796 312h6.5v6.5h-6.5zM484 318h6.5v6.5h-6.5zM604 318h12.5v6.5h-12.5zM490 324h6.5v6.5h-6.5zM526 324h6.5v6.5h-6.5zM574 324h6.5v6.5h-6.5zM622 324h6.5v6.5h-6.5zM232 330h6.5v6.5h-6.5zM412 330h6.5v6.5h-6.5zM496 330h6.5v6.5h-6.5zM520 330h6.5v6.5h-6.5zM568 330h6.5v6.5h-6.5zM220 336h6.5v6.5h-6.5zM412 336h6.5v6.5h-6.5zM562 342h6.5v6.5h-6.5zM406 348h6.5v6.5h-6.5zM562 348h6.5v6.5h-6.5zM400 360h6.5v6.5h-6.5zM568 366h6.5v6.5h-6.5zM364 372h6.5v6.5h-6.5zM394 372h6.5v6.5h-6.5zM568 372h6.5v6.5h-6.5zM364 378h6.5v6.5h-6.5zM574 378h6.5v6.5h-6.5zM358 384h6.5v6.5h-6.5zM388 384h6.5v6.5h-6.5zM346 390h12.5v6.5h-12.5zM388 390h6.5v6.5h-6.5zM520 390h12.5v6.5h-12.5zM328 396h18.5v6.5h-18.5zM394 396h6.5v6.5h-6.5zM472 396h30.5v6.5h-30.5zM586 396h6.5v6.5h-6.5zM316 402h12.5v6.5h-12.5zM310 408h6.5v6.5h-6.5zM550 408h6.5v6.5h-6.5zM304 414h6.5v6.5h-6.5zM292 420h6.5v6.5h-6.5zM280 426h6.5v6.5h-6.5zM268 432h6.5v6.5h-6.5zM256 438h6.5v6.5h-6.5zM250 444h6.5v6.5h-6.5zM244 456h6.5v6.5h-6.5zM964 516h12.5v6.5h-12.5zM958 522h6.5v6.5h-6.5zM970 522h6.5v6.5h-6.5zM256 540h6.5v6.5h-6.5zM274 570h6.5v6.5h-6.5zM292 600h6.5v6.5h-6.5z"/><path fill="#e7ff18" d="M772 132h6.5v6.5h-6.5zM754 138h12.5v6.5h-12.5zM484 186h6.5v6.5h-6.5zM298 210h6.5v6.5h-6.5zM304 216h6.5v6.5h-6.5zM340 216h6.5v6.5h-6.5zM502 216h6.5v6.5h-6.5zM400 222h6.5v6.5h-6.5zM502 222h6.5v6.5h-6.5zM664 222h6.5v6.5h-6.5zM850 228h6.5v6.5h-6.5zM670 234h6.5v6.5h-6.5zM844 234h6.5v6.5h-6.5zM670 240h6.5v6.5h-6.5zM844 240h6.5v6.5h-6.5zM856 240h6.5v6.5h-6.5zM862 246h6.5v6.5h-6.5zM874 252h6.5v6.5h-6.5zM886 258h6.5v6.5h-6.5zM484 264h6.5v6.5h-6.5zM502 264h6.5v6.5h-6.5zM892 264h6.5v6.5h-6.5zM514 270h6.5v6.5h-6.5zM898 270h18.5v6.5h-18.5zM526 276h6.5v6.5h-6.5zM922 276h6.5v6.5h-6.5zM658 282h6.5v6.5h-6.5zM928 282h6.5v6.5h-6.5zM970 282h6.5v6.5h-6.5zM466 288h6.5v6.5h-6.5zM658 288h6.5v6.5h-6.5zM940 288h6.5v6.5h-6.5zM466 294h6.5v6.5h-6.5zM214 300h18.5v6.5h-18.5zM376 300h12.5v6.5h-12.5zM814 300h6.5v6.5h-6.5zM958 300h6.5v6.5h-6.5zM370 306h6.5v6.5h-6.5zM394 306h6.5v6.5h-6.5zM472 306h6.5v6.5h-6.5zM652 306h6.5v6.5h-6.5zM400 312h6.5v6.5h-6.5zM478 312h6.5v6.5h-6.5zM532 312h6.5v6.5h-6.5zM238 318h6.5v6.5h-6.5zM364 318h6.5v6.5h-6.5zM406 318h6.5v6.5h-6.5zM532 318h6.5v6.5h-6.5zM586 318h18.5v6.5h-18.5zM646 318h6.5v6.5h-6.5zM238 324h6.5v6.5h-6.5zM364 324h6.5v6.5h-6.5zM412 324h6.5v6.5h-6.5zM484 324h6.5v6.5h-6.5zM640 324h6.5v6.5h-6.5zM364 330h6.5v6.5h-6.5zM418 330h6.5v6.5h-6.5zM490 330h6.5v6.5h-6.5zM526 330h6.5v6.5h-6.5zM418 336h6.5v6.5h-6.5zM502 336h18.5v6.5h-18.5zM562 336h6.5v6.5h-6.5zM412 342h6.5v6.5h-6.5zM412 348h6.5v6.5h-6.5zM406 354h6.5v6.5h-6.5zM562 354h6.5v6.5h-6.5zM562 360h6.5v6.5h-6.5zM364 366h6.5v6.5h-6.5zM400 366h6.5v6.5h-6.5zM358 378h6.5v6.5h-6.5zM394 378h6.5v6.5h-6.5zM568 378h6.5v6.5h-6.5zM346 384h12.5v6.5h-12.5zM394 384h6.5v6.5h-6.5zM574 384h6.5v6.5h-6.5zM322 390h24.5v6.5h-24.5zM394 390h6.5v6.5h-6.5zM514 390h6.5v6.5h-6.5zM532 390h6.5v6.5h-6.5zM580 390h6.5v6.5h-6.5zM316 396h12.5v6.5h-12.5zM400 396h12.5v6.5h-12.5zM460 396h12.5v6.5h-12.5zM310 402h6.5v6.5h-6.5zM586 402h6.5v6.5h-6.5zM304 408h6.5v6.5h-6.5zM292 414h12.5v6.5h-12.5zM586 414h6.5v6.5h-6.5zM286 420h6.5v6.5h-6.5zM556 420h6.5v6.5h-6.5zM580 420h6.5v6.5h-6.5zM268 426h12.5v6.5h-12.5zM250 432h18.5v6.5h-18.5zM250 438h6.5v6.5h-6.5zM244 450h6.5v6.5h-6.5zM238 462h6.5v6.5h-6.5zM232 480h6.5v6.5h-6.5zM226 504h6.5v6.5h-6.5zM964 522h6.5v6.5h-6.5zM262 552h6.5v6.5h-6.5z"/><path fill="#efff10" d="M766 102h6.5v6.5h-6.5zM772 108h6.5v6.5h-6.5zM778 120h6.5v6.5h-6.5zM766 138h6.5v6.5h-6.5zM748 144h18.5v6.5h-18.5zM502 210h6.5v6.5h-6.5zM298 216h6.5v6.5h-6.5zM358 216h6.5v6.5h-6.5zM394 222h6.5v6.5h-6.5zM418 228h6.5v6.5h-6.5zM502 228h6.5v6.5h-6.5zM844 228h6.5v6.5h-6.5zM430 234h6.5v6.5h-6.5zM496 234h6.5v6.5h-6.5zM856 234h6.5v6.5h-6.5zM862 240h6.5v6.5h-6.5zM838 246h6.5v6.5h-6.5zM868 246h6.5v6.5h-6.5zM496 258h6.5v6.5h-6.5zM832 258h6.5v6.5h-6.5zM892 258h6.5v6.5h-6.5zM478 264h6.5v6.5h-6.5zM508 264h6.5v6.5h-6.5zM664 264h6.5v6.5h-6.5zM898 264h6.5v6.5h-6.5zM472 270h6.5v6.5h-6.5zM916 270h6.5v6.5h-6.5zM970 270h6.5v6.5h-6.5zM820 276h6.5v6.5h-6.5zM970 276h6.5v6.5h-6.5zM466 282h6.5v6.5h-6.5zM934 282h6.5v6.5h-6.5zM814 288h6.5v6.5h-6.5zM964 288h6.5v6.5h-6.5zM814 294h6.5v6.5h-6.5zM946 294h6.5v6.5h-6.5zM232 300h6.5v6.5h-6.5zM370 300h6.5v6.5h-6.5zM388 300h6.5v6.5h-6.5zM466 300h6.5v6.5h-6.5zM532 300h6.5v6.5h-6.5zM952 300h6.5v6.5h-6.5zM466 306h6.5v6.5h-6.5zM532 306h6.5v6.5h-6.5zM808 306h6.5v6.5h-6.5zM238 312h6.5v6.5h-6.5zM364 312h6.5v6.5h-6.5zM466 312h12.5v6.5h-12.5zM412 318h6.5v6.5h-6.5zM478 318h6.5v6.5h-6.5zM574 318h12.5v6.5h-12.5zM616 318h6.5v6.5h-6.5zM418 324h6.5v6.5h-6.5zM532 324h6.5v6.5h-6.5zM568 324h6.5v6.5h-6.5zM628 324h6.5v6.5h-6.5zM238 330h6.5v6.5h-6.5zM424 330h6.5v6.5h-6.5zM562 330h6.5v6.5h-6.5zM226 336h6.5v6.5h-6.5zM364 336h6.5v6.5h-6.5zM424 336h6.5v6.5h-6.5zM496 336h6.5v6.5h-6.5zM520 336h6.5v6.5h-6.5zM556 336h6.5v6.5h-6.5zM418 342h6.5v6.5h-6.5zM556 342h6.5v6.5h-6.5zM418 348h6.5v6.5h-6.5zM556 348h6.5v6.5h-6.5zM364 354h6.5v6.5h-6.5zM412 354h6.5v6.5h-6.5zM556 354h6.5v6.5h-6.5zM364 360h6.5v6.5h-6.5zM406 360h6.5v6.5h-6.5zM562 366h6.5v6.5h-6.5zM358 372h6.5v6.5h-6.5zM400 372h6.5v6.5h-6.5zM562 372h6.5v6.5h-6.5zM352 378h6.5v6.5h-6.5zM400 378h6.5v6.5h-6.5zM316 384h30.5v6.5h-30.5zM400 384h6.5v6.5h-6.5zM520 384h12.5v6.5h-12.5zM310 390h12.5v6.5h-12.5zM400 390h6.5v6.5h-6.5zM508 390h6.5v6.5h-6.5zM538 390h6.5v6.5h-6.5zM304 396h12.5v6.5h-12.5zM412 396h48.5v6.5h-48.5zM544 396h6.5v6.5h-6.5zM304 402h6.5v6.5h-6.5zM550 402h6.5v6.5h-6.5zM292 408h12.5v6.5h-12.5zM586 408h6.5v6.5h-6.5zM286 414h6.5v6.5h-6.5zM556 414h6.5v6.5h-6.5zM250 420h36.5v6.5h-36.5zM244 426h24.5v6.5h-24.5zM244 432h6.5v6.5h-6.5zM244 438h6.5v6.5h-6.5zM244 444h6.5v6.5h-6.5zM226 510h6.5v6.5h-6.5zM232 516h6.5v6.5h-6.5zM238 522h6.5v6.5h-6.5zM268 564h6.5v6.5h-6.5zM286 588h6.5v6.5h-6.5z"/><path fill="#f7ff08" d="M778 114h6.5v6.5h-6.5zM778 126h6.5v6.5h-6.5zM772 138h6.5v6.5h-6.5zM766 144h6.5v6.5h-6.5zM496 192h6.5v6.5h-6.5zM502 204h6.5v6.5h-6.5zM382 216h6.5v6.5h-6.5zM844 222h12.5v6.5h-12.5zM856 228h6.5v6.5h-6.5zM838 240h6.5v6.5h-6.5zM874 246h6.5v6.5h-6.5zM664 252h6.5v6.5h-6.5zM880 252h12.5v6.5h-12.5zM898 252h6.5v6.5h-6.5zM490 258h6.5v6.5h-6.5zM502 258h6.5v6.5h-6.5zM664 258h6.5v6.5h-6.5zM898 258h6.5v6.5h-6.5zM826 264h6.5v6.5h-6.5zM904 264h12.5v6.5h-12.5zM520 270h6.5v6.5h-6.5zM922 270h6.5v6.5h-6.5zM466 276h6.5v6.5h-6.5zM658 276h6.5v6.5h-6.5zM928 276h6.5v6.5h-6.5zM964 276h6.5v6.5h-6.5zM814 282h6.5v6.5h-6.5zM940 282h6.5v6.5h-6.5zM964 282h6.5v6.5h-6.5zM214 294h18.5v6.5h-18.5zM532 294h6.5v6.5h-6.5zM394 300h6.5v6.5h-6.5zM460 300h6.5v6.5h-6.5zM652 300h6.5v6.5h-6.5zM238 306h6.5v6.5h-6.5zM364 306h6.5v6.5h-6.5zM400 306h6.5v6.5h-6.5zM460 306h6.5v6.5h-6.5zM802 306h6.5v6.5h-6.5zM358 312h6.5v6.5h-6.5zM406 312h6.5v6.5h-6.5zM454 312h12.5v6.5h-12.5zM598 312h18.5v6.5h-18.5zM646 312h6.5v6.5h-6.5zM358 318h6.5v6.5h-6.5zM418 318h6.5v6.5h-6.5zM442 318h36.5v6.5h-36.5zM358 324h6.5v6.5h-6.5zM424 324h36.5v6.5h-36.5zM472 324h12.5v6.5h-12.5zM562 324h6.5v6.5h-6.5zM634 324h6.5v6.5h-6.5zM430 330h12.5v6.5h-12.5zM484 330h6.5v6.5h-6.5zM532 330h6.5v6.5h-6.5zM556 330h6.5v6.5h-6.5zM232 336h6.5v6.5h-6.5zM490 336h6.5v6.5h-6.5zM526 336h6.5v6.5h-6.5zM550 336h6.5v6.5h-6.5zM364 342h6.5v6.5h-6.5zM424 342h6.5v6.5h-6.5zM550 342h6.5v6.5h-6.5zM364 348h6.5v6.5h-6.5zM550 348h6.5v6.5h-6.5zM412 360h6.5v6.5h-6.5zM556 360h6.5v6.5h-6.5zM358 366h6.5v6.5h-6.5zM406 366h6.5v6.5h-6.5zM310 372h18.5v6.5h-18.5zM352 372h6.5v6.5h-6.5zM406 372h6.5v6.5h-6.5zM304 378h48.5v6.5h-48.5zM562 378h6.5v6.5h-6.5zM304 384h12.5v6.5h-12.5zM514 384h6.5v6.5h-6.5zM532 384h6.5v6.5h-6.5zM568 384h6.5v6.5h-6.5zM298 390h12.5v6.5h-12.5zM406 390h6.5v6.5h-6.5zM478 390h30.5v6.5h-30.5zM574 390h6.5v6.5h-6.5zM298 396h6.5v6.5h-6.5zM580 396h6.5v6.5h-6.5zM292 402h12.5v6.5h-12.5zM250 408h18.5v6.5h-18.5zM280 408h12.5v6.5h-12.5zM244 414h42.5v6.5h-42.5zM238 420h12.5v6.5h-12.5zM562 420h18.5v6.5h-18.5zM238 426h6.5v6.5h-6.5zM238 432h6.5v6.5h-6.5zM238 438h6.5v6.5h-6.5zM238 444h6.5v6.5h-6.5zM238 450h6.5v6.5h-6.5zM238 456h6.5v6.5h-6.5zM232 474h6.5v6.5h-6.5zM220 510h6.5v6.5h-6.5zM280 582h6.5v6.5h-6.5z"/><path fill="#ffff00" d="M772 102h6.5v6.5h-6.5zM778 108h6.5v6.5h-6.5zM748 150h18.5v6.5h-18.5zM490 186h6.5v6.5h-6.5zM652 186h6.5v6.5h-6.5zM292 216h6.5v6.5h-6.5zM364 216h6.5v6.5h-6.5zM658 216h6.5v6.5h-6.5zM838 228h6.5v6.5h-6.5zM502 234h6.5v6.5h-6.5zM838 234h6.5v6.5h-6.5zM862 234h6.5v6.5h-6.5zM448 240h24.5v6.5h-24.5zM490 240h18.5v6.5h-18.5zM868 240h12.5v6.5h-12.5zM910 240h6.5v6.5h-6.5zM496 246h12.5v6.5h-12.5zM664 246h6.5v6.5h-6.5zM880 246h6.5v6.5h-6.5zM898 246h24.5v6.5h-24.5zM496 252h12.5v6.5h-12.5zM832 252h6.5v6.5h-6.5zM892 252h6.5v6.5h-6.5zM904 252h18.5v6.5h-18.5zM484 258h6.5v6.5h-6.5zM508 258h6.5v6.5h-6.5zM904 258h24.5v6.5h-24.5zM472 264h6.5v6.5h-6.5zM514 264h6.5v6.5h-6.5zM916 264h12.5v6.5h-12.5zM970 264h6.5v6.5h-6.5zM526 270h6.5v6.5h-6.5zM820 270h6.5v6.5h-6.5zM928 270h6.5v6.5h-6.5zM964 270h6.5v6.5h-6.5zM532 276h6.5v6.5h-6.5zM934 276h12.5v6.5h-12.5zM532 282h6.5v6.5h-6.5zM946 282h6.5v6.5h-6.5zM460 288h6.5v6.5h-6.5zM532 288h6.5v6.5h-6.5zM946 288h6.5v6.5h-6.5zM376 294h18.5v6.5h-18.5zM460 294h6.5v6.5h-6.5zM652 294h6.5v6.5h-6.5zM958 294h6.5v6.5h-6.5zM364 300h6.5v6.5h-6.5zM808 300h6.5v6.5h-6.5zM352 306h12.5v6.5h-12.5zM454 306h6.5v6.5h-6.5zM796 306h6.5v6.5h-6.5zM346 312h12.5v6.5h-12.5zM412 312h6.5v6.5h-6.5zM448 312h6.5v6.5h-6.5zM538 312h6.5v6.5h-6.5zM580 312h18.5v6.5h-18.5zM352 318h6.5v6.5h-6.5zM424 318h18.5v6.5h-18.5zM538 318h6.5v6.5h-6.5zM568 318h6.5v6.5h-6.5zM622 318h6.5v6.5h-6.5zM244 324h6.5v6.5h-6.5zM460 324h12.5v6.5h-12.5zM538 324h6.5v6.5h-6.5zM556 324h6.5v6.5h-6.5zM358 330h6.5v6.5h-6.5zM442 330h18.5v6.5h-18.5zM472 330h12.5v6.5h-12.5zM538 330h18.5v6.5h-18.5zM430 336h12.5v6.5h-12.5zM484 336h6.5v6.5h-6.5zM532 336h18.5v6.5h-18.5zM220 342h6.5v6.5h-6.5zM430 342h6.5v6.5h-6.5zM484 342h42.5v6.5h-42.5zM544 342h6.5v6.5h-6.5zM424 348h6.5v6.5h-6.5zM418 354h6.5v6.5h-6.5zM550 354h6.5v6.5h-6.5zM310 360h6.5v6.5h-6.5zM298 366h30.5v6.5h-30.5zM412 366h6.5v6.5h-6.5zM556 366h6.5v6.5h-6.5zM292 372h18.5v6.5h-18.5zM328 372h24.5v6.5h-24.5zM556 372h6.5v6.5h-6.5zM286 378h18.5v6.5h-18.5zM406 378h6.5v6.5h-6.5zM514 378h24.5v6.5h-24.5zM286 384h18.5v6.5h-18.5zM406 384h6.5v6.5h-6.5zM508 384h6.5v6.5h-6.5zM538 384h6.5v6.5h-6.5zM562 384h6.5v6.5h-6.5zM274 390h24.5v6.5h-24.5zM412 390h66.5v6.5h-66.5zM544 390h6.5v6.5h-6.5zM250 396h48.5v6.5h-48.5zM550 396h6.5v6.5h-6.5zM244 402h48.5v6.5h-48.5zM238 408h12.5v6.5h-12.5zM268 408h12.5v6.5h-12.5zM556 408h6.5v6.5h-6.5zM238 414h6.5v6.5h-6.5zM580 414h6.5v6.5h-6.5zM232 468h6.5v6.5h-6.5zM226 498h6.5v6.5h-6.5zM220 504h6.5v6.5h-6.5zM262 558h6.5v6.5h-6.5zM286 612h6.5v6.5h-6.5z"/><path fill="#fff700" d="M778 132h6.5v6.5h-6.5zM772 144h6.5v6.5h-6.5zM766 150h6.5v6.5h-6.5zM748 156h12.5v6.5h-12.5zM502 198h6.5v6.5h-6.5zM652 204h6.5v6.5h-6.5zM370 216h12.5v6.5h-12.5zM508 216h6.5v6.5h-6.5zM844 216h6.5v6.5h-6.5zM298 222h12.5v6.5h-12.5zM388 222h6.5v6.5h-6.5zM508 222h6.5v6.5h-6.5zM838 222h6.5v6.5h-6.5zM856 222h6.5v6.5h-6.5zM412 228h6.5v6.5h-6.5zM508 228h6.5v6.5h-6.5zM664 228h6.5v6.5h-6.5zM862 228h6.5v6.5h-6.5zM424 234h6.5v6.5h-6.5zM868 234h12.5v6.5h-12.5zM904 234h12.5v6.5h-12.5zM442 240h6.5v6.5h-6.5zM472 240h18.5v6.5h-18.5zM880 240h30.5v6.5h-30.5zM916 240h6.5v6.5h-6.5zM490 246h6.5v6.5h-6.5zM832 246h6.5v6.5h-6.5zM886 246h12.5v6.5h-12.5zM922 246h6.5v6.5h-6.5zM490 252h6.5v6.5h-6.5zM508 252h6.5v6.5h-6.5zM922 252h6.5v6.5h-6.5zM478 258h6.5v6.5h-6.5zM826 258h6.5v6.5h-6.5zM928 258h6.5v6.5h-6.5zM970 258h6.5v6.5h-6.5zM928 264h6.5v6.5h-6.5zM964 264h6.5v6.5h-6.5zM466 270h6.5v6.5h-6.5zM658 270h6.5v6.5h-6.5zM934 270h6.5v6.5h-6.5zM958 270h6.5v6.5h-6.5zM814 276h6.5v6.5h-6.5zM946 276h6.5v6.5h-6.5zM958 276h6.5v6.5h-6.5zM460 282h6.5v6.5h-6.5zM958 282h6.5v6.5h-6.5zM214 288h18.5v6.5h-18.5zM652 288h6.5v6.5h-6.5zM958 288h6.5v6.5h-6.5zM232 294h6.5v6.5h-6.5zM370 294h6.5v6.5h-6.5zM394 294h6.5v6.5h-6.5zM808 294h6.5v6.5h-6.5zM952 294h6.5v6.5h-6.5zM238 300h6.5v6.5h-6.5zM358 300h6.5v6.5h-6.5zM400 300h6.5v6.5h-6.5zM454 300h6.5v6.5h-6.5zM334 306h18.5v6.5h-18.5zM406 306h6.5v6.5h-6.5zM448 306h6.5v6.5h-6.5zM538 306h6.5v6.5h-6.5zM604 306h6.5v6.5h-6.5zM646 306h6.5v6.5h-6.5zM334 312h12.5v6.5h-12.5zM418 312h6.5v6.5h-6.5zM442 312h6.5v6.5h-6.5zM574 312h6.5v6.5h-6.5zM616 312h6.5v6.5h-6.5zM244 318h6.5v6.5h-6.5zM340 318h12.5v6.5h-12.5zM544 318h6.5v6.5h-6.5zM556 318h12.5v6.5h-12.5zM640 318h6.5v6.5h-6.5zM352 324h6.5v6.5h-6.5zM544 324h12.5v6.5h-12.5zM244 330h6.5v6.5h-6.5zM460 330h12.5v6.5h-12.5zM238 336h6.5v6.5h-6.5zM358 336h6.5v6.5h-6.5zM442 336h6.5v6.5h-6.5zM472 336h12.5v6.5h-12.5zM226 342h6.5v6.5h-6.5zM478 342h6.5v6.5h-6.5zM526 342h18.5v6.5h-18.5zM220 348h6.5v6.5h-6.5zM478 348h30.5v6.5h-30.5zM544 348h6.5v6.5h-6.5zM214 354h12.5v6.5h-12.5zM298 354h18.5v6.5h-18.5zM424 354h6.5v6.5h-6.5zM478 354h24.5v6.5h-24.5zM544 354h6.5v6.5h-6.5zM208 360h18.5v6.5h-18.5zM274 360h36.5v6.5h-36.5zM316 360h12.5v6.5h-12.5zM358 360h6.5v6.5h-6.5zM418 360h6.5v6.5h-6.5zM484 360h12.5v6.5h-12.5zM550 360h6.5v6.5h-6.5zM202 366h18.5v6.5h-18.5zM268 366h30.5v6.5h-30.5zM328 366h12.5v6.5h-12.5zM346 366h12.5v6.5h-12.5zM268 372h24.5v6.5h-24.5zM412 372h6.5v6.5h-6.5zM508 372h30.5v6.5h-30.5zM262 378h24.5v6.5h-24.5zM412 378h6.5v6.5h-6.5zM508 378h6.5v6.5h-6.5zM538 378h6.5v6.5h-6.5zM556 378h6.5v6.5h-6.5zM256 384h30.5v6.5h-30.5zM412 384h12.5v6.5h-12.5zM472 384h36.5v6.5h-36.5zM544 384h6.5v6.5h-6.5zM556 384h6.5v6.5h-6.5zM244 390h30.5v6.5h-30.5zM550 390h6.5v6.5h-6.5zM562 390h12.5v6.5h-12.5zM238 396h12.5v6.5h-12.5zM556 396h6.5v6.5h-6.5zM574 396h6.5v6.5h-6.5zM232 402h12.5v6.5h-12.5zM556 402h6.5v6.5h-6.5zM580 402h6.5v6.5h-6.5zM232 408h6.5v6.5h-6.5zM580 408h6.5v6.5h-6.5zM232 414h6.5v6.5h-6.5zM562 414h6.5v6.5h-6.5zM232 420h6.5v6.5h-6.5zM232 426h6.5v6.5h-6.5zM232 432h6.5v6.5h-6.5zM232 438h6.5v6.5h-6.5zM232 444h6.5v6.5h-6.5zM232 450h6.5v6.5h-6.5zM232 456h6.5v6.5h-6.5zM232 462h6.5v6.5h-6.5zM214 510h6.5v6.5h-6.5zM226 516h6.5v6.5h-6.5zM244 528h6.5v6.5h-6.5zM250 534h6.5v6.5h-6.5zM274 576h6.5v6.5h-6.5zM286 594h6.5v6.5h-6.5zM286 606h6.5v6.5h-6.5z"/><path fill="#ffef00" d="M772 96h6.5v6.5h-6.5zM778 102h6.5v6.5h-6.5zM760 156h12.5v6.5h-12.5zM484 180h6.5v6.5h-6.5zM850 216h6.5v6.5h-6.5zM286 222h12.5v6.5h-12.5zM340 222h18.5v6.5h-18.5zM862 222h6.5v6.5h-6.5zM406 228h6.5v6.5h-6.5zM868 228h6.5v6.5h-6.5zM898 228h18.5v6.5h-18.5zM880 234h24.5v6.5h-24.5zM916 234h12.5v6.5h-12.5zM250 240h6.5v6.5h-6.5zM436 240h6.5v6.5h-6.5zM664 240h6.5v6.5h-6.5zM832 240h6.5v6.5h-6.5zM922 240h6.5v6.5h-6.5zM508 246h6.5v6.5h-6.5zM928 246h6.5v6.5h-6.5zM484 252h6.5v6.5h-6.5zM928 252h6.5v6.5h-6.5zM970 252h6.5v6.5h-6.5zM934 258h6.5v6.5h-6.5zM964 258h6.5v6.5h-6.5zM820 264h6.5v6.5h-6.5zM934 264h6.5v6.5h-6.5zM958 264h6.5v6.5h-6.5zM532 270h6.5v6.5h-6.5zM814 270h6.5v6.5h-6.5zM940 270h18.5v6.5h-18.5zM460 276h6.5v6.5h-6.5zM952 276h6.5v6.5h-6.5zM220 282h12.5v6.5h-12.5zM652 282h6.5v6.5h-6.5zM808 282h6.5v6.5h-6.5zM952 282h6.5v6.5h-6.5zM232 288h6.5v6.5h-6.5zM808 288h6.5v6.5h-6.5zM952 288h6.5v6.5h-6.5zM364 294h6.5v6.5h-6.5zM454 294h6.5v6.5h-6.5zM340 300h18.5v6.5h-18.5zM538 300h6.5v6.5h-6.5zM796 300h12.5v6.5h-12.5zM412 306h6.5v6.5h-6.5zM598 306h6.5v6.5h-6.5zM610 306h6.5v6.5h-6.5zM244 312h6.5v6.5h-6.5zM328 312h6.5v6.5h-6.5zM424 312h18.5v6.5h-18.5zM544 312h6.5v6.5h-6.5zM562 312h12.5v6.5h-12.5zM334 318h6.5v6.5h-6.5zM550 318h6.5v6.5h-6.5zM628 318h12.5v6.5h-12.5zM340 324h12.5v6.5h-12.5zM250 330h6.5v6.5h-6.5zM352 330h6.5v6.5h-6.5zM244 336h12.5v6.5h-12.5zM448 336h24.5v6.5h-24.5zM232 342h42.5v6.5h-42.5zM358 342h6.5v6.5h-6.5zM436 342h6.5v6.5h-6.5zM466 342h12.5v6.5h-12.5zM226 348h12.5v6.5h-12.5zM256 348h60.5v6.5h-60.5zM430 348h6.5v6.5h-6.5zM472 348h6.5v6.5h-6.5zM508 348h36.5v6.5h-36.5zM226 354h6.5v6.5h-6.5zM256 354h42.5v6.5h-42.5zM316 354h12.5v6.5h-12.5zM358 354h6.5v6.5h-6.5zM472 354h6.5v6.5h-6.5zM502 354h12.5v6.5h-12.5zM538 354h6.5v6.5h-6.5zM226 360h6.5v6.5h-6.5zM256 360h18.5v6.5h-18.5zM328 360h6.5v6.5h-6.5zM352 360h6.5v6.5h-6.5zM424 360h6.5v6.5h-6.5zM472 360h12.5v6.5h-12.5zM496 360h18.5v6.5h-18.5zM544 360h6.5v6.5h-6.5zM220 366h12.5v6.5h-12.5zM256 366h12.5v6.5h-12.5zM340 366h6.5v6.5h-6.5zM418 366h6.5v6.5h-6.5zM472 366h72.5v6.5h-72.5zM550 366h6.5v6.5h-6.5zM202 372h24.5v6.5h-24.5zM250 372h18.5v6.5h-18.5zM418 372h6.5v6.5h-6.5zM472 372h36.5v6.5h-36.5zM538 372h6.5v6.5h-6.5zM550 372h6.5v6.5h-6.5zM244 378h18.5v6.5h-18.5zM418 378h12.5v6.5h-12.5zM472 378h36.5v6.5h-36.5zM544 378h12.5v6.5h-12.5zM238 384h18.5v6.5h-18.5zM424 384h48.5v6.5h-48.5zM550 384h6.5v6.5h-6.5zM232 390h12.5v6.5h-12.5zM556 390h6.5v6.5h-6.5zM226 396h12.5v6.5h-12.5zM562 396h12.5v6.5h-12.5zM226 402h6.5v6.5h-6.5zM562 402h6.5v6.5h-6.5zM574 402h6.5v6.5h-6.5zM226 408h6.5v6.5h-6.5zM562 408h6.5v6.5h-6.5zM226 414h6.5v6.5h-6.5zM568 414h12.5v6.5h-12.5zM226 420h6.5v6.5h-6.5zM226 486h6.5v6.5h-6.5zM226 492h6.5v6.5h-6.5zM214 504h6.5v6.5h-6.5zM214 516h12.5v6.5h-12.5zM256 546h6.5v6.5h-6.5zM262 564h6.5v6.5h-6.5zM286 600h6.5v6.5h-6.5z"/><path fill="#ffe700" d="M778 90h6.5v6.5h-6.5zM778 96h6.5v6.5h-6.5zM784 102h6.5v6.5h-6.5zM784 108h6.5v6.5h-6.5zM784 114h6.5v6.5h-6.5zM784 120h6.5v6.5h-6.5zM778 138h6.5v6.5h-6.5zM772 150h6.5v6.5h-6.5zM538 156h6.5v6.5h-6.5zM532 162h18.5v6.5h-18.5zM748 162h18.5v6.5h-18.5zM496 168h6.5v6.5h-6.5zM538 168h6.5v6.5h-6.5zM490 174h12.5v6.5h-12.5zM490 180h6.5v6.5h-6.5zM496 186h6.5v6.5h-6.5zM652 192h6.5v6.5h-6.5zM652 198h6.5v6.5h-6.5zM508 210h6.5v6.5h-6.5zM652 210h6.5v6.5h-6.5zM838 216h6.5v6.5h-6.5zM856 216h6.5v6.5h-6.5zM898 216h12.5v6.5h-12.5zM280 222h6.5v6.5h-6.5zM310 222h6.5v6.5h-6.5zM328 222h12.5v6.5h-12.5zM358 222h6.5v6.5h-6.5zM868 222h6.5v6.5h-6.5zM892 222h24.5v6.5h-24.5zM268 228h30.5v6.5h-30.5zM400 228h6.5v6.5h-6.5zM874 228h24.5v6.5h-24.5zM916 228h12.5v6.5h-12.5zM256 234h18.5v6.5h-18.5zM508 234h6.5v6.5h-6.5zM664 234h6.5v6.5h-6.5zM832 234h6.5v6.5h-6.5zM928 234h6.5v6.5h-6.5zM256 240h12.5v6.5h-12.5zM508 240h6.5v6.5h-6.5zM928 240h6.5v6.5h-6.5zM244 246h24.5v6.5h-24.5zM484 246h6.5v6.5h-6.5zM934 246h6.5v6.5h-6.5zM970 246h6.5v6.5h-6.5zM250 252h6.5v6.5h-6.5zM478 252h6.5v6.5h-6.5zM658 252h6.5v6.5h-6.5zM826 252h6.5v6.5h-6.5zM934 252h6.5v6.5h-6.5zM964 252h6.5v6.5h-6.5zM472 258h6.5v6.5h-6.5zM514 258h6.5v6.5h-6.5zM658 258h6.5v6.5h-6.5zM820 258h6.5v6.5h-6.5zM466 264h6.5v6.5h-6.5zM520 264h6.5v6.5h-6.5zM658 264h6.5v6.5h-6.5zM940 264h18.5v6.5h-18.5zM220 276h6.5v6.5h-6.5zM538 276h6.5v6.5h-6.5zM808 276h6.5v6.5h-6.5zM232 282h6.5v6.5h-6.5zM538 282h6.5v6.5h-6.5zM376 288h18.5v6.5h-18.5zM454 288h6.5v6.5h-6.5zM538 288h6.5v6.5h-6.5zM238 294h6.5v6.5h-6.5zM346 294h6.5v6.5h-6.5zM358 294h6.5v6.5h-6.5zM400 294h6.5v6.5h-6.5zM538 294h6.5v6.5h-6.5zM802 294h6.5v6.5h-6.5zM334 300h6.5v6.5h-6.5zM406 300h6.5v6.5h-6.5zM448 300h6.5v6.5h-6.5zM646 300h6.5v6.5h-6.5zM790 300h6.5v6.5h-6.5zM244 306h6.5v6.5h-6.5zM328 306h6.5v6.5h-6.5zM442 306h6.5v6.5h-6.5zM544 306h6.5v6.5h-6.5zM580 306h18.5v6.5h-18.5zM616 306h6.5v6.5h-6.5zM322 312h6.5v6.5h-6.5zM550 312h12.5v6.5h-12.5zM622 312h6.5v6.5h-6.5zM640 312h6.5v6.5h-6.5zM250 318h6.5v6.5h-6.5zM322 318h12.5v6.5h-12.5zM250 324h6.5v6.5h-6.5zM328 324h12.5v6.5h-12.5zM256 330h6.5v6.5h-6.5zM346 330h6.5v6.5h-6.5zM256 336h24.5v6.5h-24.5zM352 336h6.5v6.5h-6.5zM274 342h48.5v6.5h-48.5zM442 342h24.5v6.5h-24.5zM238 348h18.5v6.5h-18.5zM316 348h12.5v6.5h-12.5zM358 348h6.5v6.5h-6.5zM436 348h6.5v6.5h-6.5zM466 348h6.5v6.5h-6.5zM232 354h24.5v6.5h-24.5zM328 354h6.5v6.5h-6.5zM352 354h6.5v6.5h-6.5zM430 354h6.5v6.5h-6.5zM466 354h6.5v6.5h-6.5zM514 354h24.5v6.5h-24.5zM232 360h24.5v6.5h-24.5zM334 360h18.5v6.5h-18.5zM430 360h6.5v6.5h-6.5zM466 360h6.5v6.5h-6.5zM514 360h30.5v6.5h-30.5zM232 366h24.5v6.5h-24.5zM424 366h6.5v6.5h-6.5zM466 366h6.5v6.5h-6.5zM544 366h6.5v6.5h-6.5zM226 372h24.5v6.5h-24.5zM424 372h12.5v6.5h-12.5zM466 372h6.5v6.5h-6.5zM544 372h6.5v6.5h-6.5zM202 378h42.5v6.5h-42.5zM430 378h42.5v6.5h-42.5zM202 384h36.5v6.5h-36.5zM202 390h30.5v6.5h-30.5zM202 396h24.5v6.5h-24.5zM202 402h24.5v6.5h-24.5zM568 402h6.5v6.5h-6.5zM202 408h24.5v6.5h-24.5zM568 408h12.5v6.5h-12.5zM220 414h6.5v6.5h-6.5zM226 426h6.5v6.5h-6.5zM226 432h6.5v6.5h-6.5zM226 480h6.5v6.5h-6.5zM220 498h6.5v6.5h-6.5zM268 570h6.5v6.5h-6.5zM280 588h6.5v6.5h-6.5z"/><path fill="#ffdf00" d="M784 90h6.5v6.5h-6.5zM784 96h6.5v6.5h-6.5zM784 126h6.5v6.5h-6.5zM502 162h6.5v6.5h-6.5zM526 162h6.5v6.5h-6.5zM766 162h6.5v6.5h-6.5zM502 168h6.5v6.5h-6.5zM532 168h6.5v6.5h-6.5zM544 168h6.5v6.5h-6.5zM748 168h18.5v6.5h-18.5zM502 174h6.5v6.5h-6.5zM496 180h6.5v6.5h-6.5zM502 192h6.5v6.5h-6.5zM508 204h6.5v6.5h-6.5zM844 210h12.5v6.5h-12.5zM904 210h12.5v6.5h-12.5zM862 216h6.5v6.5h-6.5zM892 216h6.5v6.5h-6.5zM910 216h6.5v6.5h-6.5zM316 222h12.5v6.5h-12.5zM382 222h6.5v6.5h-6.5zM658 222h6.5v6.5h-6.5zM832 222h6.5v6.5h-6.5zM874 222h18.5v6.5h-18.5zM916 222h12.5v6.5h-12.5zM298 228h6.5v6.5h-6.5zM394 228h6.5v6.5h-6.5zM832 228h6.5v6.5h-6.5zM928 228h6.5v6.5h-6.5zM274 234h18.5v6.5h-18.5zM418 234h6.5v6.5h-6.5zM934 234h6.5v6.5h-6.5zM268 240h6.5v6.5h-6.5zM430 240h6.5v6.5h-6.5zM934 240h6.5v6.5h-6.5zM970 240h6.5v6.5h-6.5zM472 246h12.5v6.5h-12.5zM658 246h6.5v6.5h-6.5zM826 246h6.5v6.5h-6.5zM940 246h6.5v6.5h-6.5zM964 246h6.5v6.5h-6.5zM238 252h12.5v6.5h-12.5zM256 252h6.5v6.5h-6.5zM472 252h6.5v6.5h-6.5zM514 252h6.5v6.5h-6.5zM940 252h6.5v6.5h-6.5zM958 252h6.5v6.5h-6.5zM232 258h18.5v6.5h-18.5zM940 258h24.5v6.5h-24.5zM226 264h12.5v6.5h-12.5zM814 264h6.5v6.5h-6.5zM220 270h18.5v6.5h-18.5zM460 270h6.5v6.5h-6.5zM538 270h6.5v6.5h-6.5zM808 270h6.5v6.5h-6.5zM226 276h12.5v6.5h-12.5zM652 276h6.5v6.5h-6.5zM802 276h6.5v6.5h-6.5zM454 282h6.5v6.5h-6.5zM796 282h12.5v6.5h-12.5zM370 288h6.5v6.5h-6.5zM394 288h12.5v6.5h-12.5zM646 288h6.5v6.5h-6.5zM784 288h24.5v6.5h-24.5zM334 294h12.5v6.5h-12.5zM352 294h6.5v6.5h-6.5zM406 294h6.5v6.5h-6.5zM646 294h6.5v6.5h-6.5zM790 294h12.5v6.5h-12.5zM244 300h6.5v6.5h-6.5zM328 300h6.5v6.5h-6.5zM412 300h6.5v6.5h-6.5zM544 300h6.5v6.5h-6.5zM598 300h18.5v6.5h-18.5zM322 306h6.5v6.5h-6.5zM418 306h6.5v6.5h-6.5zM550 306h30.5v6.5h-30.5zM640 306h6.5v6.5h-6.5zM250 312h6.5v6.5h-6.5zM316 312h6.5v6.5h-6.5zM634 312h6.5v6.5h-6.5zM310 318h12.5v6.5h-12.5zM256 324h6.5v6.5h-6.5zM310 324h18.5v6.5h-18.5zM262 330h24.5v6.5h-24.5zM304 330h42.5v6.5h-42.5zM280 336h48.5v6.5h-48.5zM340 336h12.5v6.5h-12.5zM322 342h6.5v6.5h-6.5zM346 342h12.5v6.5h-12.5zM328 348h12.5v6.5h-12.5zM352 348h6.5v6.5h-6.5zM442 348h24.5v6.5h-24.5zM334 354h18.5v6.5h-18.5zM436 354h12.5v6.5h-12.5zM460 354h6.5v6.5h-6.5zM436 360h6.5v6.5h-6.5zM460 360h6.5v6.5h-6.5zM430 366h12.5v6.5h-12.5zM454 366h12.5v6.5h-12.5zM436 372h30.5v6.5h-30.5zM202 414h18.5v6.5h-18.5zM202 420h24.5v6.5h-24.5zM226 438h6.5v6.5h-6.5zM226 444h6.5v6.5h-6.5zM226 450h6.5v6.5h-6.5zM226 456h6.5v6.5h-6.5zM226 462h6.5v6.5h-6.5zM226 468h6.5v6.5h-6.5zM226 474h6.5v6.5h-6.5zM220 522h6.5v6.5h-6.5zM232 522h6.5v6.5h-6.5zM274 582h6.5v6.5h-6.5z"/><path fill="#ffd700" d="M784 84h6.5v6.5h-6.5zM790 96h6.5v6.5h-6.5zM790 102h6.5v6.5h-6.5zM784 132h6.5v6.5h-6.5zM778 144h6.5v6.5h-6.5zM772 156h6.5v6.5h-6.5zM526 168h6.5v6.5h-6.5zM766 168h6.5v6.5h-6.5zM532 174h18.5v6.5h-18.5zM748 174h24.5v6.5h-24.5zM502 180h6.5v6.5h-6.5zM748 180h18.5v6.5h-18.5zM502 186h6.5v6.5h-6.5zM754 186h6.5v6.5h-6.5zM904 204h6.5v6.5h-6.5zM838 210h6.5v6.5h-6.5zM856 210h6.5v6.5h-6.5zM898 210h6.5v6.5h-6.5zM832 216h6.5v6.5h-6.5zM868 216h24.5v6.5h-24.5zM916 216h6.5v6.5h-6.5zM364 222h6.5v6.5h-6.5zM514 222h6.5v6.5h-6.5zM928 222h12.5v6.5h-12.5zM304 228h6.5v6.5h-6.5zM934 228h12.5v6.5h-12.5zM292 234h6.5v6.5h-6.5zM412 234h6.5v6.5h-6.5zM940 234h6.5v6.5h-6.5zM274 240h12.5v6.5h-12.5zM658 240h6.5v6.5h-6.5zM826 240h6.5v6.5h-6.5zM940 240h12.5v6.5h-12.5zM958 240h12.5v6.5h-12.5zM268 246h6.5v6.5h-6.5zM466 246h6.5v6.5h-6.5zM514 246h6.5v6.5h-6.5zM946 246h18.5v6.5h-18.5zM262 252h6.5v6.5h-6.5zM820 252h6.5v6.5h-6.5zM946 252h12.5v6.5h-12.5zM250 258h12.5v6.5h-12.5zM466 258h6.5v6.5h-6.5zM814 258h6.5v6.5h-6.5zM238 264h12.5v6.5h-12.5zM526 264h6.5v6.5h-6.5zM808 264h6.5v6.5h-6.5zM238 270h6.5v6.5h-6.5zM652 270h6.5v6.5h-6.5zM802 270h6.5v6.5h-6.5zM238 276h6.5v6.5h-6.5zM454 276h6.5v6.5h-6.5zM544 276h6.5v6.5h-6.5zM790 276h12.5v6.5h-12.5zM238 282h6.5v6.5h-6.5zM382 282h18.5v6.5h-18.5zM544 282h6.5v6.5h-6.5zM646 282h6.5v6.5h-6.5zM784 282h12.5v6.5h-12.5zM238 288h6.5v6.5h-6.5zM340 288h12.5v6.5h-12.5zM364 288h6.5v6.5h-6.5zM544 288h6.5v6.5h-6.5zM328 294h6.5v6.5h-6.5zM448 294h6.5v6.5h-6.5zM544 294h6.5v6.5h-6.5zM322 300h6.5v6.5h-6.5zM418 300h6.5v6.5h-6.5zM550 300h18.5v6.5h-18.5zM586 300h12.5v6.5h-12.5zM616 300h6.5v6.5h-6.5zM250 306h6.5v6.5h-6.5zM316 306h6.5v6.5h-6.5zM424 306h18.5v6.5h-18.5zM622 306h6.5v6.5h-6.5zM256 312h6.5v6.5h-6.5zM310 312h6.5v6.5h-6.5zM628 312h6.5v6.5h-6.5zM256 318h12.5v6.5h-12.5zM304 318h6.5v6.5h-6.5zM262 324h30.5v6.5h-30.5zM298 324h12.5v6.5h-12.5zM286 330h18.5v6.5h-18.5zM328 336h12.5v6.5h-12.5zM328 342h18.5v6.5h-18.5zM340 348h12.5v6.5h-12.5zM448 354h12.5v6.5h-12.5zM442 360h18.5v6.5h-18.5zM442 366h12.5v6.5h-12.5zM202 426h24.5v6.5h-24.5zM220 432h6.5v6.5h-6.5zM220 492h6.5v6.5h-6.5zM214 498h6.5v6.5h-6.5zM226 522h6.5v6.5h-6.5zM256 552h6.5v6.5h-6.5zM256 558h6.5v6.5h-6.5zM256 564h6.5v6.5h-6.5zM262 570h6.5v6.5h-6.5zM280 594h6.5v6.5h-6.5zM280 600h6.5v6.5h-6.5zM280 606h6.5v6.5h-6.5zM280 612h6.5v6.5h-6.5z"/><path fill="#ffcf00" d="M790 84h6.5v6.5h-6.5zM790 90h6.5v6.5h-6.5zM790 108h6.5v6.5h-6.5zM790 114h6.5v6.5h-6.5zM778 150h6.5v6.5h-6.5zM508 162h6.5v6.5h-6.5zM520 162h6.5v6.5h-6.5zM772 162h6.5v6.5h-6.5zM508 168h6.5v6.5h-6.5zM550 168h6.5v6.5h-6.5zM772 168h6.5v6.5h-6.5zM508 174h6.5v6.5h-6.5zM526 174h6.5v6.5h-6.5zM508 180h6.5v6.5h-6.5zM766 180h6.5v6.5h-6.5zM760 186h12.5v6.5h-12.5zM754 192h6.5v6.5h-6.5zM508 198h6.5v6.5h-6.5zM838 204h18.5v6.5h-18.5zM898 204h6.5v6.5h-6.5zM910 204h6.5v6.5h-6.5zM862 210h6.5v6.5h-6.5zM892 210h6.5v6.5h-6.5zM916 210h6.5v6.5h-6.5zM514 216h6.5v6.5h-6.5zM652 216h6.5v6.5h-6.5zM922 216h12.5v6.5h-12.5zM370 222h12.5v6.5h-12.5zM940 222h6.5v6.5h-6.5zM388 228h6.5v6.5h-6.5zM514 228h6.5v6.5h-6.5zM658 228h6.5v6.5h-6.5zM826 228h6.5v6.5h-6.5zM946 228h6.5v6.5h-6.5zM298 234h6.5v6.5h-6.5zM406 234h6.5v6.5h-6.5zM658 234h6.5v6.5h-6.5zM826 234h6.5v6.5h-6.5zM946 234h30.5v6.5h-30.5zM286 240h6.5v6.5h-6.5zM424 240h6.5v6.5h-6.5zM514 240h6.5v6.5h-6.5zM952 240h6.5v6.5h-6.5zM274 246h6.5v6.5h-6.5zM442 246h24.5v6.5h-24.5zM820 246h6.5v6.5h-6.5zM268 252h6.5v6.5h-6.5zM466 252h6.5v6.5h-6.5zM814 252h6.5v6.5h-6.5zM262 258h6.5v6.5h-6.5zM520 258h6.5v6.5h-6.5zM808 258h6.5v6.5h-6.5zM250 264h6.5v6.5h-6.5zM460 264h6.5v6.5h-6.5zM532 264h6.5v6.5h-6.5zM802 264h6.5v6.5h-6.5zM244 270h6.5v6.5h-6.5zM454 270h6.5v6.5h-6.5zM544 270h6.5v6.5h-6.5zM790 270h12.5v6.5h-12.5zM646 276h6.5v6.5h-6.5zM784 276h6.5v6.5h-6.5zM376 282h6.5v6.5h-6.5zM400 282h6.5v6.5h-6.5zM334 288h6.5v6.5h-6.5zM352 288h12.5v6.5h-12.5zM406 288h6.5v6.5h-6.5zM244 294h6.5v6.5h-6.5zM412 294h6.5v6.5h-6.5zM550 294h12.5v6.5h-12.5zM586 294h36.5v6.5h-36.5zM250 300h12.5v6.5h-12.5zM442 300h6.5v6.5h-6.5zM568 300h18.5v6.5h-18.5zM622 300h6.5v6.5h-6.5zM640 300h6.5v6.5h-6.5zM256 306h24.5v6.5h-24.5zM310 306h6.5v6.5h-6.5zM634 306h6.5v6.5h-6.5zM262 312h48.5v6.5h-48.5zM268 318h36.5v6.5h-36.5zM292 324h6.5v6.5h-6.5zM202 432h18.5v6.5h-18.5zM220 438h6.5v6.5h-6.5zM220 444h6.5v6.5h-6.5zM220 450h6.5v6.5h-6.5zM220 456h6.5v6.5h-6.5zM220 462h6.5v6.5h-6.5zM220 468h6.5v6.5h-6.5zM220 486h6.5v6.5h-6.5zM208 492h12.5v6.5h-12.5zM250 540h6.5v6.5h-6.5zM256 570h6.5v6.5h-6.5zM268 576h6.5v6.5h-6.5zM274 588h6.5v6.5h-6.5zM274 606h6.5v6.5h-6.5z"/><path fill="#ffc700" d="M796 78h6.5v6.5h-6.5zM796 84h6.5v6.5h-6.5zM796 90h6.5v6.5h-6.5zM796 96h6.5v6.5h-6.5zM790 120h6.5v6.5h-6.5zM784 138h6.5v6.5h-6.5zM778 156h6.5v6.5h-6.5zM514 162h6.5v6.5h-6.5zM514 168h12.5v6.5h-12.5zM514 174h12.5v6.5h-12.5zM772 174h6.5v6.5h-6.5zM514 180h6.5v6.5h-6.5zM526 180h18.5v6.5h-18.5zM772 180h6.5v6.5h-6.5zM508 186h6.5v6.5h-6.5zM508 192h6.5v6.5h-6.5zM760 192h12.5v6.5h-12.5zM754 198h18.5v6.5h-18.5zM904 198h12.5v6.5h-12.5zM760 204h18.5v6.5h-18.5zM856 204h6.5v6.5h-6.5zM892 204h6.5v6.5h-6.5zM916 204h6.5v6.5h-6.5zM514 210h6.5v6.5h-6.5zM760 210h18.5v6.5h-18.5zM832 210h6.5v6.5h-6.5zM868 210h24.5v6.5h-24.5zM922 210h6.5v6.5h-6.5zM760 216h18.5v6.5h-18.5zM934 216h12.5v6.5h-12.5zM766 222h12.5v6.5h-12.5zM826 222h6.5v6.5h-6.5zM946 222h6.5v6.5h-6.5zM334 228h30.5v6.5h-30.5zM952 228h6.5v6.5h-6.5zM964 228h12.5v6.5h-12.5zM400 234h6.5v6.5h-6.5zM514 234h6.5v6.5h-6.5zM292 240h6.5v6.5h-6.5zM412 240h12.5v6.5h-12.5zM652 240h6.5v6.5h-6.5zM820 240h6.5v6.5h-6.5zM280 246h6.5v6.5h-6.5zM436 246h6.5v6.5h-6.5zM652 246h6.5v6.5h-6.5zM814 246h6.5v6.5h-6.5zM520 252h6.5v6.5h-6.5zM652 252h6.5v6.5h-6.5zM808 252h6.5v6.5h-6.5zM460 258h6.5v6.5h-6.5zM652 258h6.5v6.5h-6.5zM796 258h12.5v6.5h-12.5zM256 264h6.5v6.5h-6.5zM538 264h12.5v6.5h-12.5zM652 264h6.5v6.5h-6.5zM778 264h24.5v6.5h-24.5zM250 270h6.5v6.5h-6.5zM784 270h6.5v6.5h-6.5zM244 276h6.5v6.5h-6.5zM382 276h24.5v6.5h-24.5zM550 276h6.5v6.5h-6.5zM640 276h6.5v6.5h-6.5zM244 282h6.5v6.5h-6.5zM334 282h42.5v6.5h-42.5zM406 282h6.5v6.5h-6.5zM448 282h6.5v6.5h-6.5zM550 282h6.5v6.5h-6.5zM568 282h24.5v6.5h-24.5zM640 282h6.5v6.5h-6.5zM244 288h6.5v6.5h-6.5zM328 288h6.5v6.5h-6.5zM412 288h6.5v6.5h-6.5zM448 288h6.5v6.5h-6.5zM550 288h48.5v6.5h-48.5zM616 288h6.5v6.5h-6.5zM640 288h6.5v6.5h-6.5zM250 294h24.5v6.5h-24.5zM322 294h6.5v6.5h-6.5zM418 294h6.5v6.5h-6.5zM562 294h24.5v6.5h-24.5zM622 294h6.5v6.5h-6.5zM640 294h6.5v6.5h-6.5zM262 300h30.5v6.5h-30.5zM316 300h6.5v6.5h-6.5zM424 300h6.5v6.5h-6.5zM436 300h6.5v6.5h-6.5zM280 306h30.5v6.5h-30.5zM628 306h6.5v6.5h-6.5zM202 438h18.5v6.5h-18.5zM202 444h18.5v6.5h-18.5zM202 450h18.5v6.5h-18.5zM202 456h18.5v6.5h-18.5zM202 462h18.5v6.5h-18.5zM202 468h18.5v6.5h-18.5zM220 474h6.5v6.5h-6.5zM220 480h6.5v6.5h-6.5zM202 486h18.5v6.5h-18.5zM220 528h6.5v6.5h-6.5zM238 528h6.5v6.5h-6.5zM250 564h6.5v6.5h-6.5zM250 570h6.5v6.5h-6.5zM274 594h6.5v6.5h-6.5zM274 600h6.5v6.5h-6.5z"/><path fill="#ffbf00" d="M802 78h12.5v6.5h-12.5zM802 84h6.5v6.5h-6.5zM796 102h6.5v6.5h-6.5zM796 108h6.5v6.5h-6.5zM790 126h6.5v6.5h-6.5zM784 144h6.5v6.5h-6.5zM778 162h6.5v6.5h-6.5zM778 168h6.5v6.5h-6.5zM550 174h6.5v6.5h-6.5zM520 180h6.5v6.5h-6.5zM544 180h6.5v6.5h-6.5zM646 186h6.5v6.5h-6.5zM772 186h6.5v6.5h-6.5zM772 192h6.5v6.5h-6.5zM904 192h12.5v6.5h-12.5zM772 198h6.5v6.5h-6.5zM838 198h24.5v6.5h-24.5zM898 198h6.5v6.5h-6.5zM514 204h6.5v6.5h-6.5zM778 204h6.5v6.5h-6.5zM832 204h6.5v6.5h-6.5zM862 204h30.5v6.5h-30.5zM778 210h6.5v6.5h-6.5zM928 210h12.5v6.5h-12.5zM778 216h6.5v6.5h-6.5zM826 216h6.5v6.5h-6.5zM946 216h6.5v6.5h-6.5zM970 216h6.5v6.5h-6.5zM520 222h6.5v6.5h-6.5zM778 222h6.5v6.5h-6.5zM952 222h24.5v6.5h-24.5zM310 228h6.5v6.5h-6.5zM328 228h6.5v6.5h-6.5zM364 228h6.5v6.5h-6.5zM382 228h6.5v6.5h-6.5zM652 228h6.5v6.5h-6.5zM766 228h24.5v6.5h-24.5zM820 228h6.5v6.5h-6.5zM958 228h6.5v6.5h-6.5zM304 234h6.5v6.5h-6.5zM394 234h6.5v6.5h-6.5zM652 234h6.5v6.5h-6.5zM772 234h18.5v6.5h-18.5zM820 234h6.5v6.5h-6.5zM298 240h6.5v6.5h-6.5zM400 240h12.5v6.5h-12.5zM772 240h18.5v6.5h-18.5zM814 240h6.5v6.5h-6.5zM286 246h6.5v6.5h-6.5zM430 246h6.5v6.5h-6.5zM520 246h6.5v6.5h-6.5zM772 246h24.5v6.5h-24.5zM808 246h6.5v6.5h-6.5zM274 252h6.5v6.5h-6.5zM460 252h6.5v6.5h-6.5zM778 252h30.5v6.5h-30.5zM268 258h6.5v6.5h-6.5zM526 258h6.5v6.5h-6.5zM778 258h18.5v6.5h-18.5zM262 264h6.5v6.5h-6.5zM454 264h6.5v6.5h-6.5zM550 264h6.5v6.5h-6.5zM646 264h6.5v6.5h-6.5zM256 270h12.5v6.5h-12.5zM388 270h24.5v6.5h-24.5zM448 270h6.5v6.5h-6.5zM550 270h6.5v6.5h-6.5zM640 270h12.5v6.5h-12.5zM250 276h12.5v6.5h-12.5zM340 276h18.5v6.5h-18.5zM364 276h18.5v6.5h-18.5zM406 276h6.5v6.5h-6.5zM448 276h6.5v6.5h-6.5zM574 276h12.5v6.5h-12.5zM634 276h6.5v6.5h-6.5zM250 282h18.5v6.5h-18.5zM328 282h6.5v6.5h-6.5zM412 282h6.5v6.5h-6.5zM556 282h12.5v6.5h-12.5zM592 282h6.5v6.5h-6.5zM622 282h6.5v6.5h-6.5zM634 282h6.5v6.5h-6.5zM250 288h36.5v6.5h-36.5zM322 288h6.5v6.5h-6.5zM418 288h6.5v6.5h-6.5zM598 288h18.5v6.5h-18.5zM622 288h6.5v6.5h-6.5zM274 294h24.5v6.5h-24.5zM316 294h6.5v6.5h-6.5zM424 294h6.5v6.5h-6.5zM442 294h6.5v6.5h-6.5zM292 300h24.5v6.5h-24.5zM430 300h6.5v6.5h-6.5zM628 300h12.5v6.5h-12.5zM202 474h18.5v6.5h-18.5zM202 480h18.5v6.5h-18.5zM250 576h18.5v6.5h-18.5zM268 582h6.5v6.5h-6.5zM268 600h6.5v6.5h-6.5z"/><path fill="#ffb700" d="M808 84h6.5v6.5h-6.5zM802 90h6.5v6.5h-6.5zM802 96h6.5v6.5h-6.5zM796 114h6.5v6.5h-6.5zM790 132h6.5v6.5h-6.5zM784 150h6.5v6.5h-6.5zM784 156h6.5v6.5h-6.5zM556 162h6.5v6.5h-6.5zM556 168h6.5v6.5h-6.5zM778 174h6.5v6.5h-6.5zM778 180h6.5v6.5h-6.5zM514 186h30.5v6.5h-30.5zM778 186h6.5v6.5h-6.5zM778 192h6.5v6.5h-6.5zM898 192h6.5v6.5h-6.5zM916 192h6.5v6.5h-6.5zM514 198h6.5v6.5h-6.5zM778 198h12.5v6.5h-12.5zM832 198h6.5v6.5h-6.5zM862 198h12.5v6.5h-12.5zM886 198h12.5v6.5h-12.5zM916 198h6.5v6.5h-6.5zM646 204h6.5v6.5h-6.5zM784 204h6.5v6.5h-6.5zM826 204h6.5v6.5h-6.5zM922 204h6.5v6.5h-6.5zM646 210h6.5v6.5h-6.5zM784 210h6.5v6.5h-6.5zM826 210h6.5v6.5h-6.5zM940 210h12.5v6.5h-12.5zM964 210h12.5v6.5h-12.5zM520 216h6.5v6.5h-6.5zM784 216h6.5v6.5h-6.5zM952 216h18.5v6.5h-18.5zM652 222h6.5v6.5h-6.5zM784 222h12.5v6.5h-12.5zM820 222h6.5v6.5h-6.5zM370 228h12.5v6.5h-12.5zM520 228h6.5v6.5h-6.5zM790 228h30.5v6.5h-30.5zM346 234h6.5v6.5h-6.5zM388 234h6.5v6.5h-6.5zM790 234h30.5v6.5h-30.5zM394 240h6.5v6.5h-6.5zM520 240h6.5v6.5h-6.5zM646 240h6.5v6.5h-6.5zM790 240h24.5v6.5h-24.5zM292 246h6.5v6.5h-6.5zM400 246h30.5v6.5h-30.5zM796 246h12.5v6.5h-12.5zM280 252h6.5v6.5h-6.5zM436 252h24.5v6.5h-24.5zM274 258h6.5v6.5h-6.5zM448 258h12.5v6.5h-12.5zM532 258h24.5v6.5h-24.5zM646 258h6.5v6.5h-6.5zM268 264h6.5v6.5h-6.5zM388 264h24.5v6.5h-24.5zM448 264h6.5v6.5h-6.5zM640 264h6.5v6.5h-6.5zM268 270h12.5v6.5h-12.5zM340 270h48.5v6.5h-48.5zM412 270h6.5v6.5h-6.5zM634 270h6.5v6.5h-6.5zM262 276h24.5v6.5h-24.5zM328 276h12.5v6.5h-12.5zM358 276h6.5v6.5h-6.5zM412 276h6.5v6.5h-6.5zM556 276h18.5v6.5h-18.5zM586 276h6.5v6.5h-6.5zM622 276h12.5v6.5h-12.5zM268 282h24.5v6.5h-24.5zM322 282h6.5v6.5h-6.5zM418 282h6.5v6.5h-6.5zM598 282h6.5v6.5h-6.5zM616 282h6.5v6.5h-6.5zM628 282h6.5v6.5h-6.5zM286 288h18.5v6.5h-18.5zM310 288h12.5v6.5h-12.5zM424 288h6.5v6.5h-6.5zM442 288h6.5v6.5h-6.5zM628 288h12.5v6.5h-12.5zM298 294h18.5v6.5h-18.5zM430 294h12.5v6.5h-12.5zM628 294h12.5v6.5h-12.5zM226 528h6.5v6.5h-6.5zM244 534h6.5v6.5h-6.5zM250 546h6.5v6.5h-6.5zM250 558h6.5v6.5h-6.5zM268 588h6.5v6.5h-6.5zM268 594h6.5v6.5h-6.5z"/><path fill="#ffaf00" d="M814 78h6.5v6.5h-6.5zM808 90h6.5v6.5h-6.5zM802 102h6.5v6.5h-6.5zM796 120h6.5v6.5h-6.5zM790 138h6.5v6.5h-6.5zM592 162h12.5v6.5h-12.5zM784 162h6.5v6.5h-6.5zM592 168h18.5v6.5h-18.5zM784 168h6.5v6.5h-6.5zM556 174h6.5v6.5h-6.5zM592 174h12.5v6.5h-12.5zM784 174h6.5v6.5h-6.5zM550 180h6.5v6.5h-6.5zM784 180h6.5v6.5h-6.5zM544 186h6.5v6.5h-6.5zM784 186h6.5v6.5h-6.5zM904 186h12.5v6.5h-12.5zM514 192h6.5v6.5h-6.5zM646 192h6.5v6.5h-6.5zM784 192h12.5v6.5h-12.5zM832 192h36.5v6.5h-36.5zM892 192h6.5v6.5h-6.5zM646 198h6.5v6.5h-6.5zM790 198h6.5v6.5h-6.5zM826 198h6.5v6.5h-6.5zM874 198h12.5v6.5h-12.5zM922 198h6.5v6.5h-6.5zM790 204h12.5v6.5h-12.5zM928 204h48.5v6.5h-48.5zM520 210h6.5v6.5h-6.5zM790 210h12.5v6.5h-12.5zM820 210h6.5v6.5h-6.5zM952 210h12.5v6.5h-12.5zM790 216h36.5v6.5h-36.5zM796 222h24.5v6.5h-24.5zM316 228h12.5v6.5h-12.5zM334 234h12.5v6.5h-12.5zM352 234h36.5v6.5h-36.5zM520 234h6.5v6.5h-6.5zM646 234h6.5v6.5h-6.5zM304 240h6.5v6.5h-6.5zM388 240h6.5v6.5h-6.5zM526 240h30.5v6.5h-30.5zM298 246h6.5v6.5h-6.5zM394 246h6.5v6.5h-6.5zM526 246h30.5v6.5h-30.5zM646 246h6.5v6.5h-6.5zM286 252h18.5v6.5h-18.5zM394 252h30.5v6.5h-30.5zM430 252h6.5v6.5h-6.5zM526 252h30.5v6.5h-30.5zM646 252h6.5v6.5h-6.5zM280 258h6.5v6.5h-6.5zM304 258h12.5v6.5h-12.5zM370 258h6.5v6.5h-6.5zM388 258h30.5v6.5h-30.5zM436 258h12.5v6.5h-12.5zM640 258h6.5v6.5h-6.5zM274 264h12.5v6.5h-12.5zM304 264h18.5v6.5h-18.5zM340 264h48.5v6.5h-48.5zM412 264h12.5v6.5h-12.5zM442 264h6.5v6.5h-6.5zM556 264h6.5v6.5h-6.5zM634 264h6.5v6.5h-6.5zM280 270h12.5v6.5h-12.5zM310 270h30.5v6.5h-30.5zM418 270h6.5v6.5h-6.5zM442 270h6.5v6.5h-6.5zM556 270h6.5v6.5h-6.5zM568 270h18.5v6.5h-18.5zM628 270h6.5v6.5h-6.5zM286 276h18.5v6.5h-18.5zM310 276h18.5v6.5h-18.5zM418 276h6.5v6.5h-6.5zM442 276h6.5v6.5h-6.5zM592 276h6.5v6.5h-6.5zM616 276h6.5v6.5h-6.5zM292 282h30.5v6.5h-30.5zM424 282h6.5v6.5h-6.5zM442 282h6.5v6.5h-6.5zM604 282h12.5v6.5h-12.5zM304 288h6.5v6.5h-6.5zM430 288h12.5v6.5h-12.5zM232 528h6.5v6.5h-6.5zM250 552h6.5v6.5h-6.5zM250 582h18.5v6.5h-18.5z"/><path fill="#ffa700" d="M814 84h6.5v6.5h-6.5zM808 96h6.5v6.5h-6.5zM802 108h6.5v6.5h-6.5zM796 126h6.5v6.5h-6.5zM790 144h6.5v6.5h-6.5zM562 162h30.5v6.5h-30.5zM562 168h30.5v6.5h-30.5zM790 168h6.5v6.5h-6.5zM562 174h30.5v6.5h-30.5zM604 174h12.5v6.5h-12.5zM790 174h6.5v6.5h-6.5zM556 180h6.5v6.5h-6.5zM580 180h30.5v6.5h-30.5zM790 180h6.5v6.5h-6.5zM904 180h12.5v6.5h-12.5zM550 186h6.5v6.5h-6.5zM790 186h12.5v6.5h-12.5zM850 186h18.5v6.5h-18.5zM898 186h6.5v6.5h-6.5zM916 186h6.5v6.5h-6.5zM520 192h30.5v6.5h-30.5zM796 192h12.5v6.5h-12.5zM826 192h6.5v6.5h-6.5zM868 192h24.5v6.5h-24.5zM922 192h6.5v6.5h-6.5zM520 198h6.5v6.5h-6.5zM796 198h12.5v6.5h-12.5zM820 198h6.5v6.5h-6.5zM928 198h6.5v6.5h-6.5zM952 198h24.5v6.5h-24.5zM520 204h6.5v6.5h-6.5zM802 204h6.5v6.5h-6.5zM820 204h6.5v6.5h-6.5zM802 210h18.5v6.5h-18.5zM526 216h6.5v6.5h-6.5zM646 216h6.5v6.5h-6.5zM526 222h6.5v6.5h-6.5zM526 228h12.5v6.5h-12.5zM646 228h6.5v6.5h-6.5zM310 234h6.5v6.5h-6.5zM328 234h6.5v6.5h-6.5zM526 234h24.5v6.5h-24.5zM340 240h48.5v6.5h-48.5zM556 240h6.5v6.5h-6.5zM640 240h6.5v6.5h-6.5zM304 246h6.5v6.5h-6.5zM364 246h30.5v6.5h-30.5zM556 246h12.5v6.5h-12.5zM640 246h6.5v6.5h-6.5zM304 252h12.5v6.5h-12.5zM358 252h36.5v6.5h-36.5zM424 252h6.5v6.5h-6.5zM556 252h12.5v6.5h-12.5zM640 252h6.5v6.5h-6.5zM286 258h18.5v6.5h-18.5zM316 258h6.5v6.5h-6.5zM340 258h30.5v6.5h-30.5zM376 258h12.5v6.5h-12.5zM418 258h18.5v6.5h-18.5zM556 258h6.5v6.5h-6.5zM634 258h6.5v6.5h-6.5zM286 264h18.5v6.5h-18.5zM322 264h18.5v6.5h-18.5zM424 264h18.5v6.5h-18.5zM562 264h24.5v6.5h-24.5zM628 264h6.5v6.5h-6.5zM292 270h18.5v6.5h-18.5zM424 270h18.5v6.5h-18.5zM562 270h6.5v6.5h-6.5zM586 270h6.5v6.5h-6.5zM622 270h6.5v6.5h-6.5zM304 276h6.5v6.5h-6.5zM424 276h18.5v6.5h-18.5zM598 276h6.5v6.5h-6.5zM610 276h6.5v6.5h-6.5zM430 282h12.5v6.5h-12.5zM244 558h6.5v6.5h-6.5zM256 588h12.5v6.5h-12.5zM262 594h6.5v6.5h-6.5z"/><path fill="#ff9f00" d="M820 78h6.5v6.5h-6.5zM814 90h6.5v6.5h-6.5zM808 102h6.5v6.5h-6.5zM802 114h6.5v6.5h-6.5zM796 132h6.5v6.5h-6.5zM790 150h6.5v6.5h-6.5zM790 156h6.5v6.5h-6.5zM790 162h6.5v6.5h-6.5zM616 174h6.5v6.5h-6.5zM796 174h6.5v6.5h-6.5zM904 174h12.5v6.5h-12.5zM562 180h18.5v6.5h-18.5zM610 180h6.5v6.5h-6.5zM796 180h12.5v6.5h-12.5zM850 180h18.5v6.5h-18.5zM898 180h6.5v6.5h-6.5zM916 180h6.5v6.5h-6.5zM556 186h6.5v6.5h-6.5zM580 186h24.5v6.5h-24.5zM640 186h6.5v6.5h-6.5zM802 186h12.5v6.5h-12.5zM820 186h30.5v6.5h-30.5zM868 186h30.5v6.5h-30.5zM922 186h6.5v6.5h-6.5zM964 186h12.5v6.5h-12.5zM550 192h6.5v6.5h-6.5zM640 192h6.5v6.5h-6.5zM808 192h18.5v6.5h-18.5zM928 192h6.5v6.5h-6.5zM952 192h24.5v6.5h-24.5zM526 198h30.5v6.5h-30.5zM808 198h12.5v6.5h-12.5zM934 198h18.5v6.5h-18.5zM526 204h30.5v6.5h-30.5zM640 204h6.5v6.5h-6.5zM808 204h12.5v6.5h-12.5zM526 210h24.5v6.5h-24.5zM640 210h6.5v6.5h-6.5zM532 216h12.5v6.5h-12.5zM532 222h6.5v6.5h-6.5zM646 222h6.5v6.5h-6.5zM538 228h6.5v6.5h-6.5zM316 234h12.5v6.5h-12.5zM550 234h12.5v6.5h-12.5zM640 234h6.5v6.5h-6.5zM310 240h6.5v6.5h-6.5zM334 240h6.5v6.5h-6.5zM562 240h6.5v6.5h-6.5zM310 246h6.5v6.5h-6.5zM334 246h30.5v6.5h-30.5zM568 246h6.5v6.5h-6.5zM316 252h6.5v6.5h-6.5zM334 252h24.5v6.5h-24.5zM568 252h12.5v6.5h-12.5zM634 252h6.5v6.5h-6.5zM322 258h18.5v6.5h-18.5zM562 258h24.5v6.5h-24.5zM628 258h6.5v6.5h-6.5zM586 264h6.5v6.5h-6.5zM592 270h6.5v6.5h-6.5zM616 270h6.5v6.5h-6.5zM604 276h6.5v6.5h-6.5zM226 534h6.5v6.5h-6.5z"/><path fill="#ff9700" d="M802 120h6.5v6.5h-6.5zM796 138h6.5v6.5h-6.5zM796 162h6.5v6.5h-6.5zM796 168h6.5v6.5h-6.5zM802 174h6.5v6.5h-6.5zM850 174h18.5v6.5h-18.5zM898 174h6.5v6.5h-6.5zM970 174h6.5v6.5h-6.5zM616 180h12.5v6.5h-12.5zM808 180h12.5v6.5h-12.5zM826 180h24.5v6.5h-24.5zM868 180h30.5v6.5h-30.5zM964 180h12.5v6.5h-12.5zM562 186h18.5v6.5h-18.5zM604 186h18.5v6.5h-18.5zM634 186h6.5v6.5h-6.5zM814 186h6.5v6.5h-6.5zM952 186h12.5v6.5h-12.5zM556 192h24.5v6.5h-24.5zM934 192h18.5v6.5h-18.5zM556 198h12.5v6.5h-12.5zM640 198h6.5v6.5h-6.5zM556 204h6.5v6.5h-6.5zM550 210h6.5v6.5h-6.5zM544 216h12.5v6.5h-12.5zM640 216h6.5v6.5h-6.5zM538 222h12.5v6.5h-12.5zM640 222h6.5v6.5h-6.5zM544 228h18.5v6.5h-18.5zM640 228h6.5v6.5h-6.5zM562 234h6.5v6.5h-6.5zM316 240h18.5v6.5h-18.5zM568 240h6.5v6.5h-6.5zM634 240h6.5v6.5h-6.5zM316 246h18.5v6.5h-18.5zM574 246h6.5v6.5h-6.5zM634 246h6.5v6.5h-6.5zM322 252h12.5v6.5h-12.5zM580 252h6.5v6.5h-6.5zM628 252h6.5v6.5h-6.5zM586 258h6.5v6.5h-6.5zM592 264h6.5v6.5h-6.5zM622 264h6.5v6.5h-6.5zM598 270h18.5v6.5h-18.5zM232 534h12.5v6.5h-12.5zM244 540h6.5v6.5h-6.5zM244 552h6.5v6.5h-6.5z"/><path fill="#ff8f00" d="M820 84h6.5v6.5h-6.5zM814 96h6.5v6.5h-6.5zM808 108h6.5v6.5h-6.5zM808 114h6.5v6.5h-6.5zM802 126h6.5v6.5h-6.5zM796 144h6.5v6.5h-6.5zM796 150h6.5v6.5h-6.5zM796 156h6.5v6.5h-6.5zM802 162h6.5v6.5h-6.5zM970 162h6.5v6.5h-6.5zM802 168h6.5v6.5h-6.5zM850 168h18.5v6.5h-18.5zM898 168h24.5v6.5h-24.5zM964 168h12.5v6.5h-12.5zM808 174h12.5v6.5h-12.5zM832 174h18.5v6.5h-18.5zM868 174h30.5v6.5h-30.5zM916 174h6.5v6.5h-6.5zM958 174h12.5v6.5h-12.5zM820 180h6.5v6.5h-6.5zM922 180h6.5v6.5h-6.5zM952 180h12.5v6.5h-12.5zM622 186h12.5v6.5h-12.5zM928 186h24.5v6.5h-24.5zM580 192h60.5v6.5h-60.5zM568 198h18.5v6.5h-18.5zM616 198h24.5v6.5h-24.5zM562 204h18.5v6.5h-18.5zM634 204h6.5v6.5h-6.5zM556 210h24.5v6.5h-24.5zM634 210h6.5v6.5h-6.5zM556 216h24.5v6.5h-24.5zM634 216h6.5v6.5h-6.5zM550 222h18.5v6.5h-18.5zM562 228h12.5v6.5h-12.5zM634 228h6.5v6.5h-6.5zM568 234h6.5v6.5h-6.5zM634 234h6.5v6.5h-6.5zM574 240h6.5v6.5h-6.5zM580 246h6.5v6.5h-6.5zM628 246h6.5v6.5h-6.5zM586 252h12.5v6.5h-12.5zM592 258h12.5v6.5h-12.5zM622 258h6.5v6.5h-6.5zM598 264h24.5v6.5h-24.5z"/><path fill="#ff8700" d="M820 90h6.5v6.5h-6.5zM814 102h6.5v6.5h-6.5zM808 120h6.5v6.5h-6.5zM802 132h6.5v6.5h-6.5zM970 150h6.5v6.5h-6.5zM802 156h6.5v6.5h-6.5zM964 156h12.5v6.5h-12.5zM808 162h6.5v6.5h-6.5zM850 162h18.5v6.5h-18.5zM898 162h24.5v6.5h-24.5zM958 162h12.5v6.5h-12.5zM808 168h12.5v6.5h-12.5zM832 168h18.5v6.5h-18.5zM868 168h30.5v6.5h-30.5zM958 168h6.5v6.5h-6.5zM820 174h12.5v6.5h-12.5zM922 174h6.5v6.5h-6.5zM946 174h12.5v6.5h-12.5zM928 180h24.5v6.5h-24.5zM586 198h6.5v6.5h-6.5zM610 198h6.5v6.5h-6.5zM580 204h12.5v6.5h-12.5zM616 204h18.5v6.5h-18.5zM580 210h6.5v6.5h-6.5zM622 210h12.5v6.5h-12.5zM580 216h6.5v6.5h-6.5zM628 216h6.5v6.5h-6.5zM568 222h18.5v6.5h-18.5zM628 222h12.5v6.5h-12.5zM574 228h6.5v6.5h-6.5zM574 234h6.5v6.5h-6.5zM580 240h6.5v6.5h-6.5zM628 240h6.5v6.5h-6.5zM586 246h18.5v6.5h-18.5zM598 252h18.5v6.5h-18.5zM622 252h6.5v6.5h-6.5zM604 258h18.5v6.5h-18.5zM226 540h6.5v6.5h-6.5zM244 546h6.5v6.5h-6.5z"/><path fill="#ff8000" d="M826 78h6.5v6.5h-6.5zM814 108h6.5v6.5h-6.5zM808 126h6.5v6.5h-6.5zM802 138h6.5v6.5h-6.5zM970 138h6.5v6.5h-6.5zM802 144h6.5v6.5h-6.5zM964 144h12.5v6.5h-12.5zM802 150h6.5v6.5h-6.5zM958 150h12.5v6.5h-12.5zM808 156h6.5v6.5h-6.5zM850 156h18.5v6.5h-18.5zM898 156h24.5v6.5h-24.5zM958 156h6.5v6.5h-6.5zM814 162h36.5v6.5h-36.5zM868 162h30.5v6.5h-30.5zM922 162h6.5v6.5h-6.5zM952 162h6.5v6.5h-6.5zM820 168h12.5v6.5h-12.5zM922 168h6.5v6.5h-6.5zM946 168h12.5v6.5h-12.5zM928 174h18.5v6.5h-18.5zM592 198h18.5v6.5h-18.5zM592 204h6.5v6.5h-6.5zM610 204h6.5v6.5h-6.5zM586 210h12.5v6.5h-12.5zM616 210h6.5v6.5h-6.5zM586 216h6.5v6.5h-6.5zM622 216h6.5v6.5h-6.5zM586 222h6.5v6.5h-6.5zM622 222h6.5v6.5h-6.5zM580 228h12.5v6.5h-12.5zM628 228h6.5v6.5h-6.5zM580 234h12.5v6.5h-12.5zM628 234h6.5v6.5h-6.5zM586 240h12.5v6.5h-12.5zM604 246h24.5v6.5h-24.5zM616 252h6.5v6.5h-6.5zM232 540h12.5v6.5h-12.5zM238 552h6.5v6.5h-6.5z"/><path fill="#ff7800" d="M826 84h6.5v6.5h-6.5zM820 96h6.5v6.5h-6.5zM814 114h6.5v6.5h-6.5zM814 120h6.5v6.5h-6.5zM970 126h6.5v6.5h-6.5zM808 132h6.5v6.5h-6.5zM964 132h12.5v6.5h-12.5zM808 138h6.5v6.5h-6.5zM958 138h12.5v6.5h-12.5zM808 144h6.5v6.5h-6.5zM958 144h6.5v6.5h-6.5zM808 150h6.5v6.5h-6.5zM844 150h36.5v6.5h-36.5zM898 150h18.5v6.5h-18.5zM952 150h6.5v6.5h-6.5zM814 156h36.5v6.5h-36.5zM868 156h30.5v6.5h-30.5zM922 156h6.5v6.5h-6.5zM946 156h12.5v6.5h-12.5zM928 162h24.5v6.5h-24.5zM928 168h18.5v6.5h-18.5zM598 204h12.5v6.5h-12.5zM598 210h18.5v6.5h-18.5zM592 216h6.5v6.5h-6.5zM616 216h6.5v6.5h-6.5zM592 222h6.5v6.5h-6.5zM592 228h6.5v6.5h-6.5zM622 228h6.5v6.5h-6.5zM592 234h6.5v6.5h-6.5zM622 234h6.5v6.5h-6.5zM598 240h30.5v6.5h-30.5zM232 546h12.5v6.5h-12.5z"/><path fill="#ff7000" d="M832 78h6.5v6.5h-6.5zM826 90h6.5v6.5h-6.5zM820 102h6.5v6.5h-6.5zM964 114h12.5v6.5h-12.5zM964 120h12.5v6.5h-12.5zM814 126h6.5v6.5h-6.5zM958 126h12.5v6.5h-12.5zM814 132h6.5v6.5h-6.5zM958 132h6.5v6.5h-6.5zM814 138h6.5v6.5h-6.5zM952 138h6.5v6.5h-6.5zM814 144h12.5v6.5h-12.5zM838 144h78.5v6.5h-78.5zM946 144h12.5v6.5h-12.5zM814 150h30.5v6.5h-30.5zM880 150h18.5v6.5h-18.5zM916 150h12.5v6.5h-12.5zM940 150h12.5v6.5h-12.5zM928 156h18.5v6.5h-18.5zM598 216h18.5v6.5h-18.5zM598 222h6.5v6.5h-6.5zM610 222h12.5v6.5h-12.5zM598 228h6.5v6.5h-6.5zM616 228h6.5v6.5h-6.5zM598 234h24.5v6.5h-24.5z"/><path fill="#ff6800" d="M964 96h12.5v6.5h-12.5zM964 102h12.5v6.5h-12.5zM820 108h6.5v6.5h-6.5zM958 108h18.5v6.5h-18.5zM820 114h6.5v6.5h-6.5zM952 114h12.5v6.5h-12.5zM820 120h6.5v6.5h-6.5zM952 120h12.5v6.5h-12.5zM820 126h6.5v6.5h-6.5zM946 126h12.5v6.5h-12.5zM820 132h96.5v6.5h-96.5zM946 132h12.5v6.5h-12.5zM820 138h102.5v6.5h-102.5zM940 138h12.5v6.5h-12.5zM826 144h12.5v6.5h-12.5zM916 144h30.5v6.5h-30.5zM928 150h12.5v6.5h-12.5zM604 222h6.5v6.5h-6.5zM604 228h12.5v6.5h-12.5z"/><path fill="#ff6000" d="M838 78h6.5v6.5h-6.5zM964 78h12.5v6.5h-12.5zM832 84h6.5v6.5h-6.5zM958 84h18.5v6.5h-18.5zM958 90h18.5v6.5h-18.5zM826 96h6.5v6.5h-6.5zM952 96h12.5v6.5h-12.5zM826 102h6.5v6.5h-6.5zM952 102h12.5v6.5h-12.5zM826 108h6.5v6.5h-6.5zM946 108h12.5v6.5h-12.5zM826 114h6.5v6.5h-6.5zM940 114h12.5v6.5h-12.5zM826 120h12.5v6.5h-12.5zM898 120h18.5v6.5h-18.5zM940 120h12.5v6.5h-12.5zM826 126h96.5v6.5h-96.5zM934 126h12.5v6.5h-12.5zM916 132h30.5v6.5h-30.5zM922 138h18.5v6.5h-18.5z"/><path fill="#ff5800" d="M952 78h12.5v6.5h-12.5zM838 84h6.5v6.5h-6.5zM946 84h12.5v6.5h-12.5zM832 90h6.5v6.5h-6.5zM946 90h12.5v6.5h-12.5zM832 96h6.5v6.5h-6.5zM940 96h12.5v6.5h-12.5zM940 102h12.5v6.5h-12.5zM832 108h6.5v6.5h-6.5zM910 108h12.5v6.5h-12.5zM928 108h18.5v6.5h-18.5zM832 114h108.5v6.5h-108.5zM838 120h60.5v6.5h-60.5zM916 120h24.5v6.5h-24.5zM922 126h12.5v6.5h-12.5z"/><path fill="#ff5000" d="M844 78h12.5v6.5h-12.5zM940 78h12.5v6.5h-12.5zM844 84h6.5v6.5h-6.5zM940 84h6.5v6.5h-6.5zM838 90h6.5v6.5h-6.5zM940 90h6.5v6.5h-6.5zM838 96h6.5v6.5h-6.5zM934 96h6.5v6.5h-6.5zM832 102h12.5v6.5h-12.5zM868 102h18.5v6.5h-18.5zM898 102h42.5v6.5h-42.5zM838 108h72.5v6.5h-72.5zM922 108h6.5v6.5h-6.5z"/><path fill="#ff4800" d="M856 78h36.5v6.5h-36.5zM934 78h6.5v6.5h-6.5zM850 84h42.5v6.5h-42.5zM934 84h6.5v6.5h-6.5zM844 90h78.5v6.5h-78.5zM928 90h12.5v6.5h-12.5zM844 96h90.5v6.5h-90.5zM844 102h24.5v6.5h-24.5zM886 102h12.5v6.5h-12.5z"/><path fill="#ff4000" d="M892 78h42.5v6.5h-42.5zM892 84h42.5v6.5h-42.5zM922 90h6.5v6.5h-6.5z"/></g></g></g>
<g stroke="#000" stroke-opacity="0.24" stroke-width="1" stroke-dasharray="2,6.34" fill="none"><line x1="306.3" x2="306.3" y1="85.0" y2="760.0"/><line x1="473.1" x2="473.1" y1="85.0" y2="760.0"/><line x1="640.0" x2="640.0" y1="85.0" y2="760.0"/><line x1="806.8" x2="806.8" y1="85.0" y2="760.0"/></g><g stroke="#000" stroke-opacity="0.16" stroke-width="1" stroke-dasharray="2.4,5.94" fill="none"><line x1="151.0" x2="964.7" y1="111.5" y2="111.5"/><line x1="151.0" x2="964.7" y1="265.5" y2="265.5"/><line x1="151.0" x2="964.7" y1="413.9" y2="413.9"/><line x1="151.0" x2="964.7" y1="557.8" y2="557.8"/><line x1="151.0" x2="964.7" y1="698.0" y2="698.0"/></g>
<polygon points="139.4,75.4 222.8,75.4 222.8,84.0 148.0,84.0" fill="#fff" stroke="#000" stroke-width="0.8"/>
<polygon points="139.4,768.4 222.8,768.4 222.8,760.0 148.0,760.0" fill="#000" stroke="#000" stroke-width="0.8"/>
<polygon points="222.8,75.4 306.3,75.4 306.3,84.0 222.8,84.0" fill="#000" stroke="#000" stroke-width="0.8"/>
<polygon points="222.8,768.4 306.3,768.4 306.3,760.0 222.8,760.0" fill="#fff" stroke="#000" stroke-width="0.8"/>
<polygon points="306.3,75.4 389.7,75.4 389.7,84.0 306.3,84.0" fill="#fff" stroke="#000" stroke-width="0.8"/>
<polygon points="306.3,768.4 389.7,768.4 389.7,760.0 306.3,760.0" fill="#000" stroke="#000" stroke-width="0.8"/>
<polygon points="389.7,75.4 473.1,75.4 473.1,84.0 389.7,84.0" fill="#000" stroke="#000" stroke-width="0.8"/>
<polygon points="389.7,768.4 473.1,768.4 473.1,760.0 389.7,760.0" fill="#fff" stroke="#000" stroke-width="0.8"/>
<polygon points="473.1,75.4 556.5,75.4 556.5,84.0 473.1,84.0" fill="#fff" stroke="#000" stroke-width="0.8"/>
<polygon points="473.1,768.4 556.5,768.4 556.5,760.0 473.1,760.0" fill="#000" stroke="#000" stroke-width="0.8"/>
<polygon points="556.5,75.4 640.0,75.4 640.0,84.0 556.5,84.0" fill="#000" stroke="#000" stroke-width="0.8"/>
<polygon points="556.5,768.4 640.0,768.4 640.0,760.0 556.5,760.0" fill="#fff" stroke="#000" stroke-width="0.8"/>
<polygon points="640.0,75.4 723.4,75.4 723.4,84.0 640.0,84.0" fill="#fff" stroke="#000" stroke-width="0.8"/>
<polygon points="640.0,768.4 723.4,768.4 723.4,760.0 640.0,760.0" fill="#000" stroke="#000" stroke-width="0.8"/>
<polygon points="723.4,75.4 806.8,75.4 806.8,84.0 723.4,84.0" fill="#000" stroke="#000" stroke-width="0.8"/>
<polygon points="723.4,768.4 806.8,768.4 806.8,760.0 723.4,760.0" fill="#fff" stroke="#000" stroke-width="0.8"/>
<polygon points="806.8,75.4 890.3,75.4 890.3,84.0 806.8,84.0" fill="#fff" stroke="#000" stroke-width="0.8"/>
<polygon points="806.8,768.4 890.3,768.4 890.3,760.0 806.8,760.0" fill="#000" stroke="#000" stroke-width="0.8"/>
<polygon points="890.3,75.4 973.7,75.4 964.7,84.0 890.3,84.0" fill="#000" stroke="#000" stroke-width="0.8"/>
<polygon points="890.3,768.4 973.7,768.4 964.7,760.0 890.3,760.0" fill="#fff" stroke="#000" stroke-width="0.8"/>
<polygon points="139.4,75.4 139.4,93.3 148.0,93.3 148.0,84.0" fill="#fff" stroke="#000" stroke-width="0.8"/>
<polygon points="973.7,75.4 973.7,93.3 964.7,93.3 964.7,84.0" fill="#000" stroke="#000" stroke-width="0.8"/>
<polygon points="139.4,93.3 139.4,111.5 148.0,111.5 148.0,93.3" fill="#000" stroke="#000" stroke-width="0.8"/>
<polygon points="973.7,93.3 973.7,111.5 964.7,111.5 964.7,93.3" fill="#fff" stroke="#000" stroke-width="0.8"/>
<polygon points="139.4,111.5 139.4,189.3 148.0,189.3 148.0,111.5" fill="#fff" stroke="#000" stroke-width="0.8"/>
<polygon points="973.7,111.5 973.7,189.3 964.7,189.3 964.7,111.5" fill="#000" stroke="#000" stroke-width="0.8"/>
<polygon points="139.4,189.3 139.4,265.5 148.0,265.5 148.0,189.3" fill="#000" stroke="#000" stroke-width="0.8"/>
<polygon points="973.7,189.3 973.7,265.5 964.7,265.5 964.7,189.3" fill="#fff" stroke="#000" stroke-width="0.8"/>
<polygon points="139.4,265.5 139.4,340.3 148.0,340.3 148.0,265.5" fill="#fff" stroke="#000" stroke-width="0.8"/>
<polygon points="973.7,265.5 973.7,340.3 964.7,340.3 964.7,265.5" fill="#000" stroke="#000" stroke-width="0.8"/>
<polygon points="139.4,340.3 139.4,413.9 148.0,413.9 148.0,340.3" fill="#000" stroke="#000" stroke-width="0.8"/>
<polygon points="973.7,340.3 973.7,413.9 964.7,413.9 964.7,340.3" fill="#fff" stroke="#000" stroke-width="0.8"/>
<polygon points="139.4,413.9 139.4,486.3 148.0,486.3 148.0,413.9" fill="#fff" stroke="#000" stroke-width="0.8"/>
<polygon points="973.7,413.9 973.7,486.3 964.7,486.3 964.7,413.9" fill="#000" stroke="#000" stroke-width="0.8"/>
<polygon points="139.4,486.3 139.4,557.8 148.0,557.8 148.0,486.3" fill="#000" stroke="#000" stroke-width="0.8"/>
<polygon points="973.7,486.3 973.7,557.8 964.7,557.8 964.7,486.3" fill="#fff" stroke="#000" stroke-width="0.8"/>
<polygon points="139.4,557.8 139.4,628.3 148.0,628.3 148.0,557.8" fill="#fff" stroke="#000" stroke-width="0.8"/>
<polygon points="973.7,557.8 973.7,628.3 964.7,628.3 964.7,557.8" fill="#000" stroke="#000" stroke-width="0.8"/>
<polygon points="139.4,628.3 139.4,698.0 148.0,698.0 148.0,628.3" fill="#000" stroke="#000" stroke-width="0.8"/>
<polygon points="973.7,628.3 973.7,698.0 964.7,698.0 964.7,628.3" fill="#fff" stroke="#000" stroke-width="0.8"/>
<polygon points="139.4,698.0 139.4,732.6 148.0,732.6 148.0,698.0" fill="#fff" stroke="#000" stroke-width="0.8"/>
<polygon points="973.7,698.0 973.7,732.6 964.7,732.6 964.7,698.0" fill="#000" stroke="#000" stroke-width="0.8"/>
<polygon points="139.4,732.6 139.4,768.4 148.0,760.0 148.0,732.6" fill="#000" stroke="#000" stroke-width="0.8"/>
<polygon points="973.7,732.6 973.7,768.4 964.7,760.0 964.7,732.6" fill="#fff" stroke="#000" stroke-width="0.8"/>
<defs><clipPath id="fr"><rect x="139.4" y="75.4" width="834.3" height="693"/></clipPath></defs><g fill="none" stroke="#674100" stroke-linejoin="round" stroke-linecap="round" clip-path="url(#fr)"><path d="M821.2 75.0L810.0 83.8L805.0 85.5L800.0 90.0L795.0 91.2L790.0 96.2L786.2 95.5L782.5 100.0L779.5 105.0L777.5 110.0L773.8 112.5L770.0 118.8L767.0 122.5L765.0 128.8L761.2 133.8L758.8 140.0L754.5 143.8L756.2 147.5L760.0 157.5L758.8 170.0L761.2 185.0L766.2 200.0L772.5 215.0L778.8 230.0L785.0 242.5L788.8 247.5L786.2 255.0L791.2 267.5L796.2 282.5L800.0 290.0L804.5 302.5L806.2 315.0L806.2 330.0L803.8 342.5L800.0 355.0L796.2 365.0L791.2 370.0L782.5 373.8L775.0 372.5L770.0 367.5L768.8 360.0L766.2 352.5L760.0 347.5L752.5 345.0L747.5 340.0L745.0 330.0L738.8 325.0L733.8 317.5L730.0 307.5L725.0 297.5L720.0 287.5L716.2 280.0L713.8 270.0L712.5 262.5L715.0 252.5L717.5 242.5L717.5 232.5L713.8 223.8L706.2 222.5L700.0 213.8L693.8 205.0L686.2 195.0L678.8 188.8L670.0 185.5L661.2 187.5L655.0 193.8L646.2 198.8L637.5 203.8L630.0 201.2L626.2 195.0L620.0 187.5L620.0 183.8L612.5 178.8L605.0 176.2L600.0 172.5L590.0 171.2L580.0 173.0L570.0 171.2L562.5 173.8L555.0 176.2L548.8 178.8L545.0 176.2L542.5 167.5L540.5 159.5L538.0 161.2L536.2 175.0L530.0 175.0L522.5 176.2L512.5 173.8L502.5 175.0L493.8 177.5L496.2 182.5L500.0 186.2L493.8 190.0L488.8 196.2L485.0 202.5L488.8 210.0L493.8 215.0L502.5 217.5L506.2 222.5L501.2 226.2L493.8 230.0L497.5 220.0L487.5 216.2L480.0 215.0L475.0 210.0L466.2 207.5L467.5 215.0L462.5 221.2L455.0 217.5L447.5 222.5L440.0 226.2L462.5 222.5L450.0 225.0L440.0 222.5L430.0 213.8L420.0 205.0L407.5 207.5L392.5 206.2L377.5 201.2L362.5 197.5L345.0 200.0L330.0 205.0L316.2 212.5L305.0 222.5L292.5 232.5L275.0 241.2L257.5 251.2L245.0 258.8L236.2 270.0L230.0 280.0L226.2 295.0L227.5 310.0L231.2 325.0L233.8 345.0L228.8 365.0L221.2 378.8L221.2 375.0L217.5 392.5L215.0 412.5L213.8 435.0L211.2 460.0L211.2 477.5L215.0 490.0L221.2 502.5L226.2 515.0L233.8 532.5L243.8 546.2L253.8 560.0L260.0 572.5L263.8 580.0L271.2 588.8L277.5 598.8L285.0 602.5L297.5 603.8L306.2 606.2L315.0 613.8L322.5 621.2L335.0 620.0L350.0 615.0L365.0 612.5L380.0 610.0L392.5 605.5L405.0 603.8L420.0 601.2L432.5 593.8L442.5 586.2L448.8 577.5L451.2 565.0L456.2 555.0L448.8 572.5L452.5 565.0L457.5 557.5L457.5 540.0L460.0 525.0L466.2 517.5L477.5 513.8L495.0 510.0L515.0 506.2L525.0 502.5L537.5 500.0L550.0 501.2L560.0 503.8L570.0 502.0L577.5 506.2L581.2 513.8L578.8 525.0L573.8 535.0L566.2 545.0L561.2 552.5L557.5 565.0L550.0 570.0L555.0 576.2L552.5 583.8L556.2 587.5L552.5 600.0L550.0 612.5L546.2 625.0L542.5 635.0L546.2 617.5L541.2 632.5L537.5 642.5L533.8 652.5L532.5 665.0L531.2 677.5L526.2 685.0L520.0 691.2L512.5 696.2L509.5 701.2L512.5 705.0L520.0 702.5L527.5 707.5L535.0 710.0L542.5 703.8L551.2 702.5L557.5 705.0L570.0 706.2L582.5 705.0L595.0 705.0L605.0 700.0L615.0 698.8L625.0 702.5L637.5 700.0L647.5 702.5L657.5 705.0L667.5 711.2L677.5 717.5L687.5 723.8L695.0 728.8L701.2 733.8L697.5 742.5L698.8 752.5L697.5 760.0L694.5 768.8" stroke-width="1.3"/><path d="M550.0 603.8L545.0 601.2L538.8 600.0L533.8 607.5L528.8 615.0L536.2 616.2L538.8 622.5L536.2 630.0L533.8 642.5L530.0 655.0L528.8 665.0L531.2 677.5" stroke-width="1.3"/><path d="M542.5 643.8L547.0 645.0L546.2 652.5L543.0 657.5L542.0 651.2z" stroke-width="2.2"/><path d="M493.8 716.2L500.0 713.8L506.2 710.0L512.5 706.2L507.5 715.0L497.5 720.0z" stroke-width="1.3"/><path d="M585.0 688.8L592.5 685.0L602.5 683.0" stroke-width="2.5"/><path d="M609.0 682.0L611.5 683.0" stroke-width="3"/><path d="M573.8 695.5L577.0 694.5" stroke-width="2.5"/><path d="M572.5 547.5L576.2 540.0L581.2 537.5L580.0 542.5L575.0 548.8z" stroke-width="1.3"/><path d="M406.2 607.5L413.8 603.8L426.2 598.8L431.2 601.2L430.0 607.5L422.5 612.5L412.5 612.5z" stroke-width="1.3"/><path d="M140.0 665.0L150.0 670.0L165.0 675.0L180.0 678.8L190.0 687.5L205.0 692.5L215.0 700.0L233.8 702.5L243.8 707.5L255.0 710.5L267.5 708.8L280.0 703.8L292.5 697.5L300.0 691.2L310.0 690.5L322.5 691.2L335.0 695.0L347.5 702.5L360.0 712.5L372.5 725.0L387.5 740.0L400.0 751.2L411.2 760.0L423.8 771.2" stroke-width="1.3"/><path d="M251.2 615.0L256.2 615.0L260.5 622.5L256.2 625.0L252.5 620.0z" stroke-width="1.3"/><path d="M302.5 616.2L304.5 612.5L306.5 616.2z" stroke-width="1.3"/><path d="M316.2 633.8L318.8 636.2L317.0 639.5L315.5 637.0z" stroke-width="1.3"/><path d="M345.5 659.5L352.5 657.0L358.8 660.0L361.2 663.0L355.0 661.2L350.0 660.0z" stroke-width="1.3"/><path d="M288.0 683.8L290.5 678.0L293.0 683.8z" stroke-width="1.3"/><path d="M375.0 690.0L381.2 685.0L380.0 690.0L390.0 692.5L400.0 700.0L403.8 703.8L395.0 700.0L387.5 697.5L385.0 701.2L380.0 693.8z" stroke-width="1.3"/><path d="M442.0 642.5L443.8 639.5L446.2 638.8" stroke-width="1.3"/><path d="M431.2 743.8L435.0 742.5L435.5 745.5L432.0 746.2z" stroke-width="1.3"/><path d="M197.5 595.5L203.0 597.5" stroke-width="2"/><path d="M272.5 611.2L276.2 607.5L280.0 605.5" stroke-width="1.5"/><path d="M642.5 491.2L652.5 487.5L661.2 483.8L660.0 473.8L665.0 468.8L675.0 462.5L687.5 456.2L702.5 451.2L717.5 447.5L730.0 444.5L742.5 444.5L755.0 447.5L765.0 443.8L775.0 443.2L785.0 447.0L795.0 452.0L805.0 456.2L815.0 461.2L825.0 467.0L835.0 470.0L847.5 472.0L860.0 475.5L870.0 480.0L880.0 486.2L887.5 493.8L895.0 500.5L905.0 507.5L915.0 511.2L921.8 514.5L884.4 495.0L895.0 498.5L903.9 503.9L912.7 509.2L923.3 512.7L934.0 516.3L941.0 518.9L949.9 518.9L954.3 523.3L951.7 528.6L949.0 532.2L955.2 533.1L962.3 533.1L964.9 534.8" stroke-width="1.3"/><path d="M642.5 491.2L648.8 492.5L655.0 490.0L657.5 495.0L665.0 491.2L673.8 486.2L676.2 482.5L687.5 481.2L696.2 478.8L702.5 472.5L712.5 466.2L717.5 462.0L730.0 462.5L742.5 462.5L750.0 465.0L752.5 468.8L747.5 471.2L737.5 472.5L741.2 477.5L750.0 481.2L757.5 483.8L766.2 483.8L767.5 477.5L770.0 483.8L780.0 485.0L790.0 485.0L797.5 490.0L805.0 495.0L815.0 498.8L825.0 501.2L835.0 503.0L845.0 501.2L850.0 500.5L841.9 501.2L849.8 500.3L854.3 509.2L857.8 519.8L863.1 526.0L870.2 530.4L880.8 533.1L891.5 533.1L898.5 534.8L903.9 540.2L902.1 546.4L895.0 551.7L887.9 557.0L883.5 561.4L885.3 564.1L895.0 563.2L909.2 561.4L925.1 559.6L937.5 558.4L948.1 559.1L960.5 561.4L964.9 561.9" stroke-width="1.3"/><path d="M765.0 444.5L773.8 443.0L780.0 445.0L790.0 448.0L796.2 450.0L802.5 449.5L810.0 453.8L817.5 458.8L823.8 463.0" stroke-width="2.6"/><path d="M832.5 465.5L842.5 463.8L850.0 467.0L860.0 469.5L867.5 473.8L876.2 477.0L882.5 482.5L885.0 487.5" stroke-width="2.8"/><path d="M880.0 485.0L890.0 493.8L898.8 501.2L902.5 505.0" stroke-width="2.2"/><path d="M910.0 511.2L915.0 512.5" stroke-width="2.5"/><path d="M741.2 478.8L747.5 481.2L755.0 483.0L762.5 484.5L766.2 484.0" stroke-width="3"/><path d="M721.2 500.5L730.0 501.2L740.0 499.0L750.0 499.5L761.2 498.2" stroke-width="1.6"/><path d="M765.0 500.0L772.5 499.2" stroke-width="1.3"/><path d="M686.2 488.0L695.5 488.8" stroke-width="1.5"/><path d="M826.2 518.8L837.5 526.2L850.0 532.5L862.5 538.8" stroke-width="2.6"/><path d="M863.8 532.5L870.0 536.2L876.2 540.0" stroke-width="2.2"/><path d="M701.2 502.5L702.5 495.0L707.5 490.0L715.0 489.5L720.0 493.8L721.2 500.0L717.5 504.5L710.0 506.2L703.8 505.5z" stroke-width="1.3"/><path d="M760.0 580.5L765.0 582.5L770.0 582.0" stroke-width="2.4"/><path d="M803.8 570.0L808.8 568.5" stroke-width="2.2"/><path d="M811.2 568.2L816.2 567.2" stroke-width="2.2"/><path d="M791.2 416.2L801.2 413.8" stroke-width="1.4"/><path d="M810.0 412.5L813.8 418.8L817.5 425.0L823.8 432.5" stroke-width="1.5" stroke-dasharray="1.5,2.5"/><path d="M861.2 618.8L865.0 613.8L875.0 612.5L880.0 610.0L890.0 611.2L900.0 612.5L910.0 616.2L920.0 620.0L927.5 623.8L933.8 631.2L930.0 633.8L920.0 632.5L912.5 630.0L907.5 633.8L903.8 638.8L898.8 637.5L892.5 633.8L882.5 633.8L877.5 628.8L872.5 623.8L865.0 622.5z" stroke-width="1.3"/><path d="M840.0 313.8L843.8 318.0L847.5 320.0L857.5 318.8L870.0 316.2L876.2 312.5L877.5 308.8" stroke-width="1.5"/><path d="M840.0 313.8L848.8 320.0" stroke-width="2.6"/><path d="M860.0 293.8L870.0 298.8L882.5 303.8L892.5 308.8L900.0 315.0L907.5 320.0L906.2 330.0L902.5 337.5L900.0 345.0L895.0 340.0L900.0 331.2L898.8 322.5L892.5 316.2L885.0 310.0L877.5 308.8" stroke-width="1.5"/><path d="M892.5 311.2L900.0 318.8L902.5 327.5L900.0 335.0" stroke-width="3"/><path d="M876.2 347.5L881.2 352.5L882.5 358.8L878.8 362.5" stroke-width="1.6"/><path d="M831.2 350.0L830.0 357.5L833.8 365.0L835.0 368.8" stroke-width="1.3"/><path d="M867.5 366.2L871.2 370.0L876.2 382.5L882.5 395.0L887.5 407.5L890.0 420.0L886.2 426.2L880.0 425.0L878.8 415.0L873.8 405.0L867.5 397.5L861.2 393.8L857.0 390.0L863.8 385.0L866.2 375.0z" stroke-width="1.6"/><path d="M876.2 403.8L883.8 411.2L885.0 422.5" stroke-width="4.5"/><path d="M862.5 388.8L866.2 383.8" stroke-width="3"/><path d="M888.8 376.2L897.5 373.8L902.5 376.2L895.0 378.2z" stroke-width="1.3"/><path d="M902.5 375.0L908.8 370.0L912.5 360.0L917.5 357.5L925.0 363.8L932.5 370.0L937.5 376.2L935.0 385.0L933.8 391.2" stroke-width="1.5"/><path d="M912.5 383.8L915.0 395.0L922.5 405.0L930.0 415.0L937.5 425.0L947.5 431.2L960.0 436.2L950.0 435.0L940.0 432.5" stroke-width="1.5"/><path d="M948.8 390.0L953.8 396.2L960.0 405.0L963.8 410.0L957.5 407.5" stroke-width="1.4"/><path d="M962.5 426.2L967.5 435.0L971.2 446.2L966.2 443.8" stroke-width="1.8"/><path d="M962.5 445.0L952.5 450.0L946.2 457.5L945.0 467.5L948.8 478.8L952.5 487.5L957.5 503.8" stroke-width="1.3"/><path d="M790.0 416.2L801.2 412.5" stroke-width="1.4"/><path d="M811.2 412.5L815.0 420.0L818.8 426.2L823.8 432.5" stroke-width="1.5" stroke-dasharray="1.5,2.5"/><path d="M717.5 265.0L722.5 266.2L726.2 270.0L725.0 277.5L720.0 282.5L716.2 280.0" stroke-width="1.5"/><path d="M732.5 310.0L738.8 305.0L740.0 312.5L745.0 315.0L740.0 322.5" stroke-width="1.5"/><path d="M771.2 305.0L773.8 298.8L780.0 296.2L785.0 300.0L786.2 307.5L782.5 313.8L776.2 313.8z" stroke-width="1.3"/><path d="M752.5 173.8L750.0 182.5L753.8 192.5L751.2 201.2L755.0 197.5" stroke-width="1.4"/><path d="M752.5 210.0L751.2 216.2L755.0 220.0L756.2 215.0z" stroke-width="1.3"/><path d="M749.5 242.5L751.5 240.0L753.5 242.5L751.5 245.0z" stroke-width="1.3"/><path d="M761.2 257.5L765.0 255.0L763.8 260.0z" stroke-width="1.3"/><path d="M763.8 268.8L767.0 271.2L765.0 273.8z" stroke-width="1.3"/><path d="M762.5 287.5L765.0 289.5L763.0 292.0z" stroke-width="1.3"/><path d="M763.8 235.0L768.8 237.5L772.5 236.2L773.8 241.2" stroke-width="1.5"/><path d="M762.5 185.0L770.0 212.5L780.0 240.0L785.0 252.5" stroke-width="1.0"/><path d="M782.5 373.8L776.2 379.5L768.8 383.8L762.5 386.5" stroke-width="1.5"/><path d="M762.5 386.5L756.2 388.5L750.0 391.0L743.8 393.0" stroke-width="4.2"/><path d="M740.0 393.8L737.5 394.5" stroke-width="2.2"/><path d="M780.0 370.0L785.0 373.8L792.5 370.0L787.5 367.5" stroke-width="2.6"/><path d="M770.0 366.2L773.8 368.8" stroke-width="4"/><path d="M732.5 315.0L737.5 322.5" stroke-width="3"/><path d="M715.0 232.5L717.5 240.0" stroke-width="2.5"/><path d="M453.8 180.0L458.8 176.2L467.5 175.0L473.8 178.8L480.0 183.8L476.2 187.5L467.5 188.8L460.0 186.2L455.0 183.8z" stroke-width="1.3"/><path d="M454.5 179.5L457.0 177.5L459.0 180.0L456.5 182.5z" stroke-width="1.3"/><path d="M463.8 196.2L467.0 195.0L466.0 200.0L463.0 201.2z" stroke-width="1.3"/><path d="M486.2 205.0L491.2 197.5L496.2 190.0L499.5 186.2" stroke-width="5"/><path d="M480.0 190.0L486.2 186.2L491.2 183.8" stroke-width="3"/><path d="M467.5 208.8L477.5 213.8L486.2 216.2" stroke-width="3.5"/><path d="M445.0 223.0L455.0 218.8L463.8 220.5" stroke-width="3"/><path d="M512.5 187.5L511.2 196.2L506.2 203.8L500.0 209.5" stroke-width="2" stroke-dasharray="1.5,2.5"/><path d="M612.5 178.8L620.0 183.8L625.0 190.0" stroke-width="2.2"/><path d="M641.2 155.0L645.0 161.2L651.2 158.8L647.5 157.5" stroke-width="1.4"/><path d="M716.2 266.2L722.5 267.5L725.0 273.8L720.0 280.0L717.5 285.0" stroke-width="1.5"/><path d="M567.5 167.5L572.5 171.2" stroke-width="1.6"/><path d="M590.0 170.0L600.0 172.0" stroke-width="2"/><path d="M553.8 175.0L560.0 173.0" stroke-width="1.8"/><path d="M305.0 207.5L310.0 200.0L316.2 197.5L317.5 203.8L312.5 208.8z" stroke-width="1.3"/><path d="M342.5 201.2L343.8 192.5L347.0 190.0L347.0 196.2L344.5 200.0z" stroke-width="1.3"/><path d="M358.8 197.5L362.5 186.2L364.5 192.5L363.8 197.5z" stroke-width="1.3"/><path d="M378.8 191.2L383.8 192.5L387.5 197.5L392.5 197.5L391.2 200.5L386.2 199.5z" stroke-width="1.3"/><path d="M400.0 200.0L406.2 197.5L412.5 198.8L416.2 206.2L410.0 207.5L405.0 203.8z" stroke-width="1.3"/><path d="M420.0 188.8L423.8 193.8L427.5 197.5L435.0 200.0" stroke-width="1.6"/><path d="M427.5 207.5L432.5 213.8L440.0 220.0L445.0 225.5" stroke-width="2"/><path d="M448.8 223.8L455.0 218.8L461.2 217.5L465.0 222.5L457.5 225.5z" stroke-width="1.8"/><path d="M250.0 238.8L255.0 243.8L260.0 240.0L266.2 237.5L262.5 243.8" stroke-width="1.4"/><path d="M231.2 262.5L238.8 258.8L245.0 250.0L248.8 253.8" stroke-width="1.6"/><path d="M213.8 290.0L220.0 291.2L223.8 285.0" stroke-width="2"/><path d="M221.2 305.0L223.8 320.0L227.5 335.0L231.2 340.0" stroke-width="2.2"/><path d="M213.8 367.5L220.0 360.0L225.0 365.0L220.0 372.5" stroke-width="2"/><path d="M208.8 257.0L210.5 263.8" stroke-width="1.5"/><path d="M192.5 165.0L195.0 168.0" stroke-width="1.6"/><path d="M453.8 180.0L457.5 176.2L466.2 175.0L471.8 178.8L473.8 185.0L467.5 188.0L460.0 186.2L455.0 183.8z" stroke-width="1.3"/><path d="M462.5 197.5L466.2 196.2L467.0 200.0L463.8 202.0z" stroke-width="1.3"/><path d="M220.0 367.5L216.2 382.5L213.8 405.0L212.5 425.0" stroke-width="2.2"/><path d="M217.5 495.0L223.8 500.0L226.2 506.2L222.5 503.8" stroke-width="1.6"/><path d="M195.0 469.5L196.0 470.5" stroke-width="2"/><path d="M202.5 473.8L205.0 477.5L203.8 480.0" stroke-width="1.6"/><path d="M188.8 485.0L192.5 482.5L198.8 482.0" stroke-width="1.6" stroke-dasharray="1.5,2.5"/><path d="M338.8 111.9L343.2 118.1L345.8 126.9L349.4 128.7L352.4 134.0L353.8 142.9L349.4 142.0L347.6 135.8L348.5 130.5L345.0 127.8L342.3 119.0z" stroke-width="1.2"/><path d="M191.0 154.0L193.0 158.0" stroke-width="1.5"/><path d="M192.0 163.0L194.0 167.0" stroke-width="1.5"/><path d="M159.0 302.0L164.0 310.0L169.0 320.0" stroke-width="1.6"/><path d="M171.0 335.0L175.0 340.0" stroke-width="1.8"/><path d="M810.0 83.8L800.0 90.0L790.0 96.2L782.5 100.0L777.5 110.0L770.0 118.8L765.0 128.8L758.8 140.0" stroke-width="2.4"/><path d="M753.8 172.5L750.0 180.0L753.0 190.0L755.5 200.0" stroke-width="1.4"/><path d="M751.2 213.8L753.8 211.2L755.5 216.2L753.0 219.5z" stroke-width="1.3"/><path d="M692.5 697.5L697.5 703.8" stroke-width="1.5" stroke-dasharray="1.5,2.5"/><path d="M705.0 752.5L717.5 747.5" stroke-width="2.2" stroke-dasharray="1.5,2.5"/><path d="M715.0 725.0L722.5 730.0" stroke-width="1.8" stroke-dasharray="1.5,2.5"/><path d="M670.0 716.2L672.5 720.0L677.5 721.2L683.8 725.0L686.2 723.8" stroke-width="1.4"/><path d="M693.8 737.5L696.2 745.0L695.0 740.0z" stroke-width="1.3"/><path d="M460.0 665.0L472.5 664.5L482.5 663.8" stroke-width="2" stroke-dasharray="1.5,2.5"/><path d="M538.8 736.2L541.2 737.5L540.0 740.5z" stroke-width="1.3"/><path d="M442.0 640.0L445.0 638.8L443.8 643.8" stroke-width="1.5"/><path d="M965.0 426.2L968.8 435.0L972.5 446.2" stroke-width="2.5"/></g>
<g font-family="Liberation Sans, sans-serif"><text x="131.3" y="119.3" text-anchor="end" font-size="22" textLength="50" lengthAdjust="spacingAndGlyphs" fill="#000">32°N</text><text x="131.3" y="273.3" text-anchor="end" font-size="22" textLength="50" lengthAdjust="spacingAndGlyphs" fill="#000">28°N</text><text x="131.3" y="421.7" text-anchor="end" font-size="22" textLength="50" lengthAdjust="spacingAndGlyphs" fill="#000">24°N</text><text x="131.3" y="565.6" text-anchor="end" font-size="22" textLength="50" lengthAdjust="spacingAndGlyphs" fill="#000">20°N</text><text x="131.3" y="705.8" text-anchor="end" font-size="22" textLength="50" lengthAdjust="spacingAndGlyphs" fill="#000">16°N</text><text x="139.8" y="789" text-anchor="middle" font-size="22" textLength="67.5" lengthAdjust="spacingAndGlyphs" fill="#000">100°W</text><text x="308.5" y="789" text-anchor="middle" font-size="22" textLength="56" lengthAdjust="spacingAndGlyphs" fill="#000">95°W</text><text x="475.3" y="789" text-anchor="middle" font-size="22" textLength="56" lengthAdjust="spacingAndGlyphs" fill="#000">90°W</text><text x="642.2" y="789" text-anchor="middle" font-size="22" textLength="56" lengthAdjust="spacingAndGlyphs" fill="#000">85°W</text><text x="809.0" y="789" text-anchor="middle" font-size="22" textLength="56" lengthAdjust="spacingAndGlyphs" fill="#000">80°W</text></g>
<defs><linearGradient id="jet" x1="0" y1="1" x2="0" y2="0"><stop offset="0.0000" stop-color="rgb(0,0,128)"/><stop offset="0.0312" stop-color="rgb(0,0,159)"/><stop offset="0.0625" stop-color="rgb(0,0,191)"/><stop offset="0.0938" stop-color="rgb(0,0,223)"/><stop offset="0.1250" stop-color="rgb(0,0,255)"/><stop offset="0.1562" stop-color="rgb(0,32,255)"/><stop offset="0.1875" stop-color="rgb(0,64,255)"/><stop offset="0.2188" stop-color="rgb(0,96,255)"/><stop offset="0.2500" stop-color="rgb(0,128,255)"/><stop offset="0.2812" stop-color="rgb(0,159,255)"/><stop offset="0.3125" stop-color="rgb(0,191,255)"/><stop offset="0.3438" stop-color="rgb(0,223,255)"/><stop offset="0.3750" stop-color="rgb(0,255,255)"/><stop offset="0.4062" stop-color="rgb(32,255,223)"/><stop offset="0.4375" stop-color="rgb(64,255,191)"/><stop offset="0.4688" stop-color="rgb(96,255,159)"/><stop offset="0.5000" stop-color="rgb(128,255,128)"/><stop offset="0.5312" stop-color="rgb(159,255,96)"/><stop offset="0.5625" stop-color="rgb(191,255,64)"/><stop offset="0.5938" stop-color="rgb(223,255,32)"/><stop offset="0.6250" stop-color="rgb(255,255,0)"/><stop offset="0.6562" stop-color="rgb(255,223,0)"/><stop offset="0.6875" stop-color="rgb(255,191,0)"/><stop offset="0.7188" stop-color="rgb(255,159,0)"/><stop offset="0.7500" stop-color="rgb(255,128,0)"/><stop offset="0.7812" stop-color="rgb(255,96,0)"/><stop offset="0.8125" stop-color="rgb(255,64,0)"/><stop offset="0.8438" stop-color="rgb(255,32,0)"/><stop offset="0.8750" stop-color="rgb(255,0,0)"/><stop offset="0.9062" stop-color="rgb(223,0,0)"/><stop offset="0.9375" stop-color="rgb(191,0,0)"/><stop offset="0.9688" stop-color="rgb(159,0,0)"/><stop offset="1.0000" stop-color="rgb(128,0,0)"/></linearGradient></defs><rect x="989.3" y="75.4" width="34.6" height="693.0" fill="url(#jet)" stroke="#262626" stroke-width="0.8"/><line x1="1016" x2="1024" y1="143.7" y2="143.7" stroke="#262626" stroke-width="0.9"/><line x1="1016" x2="1024" y1="195.8" y2="195.8" stroke="#262626" stroke-width="0.9"/><line x1="1016" x2="1024" y1="247.9" y2="247.9" stroke="#262626" stroke-width="0.9"/><line x1="1016" x2="1024" y1="312.8" y2="312.8" stroke="#262626" stroke-width="0.9"/><line x1="1016" x2="1024" y1="354.9" y2="354.9" stroke="#262626" stroke-width="0.9"/><line x1="1016" x2="1024" y1="421.5" y2="421.5" stroke="#262626" stroke-width="0.9"/><line x1="1016" x2="1024" y1="488.0" y2="488.0" stroke="#262626" stroke-width="0.9"/><line x1="1016" x2="1024" y1="530.2" y2="530.2" stroke="#262626" stroke-width="0.9"/><line x1="1016" x2="1024" y1="595.2" y2="595.2" stroke="#262626" stroke-width="0.9"/><line x1="1016" x2="1024" y1="647.3" y2="647.3" stroke="#262626" stroke-width="0.9"/><line x1="1016" x2="1024" y1="699.4" y2="699.4" stroke="#262626" stroke-width="0.9"/><g font-family="Liberation Sans, sans-serif" font-size="25" fill="#262626"><text x="1033.3" y="85.1" textLength="29.6" lengthAdjust="spacingAndGlyphs">50</text><text x="1033.3" y="153.4" textLength="29.6" lengthAdjust="spacingAndGlyphs">20</text><text x="1033.3" y="205.5" textLength="29.6" lengthAdjust="spacingAndGlyphs">10</text><text x="1033.3" y="257.6" textLength="14.4" lengthAdjust="spacingAndGlyphs">5</text><text x="1033.3" y="322.5" textLength="14.4" lengthAdjust="spacingAndGlyphs">2</text><text x="1033.3" y="364.6" textLength="14.4" lengthAdjust="spacingAndGlyphs">1</text><text x="1033.3" y="431.2" textLength="14.4" lengthAdjust="spacingAndGlyphs">0</text><text x="1033.3" y="497.7" textLength="23.9" lengthAdjust="spacingAndGlyphs">-1</text><text x="1033.3" y="539.9" textLength="23.9" lengthAdjust="spacingAndGlyphs">-2</text><text x="1033.3" y="604.9" textLength="23.9" lengthAdjust="spacingAndGlyphs">-5</text><text x="1033.3" y="657.0" textLength="39.1" lengthAdjust="spacingAndGlyphs">-10</text><text x="1033.3" y="709.1" textLength="39.1" lengthAdjust="spacingAndGlyphs">-20</text><text x="1033.3" y="778.1" textLength="39.1" lengthAdjust="spacingAndGlyphs">-50</text></g>

</svg></body></html>
